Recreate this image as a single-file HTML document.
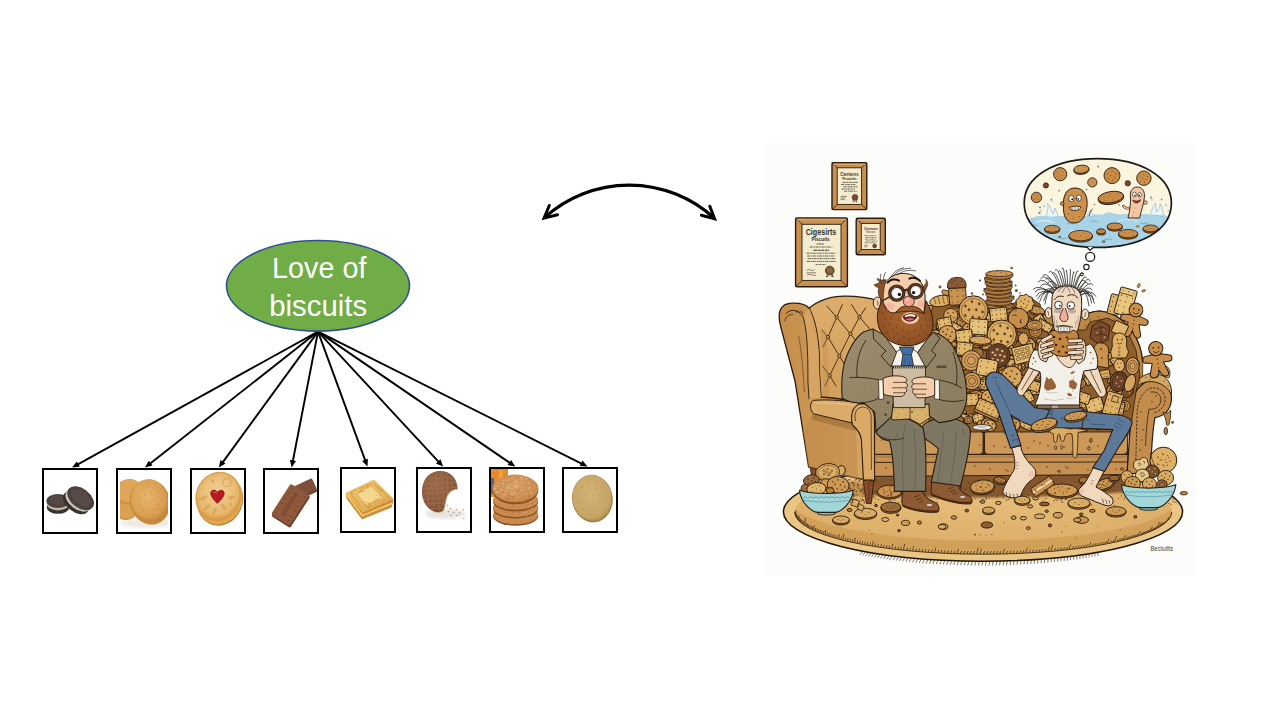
<!DOCTYPE html>
<html lang="en"><head><meta charset="utf-8"><title>Love of biscuits</title>
<style>
html,body{margin:0;padding:0;background:#fff;}
body{width:1280px;height:720px;overflow:hidden;}
svg{display:block;}
.t{font-family:"Liberation Sans",sans-serif;}
.s{font-family:"Liberation Serif",serif;}
</style></head><body>
<svg width="1280" height="720" viewBox="0 0 1280 720">
<rect width="1280" height="720" fill="#fff"/>
<defs>
<radialGradient id="gDig" cx="0.45" cy="0.4" r="0.65"><stop offset="0" stop-color="#E6B56C"/><stop offset="0.7" stop-color="#D99E52"/><stop offset="1" stop-color="#B87630"/></radialGradient>
<radialGradient id="gJam" cx="0.45" cy="0.4" r="0.65"><stop offset="0" stop-color="#F0CF94"/><stop offset="0.75" stop-color="#E8B96F"/><stop offset="1" stop-color="#D8923F"/></radialGradient>
<radialGradient id="gTea" cx="0.45" cy="0.4" r="0.65"><stop offset="0" stop-color="#D2B477"/><stop offset="0.8" stop-color="#C6A465"/><stop offset="1" stop-color="#A98345"/></radialGradient>
<radialGradient id="gChoc" cx="0.4" cy="0.35" r="0.7"><stop offset="0" stop-color="#9A6A48"/><stop offset="0.8" stop-color="#87573A"/><stop offset="1" stop-color="#6E432B"/></radialGradient>
<radialGradient id="gHob" cx="0.45" cy="0.4" r="0.7"><stop offset="0" stop-color="#D9A066"/><stop offset="0.8" stop-color="#C98A4E"/><stop offset="1" stop-color="#A8642F"/></radialGradient>
<linearGradient id="gCus" x1="0" y1="0" x2="1" y2="1"><stop offset="0" stop-color="#F0CB78"/><stop offset="1" stop-color="#E0A64C"/></linearGradient>
<filter id="b1"><feGaussianBlur stdDeviation="0.6"/></filter>
<filter id="b2"><feGaussianBlur stdDeviation="1.6"/></filter>
<clipPath id="cb2"><rect x="120" y="470" width="48" height="60"/></clipPath>
<clipPath id="cb7"><rect x="491" y="469" width="50" height="60"/></clipPath>

<clipPath id="cBub"><path d="M1097.6,158.6 C1140,158.6 1171.4,176 1171.4,203 C1171.4,231 1140,247.4 1097.6,247.4 C1055,247.4 1024.2,231 1024.2,203 C1024.2,176 1055,158.6 1097.6,158.6Z"/></clipPath>
<radialGradient id="gRug" cx="0.5" cy="0.35" r="0.7"><stop offset="0" stop-color="#E6BD79"/><stop offset="0.75" stop-color="#DDB06A"/><stop offset="1" stop-color="#CF9D56"/></radialGradient>
<clipPath id="cRugIn"><ellipse cx="983.2" cy="512" rx="188.6" ry="42.2"/></clipPath>

<linearGradient id="gWing" x1="0" y1="0" x2="1" y2="0"><stop offset="0" stop-color="#C48D4A"/><stop offset="0.55" stop-color="#CF9A57"/><stop offset="1" stop-color="#D9A965"/></linearGradient>
<linearGradient id="gBack" x1="0" y1="0" x2="0" y2="1"><stop offset="0" stop-color="#DDAE6B"/><stop offset="1" stop-color="#CE9A58"/></linearGradient>
<linearGradient id="gUnder" x1="0" y1="0" x2="0" y2="1"><stop offset="0" stop-color="#6E4420"/><stop offset="0.6" stop-color="#8E5E2E"/><stop offset="1" stop-color="#B88748" stop-opacity="0"/></linearGradient>
<filter id="bs"><feGaussianBlur stdDeviation="1.2"/></filter>

<linearGradient id="gJk" x1="0" y1="0" x2="1" y2="1"><stop offset="0" stop-color="#A09070"/><stop offset="1" stop-color="#8A7D5E"/></linearGradient>
<radialGradient id="gBeard" cx="0.5" cy="0.4" r="0.7"><stop offset="0" stop-color="#A8662F"/><stop offset="1" stop-color="#874A22"/></radialGradient>
<pattern id="pTweed" width="2.4" height="2.4" patternUnits="userSpaceOnUse"><rect width="2.4" height="2.4" fill="none"/><circle cx="0.6" cy="0.6" r="0.35" fill="#5E553F" opacity="0.55"/><circle cx="1.8" cy="1.8" r="0.35" fill="#5E553F" opacity="0.55"/></pattern>
</defs>
<g id="illustration">
<rect x="765" y="143.75" width="431.3" height="432" fill="#FCFCFA"/>
<rect x="832" y="162.6" width="34.799999999999955" height="47.0" rx="1.5" fill="#C8904E" stroke="#2A1B10" stroke-width="1.4"/><rect x="837.2" y="167.79999999999998" width="24.399999999999956" height="36.6" fill="#F5EBCF" stroke="#2A1B10" stroke-width="0.9"/><line x1="832" y1="162.6" x2="837.2" y2="167.79999999999998" stroke="#2A1B10" stroke-width="0.8"/><line x1="866.8" y1="162.6" x2="861.5999999999999" y2="167.79999999999998" stroke="#2A1B10" stroke-width="0.8"/><line x1="832" y1="209.6" x2="837.2" y2="204.4" stroke="#2A1B10" stroke-width="0.8"/><line x1="866.8" y1="209.6" x2="861.5999999999999" y2="204.4" stroke="#2A1B10" stroke-width="0.8"/><line x1="833.6" y1="164.4" x2="865.1999999999999" y2="164.4" stroke="#DDAE70" stroke-width="1"/>
<text x="849.4" y="175.6" text-anchor="middle" font-size="5" font-weight="bold" fill="#3A3228" class="t" textLength="18.5" lengthAdjust="spacingAndGlyphs">Cierteors</text>
<text x="849.4" y="179.9" text-anchor="middle" font-size="3.8" font-weight="bold" fill="#3A3228" class="t" textLength="14.5" lengthAdjust="spacingAndGlyphs">Pesaishs</text>
<line x1="842.5" y1="182.4" x2="858.0" y2="182.4" stroke="#4A4238" stroke-width="0.8" stroke-dasharray="3.2 0.7 1.6 0.5"/><line x1="841.0" y1="184.6" x2="855.5" y2="184.6" stroke="#4A4238" stroke-width="0.8" stroke-dasharray="3.2 0.7 1.6 0.5"/><line x1="843.5" y1="186.8" x2="857.5" y2="186.8" stroke="#4A4238" stroke-width="0.8" stroke-dasharray="3.2 0.7 1.6 0.5"/><line x1="841.5" y1="189" x2="855.0" y2="189" stroke="#4A4238" stroke-width="0.8" stroke-dasharray="3.2 0.7 1.6 0.5"/><line x1="844.0" y1="191.2" x2="856.5" y2="191.2" stroke="#4A4238" stroke-width="0.8" stroke-dasharray="3.2 0.7 1.6 0.5"/>
<circle cx="855" cy="197.4" r="2.9" fill="#7A4F2E" stroke="#3A2414" stroke-width="0.6"/><path d="M853.6,199.6 l-0.6,2.4 l1.6,-0.8 M856.2,199.8 l0.8,2.2 l-1.6,-0.7" stroke="#3A2414" stroke-width="0.6" fill="none"/>
<path d="M840.6,196.4 h6.4 M840.6,198 h5 M840.6,199.6 h4" stroke="#4A4238" stroke-width="0.6"/>
<rect x="795.6" y="217.9" width="51.799999999999955" height="68.9" rx="1.5" fill="#C8904E" stroke="#2A1B10" stroke-width="1.4"/><rect x="802.0" y="224.3" width="38.99999999999996" height="56.10000000000001" fill="#F5EBCF" stroke="#2A1B10" stroke-width="0.9"/><line x1="795.6" y1="217.9" x2="802.0" y2="224.3" stroke="#2A1B10" stroke-width="0.8"/><line x1="847.4" y1="217.9" x2="841.0" y2="224.3" stroke="#2A1B10" stroke-width="0.8"/><line x1="795.6" y1="286.8" x2="802.0" y2="280.40000000000003" stroke="#2A1B10" stroke-width="0.8"/><line x1="847.4" y1="286.8" x2="841.0" y2="280.40000000000003" stroke="#2A1B10" stroke-width="0.8"/><line x1="797.2" y1="219.70000000000002" x2="845.8" y2="219.70000000000002" stroke="#DDAE70" stroke-width="1"/>
<text x="821" y="235.1" text-anchor="middle" font-size="8.6" font-weight="bold" fill="#34302A" class="t" textLength="30.6" lengthAdjust="spacingAndGlyphs">Cigesirts</text>
<text x="820.6" y="241.1" text-anchor="middle" font-size="6.2" font-weight="bold" fill="#34302A" class="t" textLength="18.2" lengthAdjust="spacingAndGlyphs">Piscuits</text>
<path d="M816.6,244 h7.4" stroke="#4A4238" stroke-width="0.8"/>
<line x1="809.6" y1="247" x2="832.4" y2="247" stroke="#4A4238" stroke-width="0.8" stroke-dasharray="3.2 0.7 1.6 0.5"/>
<path d="M813.4,250.2 h15.6" stroke="#3A342C" stroke-width="1.1" stroke-dasharray="4 0.6 2 0.4"/>
<line x1="806.6" y1="253.2" x2="835.5" y2="253.2" stroke="#4A4238" stroke-width="0.8" stroke-dasharray="3.2 0.7 1.6 0.5"/><line x1="807.1" y1="256" x2="835.0" y2="256" stroke="#4A4238" stroke-width="0.8" stroke-dasharray="3.2 0.7 1.6 0.5"/><line x1="807.6" y1="258.6" x2="836.0" y2="258.6" stroke="#4A4238" stroke-width="0.8" stroke-dasharray="3.2 0.7 1.6 0.5"/><line x1="806.6" y1="261.4" x2="836.0" y2="261.4" stroke="#4A4238" stroke-width="0.8" stroke-dasharray="3.2 0.7 1.6 0.5"/>
<path d="M815.6,264.6 h10.6" stroke="#4A4238" stroke-width="0.8" stroke-dasharray="2.5 0.8"/>
<circle cx="829.8" cy="270.6" r="4.4" fill="#7A5A36" stroke="#3A2414" stroke-width="0.7"/><circle cx="829.8" cy="270.6" r="2.4" fill="#8F6D44"/><path d="M827.6,274.2 l-1.2,2.6 l2.2,-0.9 M832,274.2 l1.2,2.6 l-2.2,-0.9" stroke="#3A2414" stroke-width="0.8" fill="none"/>
<path d="M806.6,270.6 q2,-2 4,-0.6 t4,-0.4 M806.6,272.8 h9.6 M807,275 q3,-1.4 5,0 t4,-0.2" stroke="#4A4238" stroke-width="0.6" fill="none"/>
<rect x="856.2" y="218.3" width="29.09999999999991" height="36.39999999999998" rx="1.5" fill="#C8904E" stroke="#2A1B10" stroke-width="1.4"/><rect x="861.3000000000001" y="223.4" width="18.89999999999991" height="26.199999999999978" fill="#F5EBCF" stroke="#2A1B10" stroke-width="0.9"/><line x1="856.2" y1="218.3" x2="861.3000000000001" y2="223.4" stroke="#2A1B10" stroke-width="0.8"/><line x1="885.3" y1="218.3" x2="880.1999999999999" y2="223.4" stroke="#2A1B10" stroke-width="0.8"/><line x1="856.2" y1="254.7" x2="861.3000000000001" y2="249.6" stroke="#2A1B10" stroke-width="0.8"/><line x1="885.3" y1="254.7" x2="880.1999999999999" y2="249.6" stroke="#2A1B10" stroke-width="0.8"/><line x1="857.8000000000001" y1="220.10000000000002" x2="883.6999999999999" y2="220.10000000000002" stroke="#DDAE70" stroke-width="1"/>
<text x="870.8" y="229.9" text-anchor="middle" font-size="3.9" font-weight="bold" fill="#3A3228" class="t" textLength="13.8" lengthAdjust="spacingAndGlyphs">Ciertuars</text>
<text x="870.8" y="233.3" text-anchor="middle" font-size="2.6" fill="#3A3228" class="t" textLength="9.6" lengthAdjust="spacingAndGlyphs">Simusonr</text>
<line x1="864.4" y1="235.6" x2="876.4" y2="235.6" stroke="#4A4238" stroke-width="0.6" stroke-dasharray="3.2 0.7 1.6 0.5"/><line x1="865.4" y1="237.4" x2="876.9" y2="237.4" stroke="#4A4238" stroke-width="0.6" stroke-dasharray="3.2 0.7 1.6 0.5"/><line x1="864.9" y1="239.2" x2="875.9" y2="239.2" stroke="#4A4238" stroke-width="0.6" stroke-dasharray="3.2 0.7 1.6 0.5"/><line x1="865.9" y1="241" x2="877.4" y2="241" stroke="#4A4238" stroke-width="0.6" stroke-dasharray="3.2 0.7 1.6 0.5"/><line x1="864.4" y1="242.8" x2="876.4" y2="242.8" stroke="#4A4238" stroke-width="0.6" stroke-dasharray="3.2 0.7 1.6 0.5"/>
<circle cx="874.6" cy="245.9" r="2" fill="#6E4A2A" stroke="#3A2414" stroke-width="0.5"/>
<path d="M864.2,245.4 h4 M864.2,246.8 h3" stroke="#4A4238" stroke-width="0.5"/>
<path d="M1097.6,158.6 C1140,158.6 1171.4,176 1171.4,203 C1171.4,231 1140,247.4 1097.6,247.4 C1055,247.4 1024.2,231 1024.2,203 C1024.2,176 1055,158.6 1097.6,158.6Z" fill="#FBF4DF"/>
<g clip-path="url(#cBub)">
<path d="M1020,219 C1030,221 1036,214 1044,216 C1052,221 1058,214 1064,216 L1086,216 C1092,212 1098,216 1104,214 C1110,210 1116,216 1124,214 L1148,214 C1154,218 1160,212 1166,216 L1176,218 L1176,250 L1020,250Z" fill="#A9D4E7"/>
<path d="M1030,226 q4,-2 8,0 M1066,224 q4,-2 8,0 M1090,222 q4,-2 8,0 M1104,240 q4,-2 8,0 M1140,224 q4,-2 8,0 M1060,238 q4,2 8,0 M1144,238 q4,-2 8,0 M1098,229 q3,-1.6 6,0" stroke="#5E9BC0" stroke-width="0.7" fill="none"/>
<path d="M1036,222 q10,-3 18,1 M1118,221 q10,-3 20,0 M1070,230 q8,3 16,0" stroke="#D8EDF6" stroke-width="1.2" fill="none"/>
<path d="M1046,217 C1047,211 1049,207 1047.4,203.6 C1050.6,206 1051,211 1053,214 C1054,211.6 1055,210 1054.6,208 C1057,211 1057,215 1059,217Z" fill="#EAF5FA" stroke="#7DB2D2" stroke-width="0.6"/>
<path d="M1150,215 C1152,210 1153,206 1155.6,203 C1156.4,207 1155,210 1157,212 C1159,208.6 1160.6,206 1160,203.6 C1163,207 1162,212 1164,216Z" fill="#EAF5FA" stroke="#7DB2D2" stroke-width="0.6"/>
<path d="M1087,216 C1088.6,212 1090,210 1091.6,210.6 C1091,213 1092.6,215 1095,216Z" fill="#EAF5FA" stroke="#7DB2D2" stroke-width="0.5"/>
<g fill="#EAF5FA" stroke="#7DB2D2" stroke-width="0.5"><circle cx="1044" cy="206" r="0.9"/><circle cx="1051.6" cy="200.6" r="0.8"/><circle cx="1166" cy="205" r="0.9"/><circle cx="1152" cy="199.6" r="0.8"/><circle cx="1040.6" cy="211" r="0.8"/><circle cx="1168.6" cy="211" r="0.8"/></g>
<g><path d="M1044.6,228.8 v1.4 a7.6,3.4 0 0 0 15.2,0 v-1.4Z" fill="#9C6A30" stroke="#2A1B10" stroke-width="0.8"/><ellipse cx="1052.2" cy="228.8" rx="7.6" ry="3.4" fill="#C98F4A" stroke="#2A1B10" stroke-width="0.8"/><ellipse cx="1049.2" cy="227.6" rx="0.5" ry="0.30" fill="#5A3A1E"/><ellipse cx="1054.9" cy="227.4" rx="0.5" ry="0.30" fill="#5A3A1E"/><ellipse cx="1052.2" cy="229.0" rx="0.5" ry="0.30" fill="#5A3A1E"/><ellipse cx="1048.8" cy="230.2" rx="0.5" ry="0.30" fill="#5A3A1E"/><ellipse cx="1055.6" cy="230.0" rx="0.5" ry="0.30" fill="#5A3A1E"/></g>
<g><path d="M1068.9,235.6 v1.4 a11.8,5.2 0 0 0 23.6,0 v-1.4Z" fill="#9C6A30" stroke="#2A1B10" stroke-width="0.8"/><ellipse cx="1080.7" cy="235.6" rx="11.8" ry="5.2" fill="#C98F4A" stroke="#2A1B10" stroke-width="0.8"/><ellipse cx="1076.0" cy="233.8" rx="0.5" ry="0.30" fill="#5A3A1E"/><ellipse cx="1084.8" cy="233.5" rx="0.5" ry="0.30" fill="#5A3A1E"/><ellipse cx="1080.7" cy="235.9" rx="0.5" ry="0.30" fill="#5A3A1E"/><ellipse cx="1075.4" cy="237.7" rx="0.5" ry="0.30" fill="#5A3A1E"/><ellipse cx="1086.0" cy="237.4" rx="0.5" ry="0.30" fill="#5A3A1E"/></g>
<g><path d="M1096.7,231.4 v1.4 a4.4,2.3 0 0 0 8.8,0 v-1.4Z" fill="#9C6A30" stroke="#2A1B10" stroke-width="0.8"/><ellipse cx="1101.1" cy="231.4" rx="4.4" ry="2.3" fill="#C98F4A" stroke="#2A1B10" stroke-width="0.8"/><ellipse cx="1099.3" cy="230.6" rx="0.5" ry="0.34" fill="#5A3A1E"/><ellipse cx="1102.6" cy="230.5" rx="0.5" ry="0.34" fill="#5A3A1E"/><ellipse cx="1101.1" cy="231.5" rx="0.5" ry="0.34" fill="#5A3A1E"/><ellipse cx="1099.1" cy="232.3" rx="0.5" ry="0.34" fill="#5A3A1E"/><ellipse cx="1103.1" cy="232.2" rx="0.5" ry="0.34" fill="#5A3A1E"/></g>
<g><path d="M1107.2,226.4 v1.4 a7.6,3.4 0 0 0 15.2,0 v-1.4Z" fill="#9C6A30" stroke="#2A1B10" stroke-width="0.8"/><ellipse cx="1114.8" cy="226.4" rx="7.6" ry="3.4" fill="#C98F4A" stroke="#2A1B10" stroke-width="0.8"/><ellipse cx="1111.8" cy="225.2" rx="0.5" ry="0.30" fill="#5A3A1E"/><ellipse cx="1117.5" cy="225.0" rx="0.5" ry="0.30" fill="#5A3A1E"/><ellipse cx="1114.8" cy="226.6" rx="0.5" ry="0.30" fill="#5A3A1E"/><ellipse cx="1111.4" cy="227.8" rx="0.5" ry="0.30" fill="#5A3A1E"/><ellipse cx="1118.2" cy="227.6" rx="0.5" ry="0.30" fill="#5A3A1E"/></g>
<g><path d="M1118.5,233.6 v1.4 a9.6,4.2 0 0 0 19.2,0 v-1.4Z" fill="#9C6A30" stroke="#2A1B10" stroke-width="0.8"/><ellipse cx="1128.1" cy="233.6" rx="9.6" ry="4.2" fill="#C98F4A" stroke="#2A1B10" stroke-width="0.8"/><ellipse cx="1124.3" cy="232.1" rx="0.5" ry="0.29" fill="#5A3A1E"/><ellipse cx="1131.5" cy="231.9" rx="0.5" ry="0.29" fill="#5A3A1E"/><ellipse cx="1128.1" cy="233.8" rx="0.5" ry="0.29" fill="#5A3A1E"/><ellipse cx="1123.8" cy="235.3" rx="0.5" ry="0.29" fill="#5A3A1E"/><ellipse cx="1132.4" cy="235.1" rx="0.5" ry="0.29" fill="#5A3A1E"/></g>
<g><path d="M1143.0,228.4 v1.4 a7.6,3.4 0 0 0 15.2,0 v-1.4Z" fill="#9C6A30" stroke="#2A1B10" stroke-width="0.8"/><ellipse cx="1150.6" cy="228.4" rx="7.6" ry="3.4" fill="#C98F4A" stroke="#2A1B10" stroke-width="0.8"/><ellipse cx="1147.6" cy="227.2" rx="0.5" ry="0.30" fill="#5A3A1E"/><ellipse cx="1153.3" cy="227.0" rx="0.5" ry="0.30" fill="#5A3A1E"/><ellipse cx="1150.6" cy="228.6" rx="0.5" ry="0.30" fill="#5A3A1E"/><ellipse cx="1147.2" cy="229.8" rx="0.5" ry="0.30" fill="#5A3A1E"/><ellipse cx="1154.0" cy="229.6" rx="0.5" ry="0.30" fill="#5A3A1E"/></g>
<ellipse cx="1059.6" cy="237" rx="1.6" ry="1" fill="#8C5A2A"/><ellipse cx="1103.6" cy="241.6" rx="1.5" ry="0.9" fill="#C98F4A" stroke="#2A1B10" stroke-width="0.5"/><ellipse cx="1137.6" cy="226.4" rx="2" ry="1.1" fill="#A8743A"/>
</g>
<g><ellipse cx="1060.2" cy="174.2" rx="6.6" ry="6.6" fill="#C98F4A" stroke="#2A1B10" stroke-width="0.9"/><ellipse cx="1056.9" cy="172.2" rx="0.45" ry="0.45" fill="#5A3A1E"/><ellipse cx="1060.2" cy="170.6" rx="0.45" ry="0.45" fill="#5A3A1E"/><ellipse cx="1063.5" cy="172.5" rx="0.45" ry="0.45" fill="#5A3A1E"/><ellipse cx="1059.2" cy="174.2" rx="0.45" ry="0.45" fill="#5A3A1E"/><ellipse cx="1062.2" cy="175.5" rx="0.45" ry="0.45" fill="#5A3A1E"/><ellipse cx="1057.2" cy="176.8" rx="0.45" ry="0.45" fill="#5A3A1E"/><ellipse cx="1060.9" cy="177.8" rx="0.45" ry="0.45" fill="#5A3A1E"/></g>
<g transform="rotate(-6 1081.3 169.2)"><path d="M1073.7,169.2 v1.2 a7.6,4.0 0 0 0 15.2,0 v-1.2Z" fill="#A5713A" stroke="#2A1B10" stroke-width="0.9"/><ellipse cx="1081.3" cy="169.2" rx="7.6" ry="4.0" fill="#CF9650" stroke="#2A1B10" stroke-width="0.9"/><ellipse cx="1078.3" cy="167.8" rx="0.45" ry="0.30" fill="#5A3A1E"/><ellipse cx="1084.0" cy="167.6" rx="0.45" ry="0.30" fill="#5A3A1E"/><ellipse cx="1081.3" cy="169.4" rx="0.45" ry="0.30" fill="#5A3A1E"/><ellipse cx="1077.9" cy="170.8" rx="0.45" ry="0.30" fill="#5A3A1E"/><ellipse cx="1084.7" cy="170.6" rx="0.45" ry="0.30" fill="#5A3A1E"/></g>
<g><ellipse cx="1112.0" cy="175.6" rx="8.0" ry="8.0" fill="#C98A46" stroke="#2A1B10" stroke-width="0.9"/><ellipse cx="1108.0" cy="173.2" rx="0.5" ry="0.50" fill="#5A3A1E"/><ellipse cx="1112.0" cy="171.2" rx="0.5" ry="0.50" fill="#5A3A1E"/><ellipse cx="1116.0" cy="173.6" rx="0.5" ry="0.50" fill="#5A3A1E"/><ellipse cx="1110.8" cy="175.6" rx="0.5" ry="0.50" fill="#5A3A1E"/><ellipse cx="1114.4" cy="177.2" rx="0.5" ry="0.50" fill="#5A3A1E"/><ellipse cx="1108.4" cy="178.8" rx="0.5" ry="0.50" fill="#5A3A1E"/><ellipse cx="1112.8" cy="180.0" rx="0.5" ry="0.50" fill="#5A3A1E"/></g>
<g><ellipse cx="1143.9" cy="178.2" rx="7.2" ry="7.2" fill="#CC904A" stroke="#2A1B10" stroke-width="0.9"/><ellipse cx="1140.3" cy="176.0" rx="0.5" ry="0.50" fill="#5A3A1E"/><ellipse cx="1143.9" cy="174.2" rx="0.5" ry="0.50" fill="#5A3A1E"/><ellipse cx="1147.5" cy="176.4" rx="0.5" ry="0.50" fill="#5A3A1E"/><ellipse cx="1142.8" cy="178.2" rx="0.5" ry="0.50" fill="#5A3A1E"/><ellipse cx="1146.1" cy="179.6" rx="0.5" ry="0.50" fill="#5A3A1E"/><ellipse cx="1140.7" cy="181.1" rx="0.5" ry="0.50" fill="#5A3A1E"/><ellipse cx="1144.6" cy="182.2" rx="0.5" ry="0.50" fill="#5A3A1E"/></g>
<g><ellipse cx="1092.3" cy="182.4" rx="4.6" ry="4.6" fill="#CF9650" stroke="#2A1B10" stroke-width="0.9"/><ellipse cx="1090.5" cy="180.8" rx="0.4" ry="0.40" fill="#5A3A1E"/><ellipse cx="1093.9" cy="180.6" rx="0.4" ry="0.40" fill="#5A3A1E"/><ellipse cx="1092.3" cy="182.6" rx="0.4" ry="0.40" fill="#5A3A1E"/><ellipse cx="1090.2" cy="184.2" rx="0.4" ry="0.40" fill="#5A3A1E"/><ellipse cx="1094.4" cy="184.0" rx="0.4" ry="0.40" fill="#5A3A1E"/></g>
<g><ellipse cx="1036.4" cy="197.4" rx="5.2" ry="5.2" fill="#C98F4A" stroke="#2A1B10" stroke-width="0.9"/><ellipse cx="1034.3" cy="195.6" rx="0.4" ry="0.40" fill="#5A3A1E"/><ellipse cx="1038.2" cy="195.3" rx="0.4" ry="0.40" fill="#5A3A1E"/><ellipse cx="1036.4" cy="197.7" rx="0.4" ry="0.40" fill="#5A3A1E"/><ellipse cx="1034.1" cy="199.5" rx="0.4" ry="0.40" fill="#5A3A1E"/><ellipse cx="1038.7" cy="199.2" rx="0.4" ry="0.40" fill="#5A3A1E"/></g>
<circle cx="1045.9" cy="185.4" r="2.6" fill="#7A4A26" stroke="#2A1B10" stroke-width="0.7"/><circle cx="1127.8" cy="183.3" r="2.7" fill="#7A4A26" stroke="#2A1B10" stroke-width="0.7"/>
<g fill="#8A7A66"><circle cx="1098.2" cy="166.4" r="1"/><circle cx="1059.2" cy="190.6" r="0.9"/><circle cx="1051.4" cy="199.4" r="0.8"/><circle cx="1086.6" cy="189.6" r="0.8"/><circle cx="1094.6" cy="204.6" r="0.8"/><circle cx="1119" cy="205" r="0.8"/><circle cx="1151" cy="197.4" r="0.9"/><circle cx="1161.6" cy="199.4" r="0.8"/><circle cx="1040" cy="207.4" r="0.9"/><circle cx="1039.4" cy="213" r="1.1"/></g>
<g transform="rotate(-9 1110.8 197.2)"><path d="M1098.0,197.2 v1.5 a12.8,5.6 0 0 0 25.6,0 v-1.5Z" fill="#9C6A30" stroke="#2A1B10" stroke-width="0.9"/><ellipse cx="1110.8" cy="197.2" rx="12.8" ry="5.6" fill="#C98A46" stroke="#2A1B10" stroke-width="0.9"/><ellipse cx="1104.4" cy="195.5" rx="0.5" ry="0.29" fill="#5A3A1E"/><ellipse cx="1110.8" cy="194.1" rx="0.5" ry="0.29" fill="#5A3A1E"/><ellipse cx="1117.2" cy="195.8" rx="0.5" ry="0.29" fill="#5A3A1E"/><ellipse cx="1108.9" cy="197.2" rx="0.5" ry="0.29" fill="#5A3A1E"/><ellipse cx="1114.6" cy="198.3" rx="0.5" ry="0.29" fill="#5A3A1E"/><ellipse cx="1105.0" cy="199.4" rx="0.5" ry="0.29" fill="#5A3A1E"/><ellipse cx="1112.1" cy="200.3" rx="0.5" ry="0.29" fill="#5A3A1E"/></g>
<path d="M1075,188 C1084,188 1088,196 1087,206 C1086,216 1082,223 1074,223 C1066,223 1063,215 1063.4,206 C1063,196 1066,188 1075,188Z" fill="#CC904A" stroke="#2A1B10" stroke-width="1"/>
<circle cx="1062.2" cy="203.6" r="1.8" fill="#CC904A" stroke="#2A1B10" stroke-width="0.7"/>
<ellipse cx="1071.4" cy="198.6" rx="2.6" ry="3.1" fill="#fff" stroke="#2A1B10" stroke-width="0.7"/><ellipse cx="1078.8" cy="198" rx="2.5" ry="3" fill="#fff" stroke="#2A1B10" stroke-width="0.7"/><circle cx="1072.2" cy="199.2" r="0.9" fill="#111"/><circle cx="1078.2" cy="198.8" r="0.9" fill="#111"/>
<path d="M1069,207.6 C1072,206 1078,205.6 1081,207 C1080,211 1072,212.4 1069,207.6Z" fill="#F4EEE2" stroke="#2A1B10" stroke-width="0.8"/><path d="M1072,207 v3.6 M1075,206.6 v4 M1078,206.6 v3.4" stroke="#2A1B10" stroke-width="0.5"/>
<g fill="#6B4420"><circle cx="1068" cy="214" r="0.6"/><circle cx="1073" cy="218" r="0.6"/><circle cx="1079" cy="216.6" r="0.6"/><circle cx="1083" cy="211" r="0.6"/><circle cx="1067" cy="193" r="0.5"/><circle cx="1082.6" cy="193" r="0.5"/></g>
<path d="M1089,216 C1090,212 1091,210 1092.6,209" stroke="#2A1B10" stroke-width="0.8" fill="none"/>
<path d="M1128,218 C1130,210 1131,202 1130.4,196 C1130,190 1133,187 1137,187 C1142,187 1145,191 1144.4,197 C1144,204 1141,211 1139.6,218Z" fill="#F3C7A3" stroke="#2A1B10" stroke-width="0.9"/>
<circle cx="1145.4" cy="202.6" r="1.8" fill="#F3C7A3" stroke="#2A1B10" stroke-width="0.7"/><path d="M1128.6,208 C1126,209 1124.6,207.6 1123.4,206" stroke="#2A1B10" stroke-width="2.6" stroke-linecap="round" fill="none"/><path d="M1128.6,208 C1126,209 1124.6,207.6 1123.4,206" stroke="#F3C7A3" stroke-width="1.5" stroke-linecap="round" fill="none"/>
<ellipse cx="1134.4" cy="194.6" rx="2" ry="2.5" fill="#fff" stroke="#2A1B10" stroke-width="0.6"/><ellipse cx="1139.6" cy="194.8" rx="1.9" ry="2.4" fill="#fff" stroke="#2A1B10" stroke-width="0.6"/><circle cx="1134.8" cy="195.2" r="0.8" fill="#111"/><circle cx="1139.2" cy="195.4" r="0.8" fill="#111"/>
<path d="M1132.6,200 C1135,201.4 1138.6,201.4 1140.6,199.6 C1140,203.6 1134,204.6 1132.6,200Z" fill="#C0282C" stroke="#2A1B10" stroke-width="0.6"/>
<g fill="#C98F6A"><circle cx="1134.6" cy="208" r="0.7"/><circle cx="1133.6" cy="212" r="0.7"/><circle cx="1132.6" cy="216" r="0.7"/></g>
<path d="M1097.6,158.6 C1140,158.6 1171.4,176 1171.4,203 C1171.4,231 1140,247.4 1097.6,247.4 C1055,247.4 1024.2,231 1024.2,203 C1024.2,176 1055,158.6 1097.6,158.6Z" fill="none" stroke="#1E1A16" stroke-width="1.7"/>
<path d="M1087,247 L1090,250.4 L1093.6,247" fill="#FCFCFA" stroke="#1E1A16" stroke-width="1.2"/>
<circle cx="1090.2" cy="256.9" r="4.5" fill="#FDFDFB" stroke="#1E1A16" stroke-width="1.3"/><circle cx="1086.4" cy="267.1" r="2.7" fill="#FDFDFB" stroke="#1E1A16" stroke-width="1.1"/><circle cx="1082" cy="274.2" r="1.5" fill="#FDFDFB" stroke="#1E1A16" stroke-width="0.9"/>
<path d="M1097.5,552.3L1098.0,555.9M1094.6,552.8L1095.1,556.4M1091.7,553.2L1092.1,556.9M1088.8,553.7L1089.2,557.4M1085.8,554.1L1086.1,557.9M1082.8,554.6L1083.1,558.4M1079.8,555.0L1080.0,558.9M1076.7,555.4L1076.9,559.3M1073.6,555.8L1073.8,559.7M1070.5,556.2L1070.6,560.2M1067.4,556.6L1067.4,560.6M1064.2,556.9L1064.2,560.9M1061.0,557.3L1061.0,561.3M1057.8,557.6L1057.7,561.7M1054.5,557.9L1054.4,562.0M1051.3,558.2L1051.1,562.4M1048.0,558.5L1047.8,562.7M1044.7,558.8L1044.4,563.0M1041.4,559.0L1041.0,563.2M1038.0,559.3L1037.6,563.5M1034.7,559.5L1034.2,563.8M1031.3,559.7L1030.8,564.0M1027.9,559.9L1027.4,564.2M1024.5,560.1L1023.9,564.4M1021.1,560.3L1020.5,564.6M1017.7,560.4L1017.0,564.8M1014.2,560.6L1013.5,564.9M1010.8,560.7L1010.0,565.1M1007.3,560.8L1006.5,565.2M1003.9,560.9L1003.0,565.3M1000.4,561.0L999.5,565.4M996.9,561.1L995.9,565.5M993.4,561.1L992.4,565.5M990.0,561.2L988.9,565.6M986.5,561.2L985.3,565.6M983.0,561.2L981.8,565.6M979.5,561.2L978.3,565.6M976.0,561.2L974.7,565.6M972.6,561.1L971.2,565.5M969.1,561.1L967.7,565.5M965.6,561.0L964.1,565.4M962.1,560.9L960.6,565.3M958.7,560.8L957.1,565.2M955.2,560.7L953.6,565.1M951.8,560.6L950.1,564.9M948.3,560.4L946.6,564.8M944.9,560.3L943.1,564.6M941.5,560.1L939.7,564.4M938.1,559.9L936.2,564.2M934.7,559.7L932.8,564.0M931.3,559.5L929.4,563.8M928.0,559.3L926.0,563.5M924.6,559.0L922.6,563.2M921.3,558.8L919.2,563.0M918.0,558.5L915.8,562.7M914.7,558.2L912.5,562.4M911.5,557.9L909.2,562.0M908.2,557.6L905.9,561.7M905.0,557.3L902.6,561.3M901.8,556.9L899.4,560.9M898.6,556.6L896.2,560.6M895.5,556.2L893.0,560.2M892.4,555.8L889.8,559.7M889.3,555.4L886.7,559.3M886.2,555.0L883.6,558.9M883.2,554.6L880.5,558.4M880.2,554.1L877.5,557.9M877.2,553.7L874.4,557.4M874.3,553.2L871.5,556.9M871.4,552.8L868.5,556.4M868.5,552.3L865.6,555.9M865.7,551.8L862.7,555.3M862.9,551.3L859.9,554.8" stroke="#4A3820" stroke-width="0.8" opacity="0.85"/>
<ellipse cx="983" cy="511.8" rx="199.6" ry="49.4" fill="#EAC583" stroke="#1E150C" stroke-width="1.5"/>
<ellipse cx="983.2" cy="512" rx="188.6" ry="42.2" fill="url(#gRug)"/>
<g clip-path="url(#cRugIn)">
<ellipse cx="983.2" cy="503" rx="196" ry="42" fill="none" stroke="#C9954E" stroke-width="9" opacity="0.55"/>
<path d="M1171.3,514.9l2.8,-3.2M1171.1,515.7l2.8,-3.2M1170.8,516.4l2.8,-3.2M1170.4,517.1l2.8,-5.0M1170.0,517.9l2.8,-3.2M1169.5,518.6l2.8,-3.2M1168.9,519.3l2.8,-3.2M1168.3,520.1l2.8,-3.2M1167.7,520.8l2.8,-3.2M1167.0,521.5l2.8,-3.2M1166.2,522.2l2.8,-5.0M1165.4,522.9l2.8,-3.2M1164.5,523.6l2.8,-3.2M1163.6,524.3l2.7,-3.2M1162.6,525.0l2.7,-3.2M1161.5,525.7l2.7,-3.2M1160.4,526.4l2.7,-3.2M1159.3,527.1l2.7,-5.0M1158.1,527.8l2.7,-3.2M1156.8,528.5l2.7,-6.2M1155.5,529.2l2.7,-3.2M1154.1,529.8l2.7,-3.2M1152.7,530.5l2.7,-3.2M1151.2,531.2l2.7,-3.2M1149.7,531.8l2.7,-5.0M1148.2,532.5l2.6,-3.2M1146.5,533.1l2.6,-3.2M1144.9,533.7l2.6,-3.2M1143.1,534.4l2.6,-3.2M1141.4,535.0l2.6,-3.2M1139.6,535.6l2.6,-3.2M1137.7,536.2l2.6,-5.0M1135.8,536.8l2.6,-3.2M1133.8,537.4l2.6,-3.2M1131.8,538.0l2.5,-3.2M1129.8,538.6l2.5,-3.2M1127.7,539.1l2.5,-3.2M1125.5,539.7l2.5,-3.2M1123.4,540.2l2.5,-5.0M1121.1,540.8l2.5,-3.2M1118.9,541.3l2.5,-3.2M1116.6,541.8l2.4,-3.2M1114.2,542.4l2.4,-6.2M1111.8,542.9l2.4,-3.2M1109.4,543.4l2.4,-3.2M1106.9,543.8l2.4,-5.0M1104.4,544.3l2.4,-3.2M1101.9,544.8l2.4,-3.2M1099.3,545.3l2.3,-3.2M1096.7,545.7l2.3,-3.2M1094.1,546.1l2.3,-3.2M1091.4,546.6l2.3,-3.2M1088.7,547.0l2.3,-5.0M1085.9,547.4l2.3,-3.2M1083.1,547.8l2.2,-3.2M1080.3,548.2l2.2,-3.2M1077.5,548.5l2.2,-3.2M1074.6,548.9l2.2,-3.2M1071.7,549.3l2.2,-3.2M1068.8,549.6l2.1,-5.0M1065.9,549.9l2.1,-3.2M1062.9,550.2l2.1,-3.2M1059.9,550.6l2.1,-3.2M1056.9,550.8l2.1,-3.2M1053.9,551.1l2.0,-3.2M1050.8,551.4l2.0,-6.2M1047.7,551.7l2.0,-5.0M1044.6,551.9l2.0,-3.2M1041.5,552.1l2.0,-3.2M1038.3,552.4l2.0,-3.2M1035.2,552.6l1.9,-3.2M1032.0,552.8l1.9,-3.2M1028.8,552.9l1.9,-3.2M1025.6,553.1l1.9,-5.0M1022.4,553.3l1.8,-3.2M1019.2,553.4l1.8,-3.2M1016.0,553.6l1.8,-3.2M1012.7,553.7l1.8,-3.2M1009.4,553.8l1.8,-3.2M1006.2,553.9l1.7,-3.2M1002.9,554.0l1.7,-5.0M999.6,554.0l1.7,-3.2M996.4,554.1l1.7,-3.2M993.1,554.1l1.7,-3.2M989.8,554.2l1.6,-3.2M986.5,554.2l1.6,-3.2M983.2,554.2l1.6,-3.2M979.9,554.2l1.6,-5.0M976.6,554.2l1.6,-6.2M973.3,554.1l1.5,-3.2M970.0,554.1l1.5,-3.2M966.8,554.0l1.5,-3.2M963.5,554.0l1.5,-3.2M960.2,553.9l1.5,-3.2M957.0,553.8l1.4,-5.0M953.7,553.7l1.4,-3.2M950.4,553.6l1.4,-3.2M947.2,553.4l1.4,-3.2M944.0,553.3l1.4,-3.2M940.8,553.1l1.3,-3.2M937.6,552.9l1.3,-3.2M934.4,552.8l1.3,-5.0M931.2,552.6l1.3,-3.2M928.1,552.4l1.2,-3.2M924.9,552.1l1.2,-3.2M921.8,551.9l1.2,-3.2M918.7,551.7l1.2,-3.2M915.6,551.4l1.2,-3.2M912.5,551.1l1.2,-5.0M909.5,550.8l1.1,-3.2M906.5,550.6l1.1,-3.2M903.5,550.2l1.1,-6.2M900.5,549.9l1.1,-3.2M897.6,549.6l1.1,-3.2M894.7,549.3l1.0,-3.2M891.8,548.9l1.0,-5.0M888.9,548.5l1.0,-3.2M886.1,548.2l1.0,-3.2M883.3,547.8l1.0,-3.2M880.5,547.4l0.9,-3.2M877.7,547.0l0.9,-3.2M875.0,546.6l0.9,-3.2M872.3,546.1l0.9,-5.0M869.7,545.7l0.9,-3.2M867.1,545.3l0.9,-3.2M864.5,544.8l0.8,-3.2M862.0,544.3l0.8,-3.2M859.5,543.8l0.8,-3.2M857.0,543.4l0.8,-3.2M854.6,542.9l0.8,-5.0M852.2,542.4l0.8,-3.2M849.8,541.8l0.8,-3.2M847.5,541.3l0.7,-3.2M845.3,540.8l0.7,-3.2M843.0,540.2l0.7,-6.2M840.9,539.7l0.7,-3.2M838.7,539.1l0.7,-5.0M836.6,538.6l0.7,-3.2M834.6,538.0l0.7,-3.2M832.6,537.4l0.6,-3.2M830.6,536.8l0.6,-3.2M828.7,536.2l0.6,-3.2M826.8,535.6l0.6,-3.2M825.0,535.0l0.6,-5.0M823.3,534.4l0.6,-3.2M821.5,533.7l0.6,-3.2M819.9,533.1l0.6,-3.2M818.2,532.5l0.6,-3.2M816.7,531.8l0.5,-3.2M815.2,531.2l0.5,-3.2M813.7,530.5l0.5,-5.0M812.3,529.8l0.5,-3.2M810.9,529.2l0.5,-3.2M809.6,528.5l0.5,-3.2M808.3,527.8l0.5,-3.2M807.1,527.1l0.5,-3.2M806.0,526.4l0.5,-3.2M804.9,525.7l0.5,-8.0M803.8,525.0l0.5,-3.2M802.8,524.3l0.5,-3.2M801.9,523.6l0.4,-3.2M801.0,522.9l0.4,-3.2M800.2,522.2l0.4,-3.2M799.4,521.5l0.4,-3.2M798.7,520.8l0.4,-5.0M798.1,520.1l0.4,-3.2M797.5,519.3l0.4,-3.2M796.9,518.6l0.4,-3.2M796.4,517.9l0.4,-3.2M796.0,517.1l0.4,-3.2M795.6,516.4l0.4,-3.2M795.3,515.7l0.4,-5.0M795.1,514.9l0.4,-3.2" stroke="#4A3016" stroke-width="0.85" opacity="0.95"/>
</g>
<path d="M794.6,512 A188.6,42.2 0 0 0 1171.8,512" fill="none" stroke="#3A2814" stroke-width="1" opacity="0.9"/>
<path d="M868,476 L1128,472 L1140,490 C1100,498 900,500 862,494Z" fill="#7A4E26" opacity="0.9" filter="url(#bs)"/>
<path d="M816,474 L866,484 L866,497 C848,497 828,490 818,482Z" fill="#A8763C" opacity="0.55" filter="url(#bs)"/>
<path d="M810,466 L816.4,468 L815.6,476 L811.4,475.4Z" fill="#8B4A2B" stroke="#2A1B10" stroke-width="0.8"/>
<path d="M808,309 C818,300.6 832,296.2 845,296.2 C858,296.2 870,298 880,301 L935,306 L1082,318 C1088,312 1094,311 1100,311 C1112,312 1124,320 1133,332 C1139,342 1142,352 1142.6,362 L1142,434 L808,434Z" fill="url(#gBack)" stroke="#2A1B10" stroke-width="1.2"/>
<path d="M1040,318 L1082,318 C1088,312 1094,311 1100,311 C1112,312 1124,320 1133,332 C1139,342 1142,352 1142.6,362 L1142,420 L1040,420Z" fill="#BC8848"/>
<path d="M930,306 L1040,316 L1040,420 L930,420Z" fill="#C4904F"/>
<path d="M1082,318 C1088,312 1094,311 1100,311 C1112,312 1124,320 1133,332 C1139,342 1142,352 1142.6,362" fill="none" stroke="#2A1B10" stroke-width="1.2"/>
<g fill="#5A3A1C"><circle cx="1090" cy="320" r="0.7"/><circle cx="1098" cy="317" r="0.7"/><circle cx="1106" cy="322" r="0.7"/><circle cx="1114" cy="320" r="0.7"/><circle cx="1121" cy="328" r="0.7"/><circle cx="1127" cy="336" r="0.7"/><circle cx="1132" cy="345" r="0.7"/><circle cx="1136" cy="356" r="0.7"/><circle cx="1100" cy="327" r="0.7"/><circle cx="1110" cy="331" r="0.7"/><circle cx="1119" cy="340" r="0.7"/><circle cx="1126" cy="350" r="0.7"/><circle cx="1092" cy="330" r="0.7"/><circle cx="1086" cy="326" r="0.7"/></g>
<g stroke="#3A2612" stroke-width="0.9" fill="none" stroke-linecap="round">
<path d="M826.9,306 L836.7,317.3 L850.4,333.9 L857,342 M842.3,304.6 L836.7,317.3 L828,337 L823,347 M851.5,304.6 L859.5,317 L869.8,329 M865.5,308 L859.5,317 L850.4,333.9 L839.3,356 L829.7,375.6 L825,386 M828,337 L839.3,356 L848,370 M822,330 L828,337 M829.7,375.6 L836,386 M822.6,366 L829.7,375.6"/>
</g>
<circle cx="836.7" cy="317.3" r="1.7" fill="#C99352" stroke="#3A2612" stroke-width="0.8"/>
<circle cx="859.5" cy="317" r="1.7" fill="#C99352" stroke="#3A2612" stroke-width="0.8"/>
<circle cx="828" cy="337" r="1.7" fill="#C99352" stroke="#3A2612" stroke-width="0.8"/>
<circle cx="850.4" cy="333.9" r="1.7" fill="#C99352" stroke="#3A2612" stroke-width="0.8"/>
<circle cx="839.3" cy="356" r="1.7" fill="#C99352" stroke="#3A2612" stroke-width="0.8"/>
<circle cx="829.7" cy="375.6" r="1.7" fill="#C99352" stroke="#3A2612" stroke-width="0.8"/>
<path d="M819.6,330 C824,350 824,380 822,398 L830,398 C828,376 828,350 826,330Z" fill="#C08A48" opacity="0.35"/>
<path d="M808.6,467 L795,381 L780.8,327 C776,310 782,303.4 792,303.2 C801,303 806.6,304.4 809.4,308.6 C816,322 820,345 819.4,372 L821,397 C835,398 850,400 862,403.4 C870,406 874,412 874.4,420 L874.6,480.4 L863.4,479.7Z" fill="url(#gWing)" stroke="#2A1B10" stroke-width="1.3"/>
<path d="M803,316.6 C807,330 808,350 807.9,381 L809,399 L821,397 L819.4,372 C820,345 816,322 809.4,308.6Z" fill="#D9A965" opacity="0.8"/>
<path d="M786,313.8 C789,309.6 797,308 803,316.6 C807,330 808,350 807.9,381 L809,399" fill="none" stroke="#2A1B10" stroke-width="0.9"/>
<path d="M784.6,321 C786,316 790,314 793,314.6" fill="none" stroke="#2A1B10" stroke-width="0.7"/>
<path d="M795.6,310.6 l1.6,2.4 M797.8,310.2 l1.6,2.6 M800,310.4 l1.4,2.6 M802,311.4 l1.2,2.4" stroke="#2A1B10" stroke-width="0.6"/>
<path d="M798.6,336 C801.4,350 803,368 804.4,392" fill="none" stroke="#5A3C1C" stroke-width="0.8" opacity="0.8"/>
<path d="M812,414 L856,424 L858,479 L808.6,467 L803,430Z" fill="#C08A48" opacity="0.55"/>
<path d="M812,414 L856,424 L856.4,431 L812.6,420Z" fill="#8E5E2A" opacity="0.45"/>
<path d="M813,400.4 C830,399 850,401 862,403.6 L858,424.4 L813.6,413.8 C809.6,410 809.6,403.6 813,400.4Z" fill="#DBAC69" stroke="#2A1B10" stroke-width="1"/>
<path d="M816,403.4 C832,402.6 846,404 856,406" stroke="#EAC68A" stroke-width="1.4" fill="none" opacity="0.8"/>
<path d="M852.4,425 C849.6,412 854,403.8 863,403.8 C871,404 874.6,411 874.4,420 L874.6,480.4 L863.4,479.7 L861.4,440 C860.6,432 856,428 852.4,425Z" fill="#D9A965" stroke="#2A1B10" stroke-width="1.1"/>
<path d="M855.6,421 C853.4,412.6 857,407 863.4,407 C869.6,407.4 871.4,413 871.2,420 L871.4,470" fill="none" stroke="#4A3018" stroke-width="0.8"/>
<rect x="874" y="430.6" width="254" height="26" fill="#4A2E14"/>
<path d="M874.6,431 L980,431 C983,431 983.4,434 983.2,437 L983,451 C983,453.4 981,454.4 978,454.4 L874.6,454.4Z" fill="#CC9858" stroke="#2A1B10" stroke-width="1"/>
<path d="M988,431 L1124,431 C1127.4,431 1128,434 1127.8,437 L1127.4,450 C1127.2,453.6 1125,454.4 1122,454.4 L989,454.4 C985.6,454.4 984.6,453 984.6,450 L984.4,437 C984.2,433 985,431 988,431Z" fill="#CC9858" stroke="#2A1B10" stroke-width="1"/>
<path d="M874.6,454.4 L1128,454.4 L1127,474.6 L874.6,476.4Z" fill="#C79152" stroke="#2A1B10" stroke-width="1"/>
<path d="M874.6,462.4 L1127.6,462" stroke="#2A1B10" stroke-width="0.9"/>
<path d="M874.6,455.4 L1128,455.4 L1128,458 L874.6,458Z" fill="#9A6A34" opacity="0.4"/>
<g fill="#4A2E14"><circle cx="882" cy="440" r="0.65"/><circle cx="886" cy="468" r="0.65"/><circle cx="980" cy="445" r="0.65"/><circle cx="994" cy="446" r="0.65"/><circle cx="1005" cy="447" r="0.65"/><circle cx="1028" cy="448" r="0.65"/><circle cx="1040" cy="443" r="0.65"/><circle cx="1048" cy="446" r="0.65"/><circle cx="1064" cy="447" r="0.65"/><circle cx="1090" cy="441" r="0.65"/><circle cx="1098" cy="446" r="0.65"/><circle cx="1110" cy="445" r="0.65"/><circle cx="975" cy="466" r="0.65"/><circle cx="990" cy="469" r="0.65"/><circle cx="1006" cy="470" r="0.65"/><circle cx="1008" cy="471" r="0.65"/><circle cx="1047" cy="467" r="0.65"/><circle cx="1058" cy="471" r="0.65"/><circle cx="1066" cy="467" r="0.65"/><circle cx="1068" cy="468" r="0.65"/><circle cx="1088" cy="470" r="0.65"/><circle cx="1034" cy="441" r="0.65"/><circle cx="1020" cy="469" r="0.65"/><circle cx="1102" cy="467" r="0.65"/><circle cx="1116" cy="469" r="0.65"/><circle cx="1060" cy="437" r="0.65"/><circle cx="1072" cy="452" r="0.65"/></g>
<g fill="none" stroke="#2A1B10" stroke-width="0.7"><ellipse cx="1055.6" cy="447.6" rx="1.1" ry="1.9"/><ellipse cx="1091" cy="440.4" rx="1.3" ry="2"/><ellipse cx="1089" cy="448.4" rx="1.3" ry="1.8"/><ellipse cx="1059.4" cy="471.4" rx="1.2" ry="1"/><ellipse cx="1122" cy="469" rx="1.6" ry="1.3"/></g>
<path d="M1127,474.6 L1131,415 C1130,398 1137,384.4 1150,380.4 C1164,378.6 1172.4,389 1171.4,400 C1170.4,410 1164,416 1155,417.6 C1152.4,430 1151.4,450 1150.6,471Z" fill="#C18C4C" stroke="#2A1B10" stroke-width="1.2"/>
<path d="M1135.6,468 L1137,416 C1137,402 1142,391 1151,388 C1160,386.6 1166,393 1165,401 C1164,408 1159,412 1153,413" fill="none" stroke="#3A2612" stroke-width="0.9" stroke-dasharray="2.4 1.4"/>
<path d="M1150.6,392 C1158,391 1162,396 1160.6,402 C1159,408 1153,410 1149,409 C1147,420 1146,432 1145.6,446" fill="none" stroke="#3A2612" stroke-width="0.8"/>
<g fill="#4A2E14"><circle cx="1141" cy="412" r="0.65"/><circle cx="1143" cy="430" r="0.65"/><circle cx="1140" cy="450" r="0.65"/><circle cx="1146" cy="460" r="0.65"/><circle cx="1152" cy="402" r="0.65"/><circle cx="1156" cy="396" r="0.65"/><circle cx="1142" cy="440" r="0.65"/></g>
<path d="M1133.6,389 C1137,376 1150,370.6 1160,374 C1168,377.6 1172.4,386 1171.4,394 C1166,385 1157,381 1149,381.6 C1141,382.4 1136,386 1133.6,389Z" fill="#D4A862" stroke="#2A1B10" stroke-width="0.9"/><g fill="#4A2E14"><circle cx="1140" cy="381" r="0.6"/><circle cx="1146" cy="377.6" r="0.6"/><circle cx="1152" cy="376" r="0.6"/><circle cx="1158" cy="377" r="0.6"/><circle cx="1164" cy="381" r="0.6"/><circle cx="1168" cy="386" r="0.6"/><circle cx="1150" cy="379.6" r="0.6"/></g>
<path d="M1158,374 L1166,366 C1170,368 1171,373 1169,378Z" fill="#DDB066" stroke="#2A1B10" stroke-width="0.8"/>
<path d="M1163,412 C1166,414 1169,413 1170.6,410 C1171,416 1170,420 1169,424 C1168.6,426 1166.6,426 1166.4,424 C1166.2,420 1164.6,416 1163,412Z" fill="#B98546" stroke="#2A1B10" stroke-width="0.8"/>
<ellipse cx="1165.8" cy="431" rx="1.7" ry="3.8" fill="#B98546" stroke="#2A1B10" stroke-width="0.8"/><circle cx="1172.6" cy="422.4" r="1.1" fill="#8A5A2A" stroke="#2A1B10" stroke-width="0.5"/>
<path d="M863.2,480.4 L873.6,481 L871.4,503.4 L866.4,503.4Z" fill="#8E4C2C" stroke="#2A1B10" stroke-width="0.9"/><path d="M868.8,482 L868.6,502" stroke="#5A2C16" stroke-width="0.8"/>
<g><path d="M877.5,491.4 v1.6 a12.0,6.2 0 0 0 24.0,0 v-1.6Z" fill="#8E5E2E" stroke="#2A1B10" stroke-width="0.9"/><ellipse cx="889.5" cy="491.4" rx="12.0" ry="6.2" fill="#C9934F" stroke="#2A1B10" stroke-width="0.9"/><ellipse cx="883.5" cy="489.5" rx="0.7" ry="0.47" fill="#4A2E14"/><ellipse cx="889.5" cy="488.0" rx="0.7" ry="0.47" fill="#4A2E14"/><ellipse cx="895.5" cy="489.8" rx="0.7" ry="0.47" fill="#4A2E14"/><ellipse cx="887.7" cy="491.4" rx="0.7" ry="0.47" fill="#4A2E14"/><ellipse cx="893.1" cy="492.6" rx="0.7" ry="0.47" fill="#4A2E14"/><ellipse cx="884.1" cy="493.9" rx="0.7" ry="0.47" fill="#4A2E14"/><ellipse cx="890.7" cy="494.8" rx="0.7" ry="0.47" fill="#4A2E14"/></g>
<g transform="rotate(-5 982.3 486.6)"><path d="M970.3,486.6 v1.6 a12.0,6.6 0 0 0 24.0,0 v-1.6Z" fill="#8E5E2E" stroke="#2A1B10" stroke-width="0.9"/><ellipse cx="982.3" cy="486.6" rx="12.0" ry="6.6" fill="#CF9A54" stroke="#2A1B10" stroke-width="0.9"/><ellipse cx="976.3" cy="484.6" rx="0.7" ry="0.49" fill="#4A2E14"/><ellipse cx="982.3" cy="483.0" rx="0.7" ry="0.49" fill="#4A2E14"/><ellipse cx="988.3" cy="485.0" rx="0.7" ry="0.49" fill="#4A2E14"/><ellipse cx="980.5" cy="486.6" rx="0.7" ry="0.49" fill="#4A2E14"/><ellipse cx="985.9" cy="487.9" rx="0.7" ry="0.49" fill="#4A2E14"/><ellipse cx="976.9" cy="489.2" rx="0.7" ry="0.49" fill="#4A2E14"/><ellipse cx="983.5" cy="490.2" rx="0.7" ry="0.49" fill="#4A2E14"/></g>
<g><path d="M1046.6,490.4 v1.6 a15.4,6.4 0 0 0 30.8,0 v-1.6Z" fill="#8E5E2E" stroke="#2A1B10" stroke-width="0.9"/><ellipse cx="1062.0" cy="490.4" rx="15.4" ry="6.4" fill="#CF9A54" stroke="#2A1B10" stroke-width="0.9"/><ellipse cx="1054.3" cy="488.5" rx="0.7" ry="0.40" fill="#4A2E14"/><ellipse cx="1062.0" cy="486.9" rx="0.7" ry="0.40" fill="#4A2E14"/><ellipse cx="1069.7" cy="488.8" rx="0.7" ry="0.40" fill="#4A2E14"/><ellipse cx="1059.7" cy="490.4" rx="0.7" ry="0.40" fill="#4A2E14"/><ellipse cx="1066.6" cy="491.7" rx="0.7" ry="0.40" fill="#4A2E14"/><ellipse cx="1055.1" cy="493.0" rx="0.7" ry="0.40" fill="#4A2E14"/><ellipse cx="1063.5" cy="493.9" rx="0.7" ry="0.40" fill="#4A2E14"/></g>
<g transform="rotate(-20 1104.4 484.0)"><path d="M1094.6,484.0 v1.6 a9.8,4.9 0 0 0 19.6,0 v-1.6Z" fill="#8E5E2E" stroke="#2A1B10" stroke-width="0.9"/><ellipse cx="1104.4" cy="484.0" rx="9.8" ry="4.9" fill="#C9934F" stroke="#2A1B10" stroke-width="0.9"/><ellipse cx="1099.5" cy="482.5" rx="0.7" ry="0.45" fill="#4A2E14"/><ellipse cx="1104.4" cy="481.3" rx="0.7" ry="0.45" fill="#4A2E14"/><ellipse cx="1109.3" cy="482.8" rx="0.7" ry="0.45" fill="#4A2E14"/><ellipse cx="1102.9" cy="484.0" rx="0.7" ry="0.45" fill="#4A2E14"/><ellipse cx="1107.3" cy="485.0" rx="0.7" ry="0.45" fill="#4A2E14"/><ellipse cx="1100.0" cy="486.0" rx="0.7" ry="0.45" fill="#4A2E14"/><ellipse cx="1105.4" cy="486.7" rx="0.7" ry="0.45" fill="#4A2E14"/></g>
<g><path d="M949.0,486.0 v1.6 a6.0,3.0 0 0 0 12.0,0 v-1.6Z" fill="#8E5E2E" stroke="#2A1B10" stroke-width="0.9"/><ellipse cx="955.0" cy="486.0" rx="6.0" ry="3.0" fill="#B8823E" stroke="#2A1B10" stroke-width="0.9"/><ellipse cx="952.0" cy="485.1" rx="0.7" ry="0.45" fill="#4A2E14"/><ellipse cx="955.0" cy="484.4" rx="0.7" ry="0.45" fill="#4A2E14"/><ellipse cx="958.0" cy="485.2" rx="0.7" ry="0.45" fill="#4A2E14"/><ellipse cx="954.1" cy="486.0" rx="0.7" ry="0.45" fill="#4A2E14"/><ellipse cx="956.8" cy="486.6" rx="0.7" ry="0.45" fill="#4A2E14"/><ellipse cx="952.3" cy="487.2" rx="0.7" ry="0.45" fill="#4A2E14"/><ellipse cx="955.6" cy="487.6" rx="0.7" ry="0.45" fill="#4A2E14"/></g>
<g transform="rotate(10 1000.0 480.0)"><path d="M994.0,480.0 v1.6 a6.0,3.0 0 0 0 12.0,0 v-1.6Z" fill="#8E5E2E" stroke="#2A1B10" stroke-width="0.9"/><ellipse cx="1000.0" cy="480.0" rx="6.0" ry="3.0" fill="#B8823E" stroke="#2A1B10" stroke-width="0.9"/><ellipse cx="997.0" cy="479.1" rx="0.7" ry="0.45" fill="#4A2E14"/><ellipse cx="1000.0" cy="478.4" rx="0.7" ry="0.45" fill="#4A2E14"/><ellipse cx="1003.0" cy="479.2" rx="0.7" ry="0.45" fill="#4A2E14"/><ellipse cx="999.1" cy="480.0" rx="0.7" ry="0.45" fill="#4A2E14"/><ellipse cx="1001.8" cy="480.6" rx="0.7" ry="0.45" fill="#4A2E14"/><ellipse cx="997.3" cy="481.2" rx="0.7" ry="0.45" fill="#4A2E14"/><ellipse cx="1000.6" cy="481.6" rx="0.7" ry="0.45" fill="#4A2E14"/></g>
<g transform="rotate(-10 1020.0 482.0)"><path d="M1013.0,482.0 v1.6 a7.0,3.4 0 0 0 14.0,0 v-1.6Z" fill="#8E5E2E" stroke="#2A1B10" stroke-width="0.9"/><ellipse cx="1020.0" cy="482.0" rx="7.0" ry="3.4" fill="#C08A46" stroke="#2A1B10" stroke-width="0.9"/><ellipse cx="1016.5" cy="481.0" rx="0.7" ry="0.44" fill="#4A2E14"/><ellipse cx="1020.0" cy="480.1" rx="0.7" ry="0.44" fill="#4A2E14"/><ellipse cx="1023.5" cy="481.1" rx="0.7" ry="0.44" fill="#4A2E14"/><ellipse cx="1019.0" cy="482.0" rx="0.7" ry="0.44" fill="#4A2E14"/><ellipse cx="1022.1" cy="482.7" rx="0.7" ry="0.44" fill="#4A2E14"/><ellipse cx="1016.9" cy="483.4" rx="0.7" ry="0.44" fill="#4A2E14"/><ellipse cx="1020.7" cy="483.9" rx="0.7" ry="0.44" fill="#4A2E14"/></g>
<g><path d="M1079.0,480.0 v1.6 a6.0,3.0 0 0 0 12.0,0 v-1.6Z" fill="#8E5E2E" stroke="#2A1B10" stroke-width="0.9"/><ellipse cx="1085.0" cy="480.0" rx="6.0" ry="3.0" fill="#B8823E" stroke="#2A1B10" stroke-width="0.9"/><ellipse cx="1082.0" cy="479.1" rx="0.7" ry="0.45" fill="#4A2E14"/><ellipse cx="1085.0" cy="478.4" rx="0.7" ry="0.45" fill="#4A2E14"/><ellipse cx="1088.0" cy="479.2" rx="0.7" ry="0.45" fill="#4A2E14"/><ellipse cx="1084.1" cy="480.0" rx="0.7" ry="0.45" fill="#4A2E14"/><ellipse cx="1086.8" cy="480.6" rx="0.7" ry="0.45" fill="#4A2E14"/><ellipse cx="1082.3" cy="481.2" rx="0.7" ry="0.45" fill="#4A2E14"/><ellipse cx="1085.6" cy="481.6" rx="0.7" ry="0.45" fill="#4A2E14"/></g>
<g><path d="M935.0,480.0 v1.6 a5.0,2.6 0 0 0 10.0,0 v-1.6Z" fill="#8E5E2E" stroke="#2A1B10" stroke-width="0.9"/><ellipse cx="940.0" cy="480.0" rx="5.0" ry="2.6" fill="#A8743A" stroke="#2A1B10" stroke-width="0.9"/><ellipse cx="937.5" cy="479.2" rx="0.7" ry="0.47" fill="#4A2E14"/><ellipse cx="940.0" cy="478.6" rx="0.7" ry="0.47" fill="#4A2E14"/><ellipse cx="942.5" cy="479.4" rx="0.7" ry="0.47" fill="#4A2E14"/><ellipse cx="939.2" cy="480.0" rx="0.7" ry="0.47" fill="#4A2E14"/><ellipse cx="941.5" cy="480.5" rx="0.7" ry="0.47" fill="#4A2E14"/><ellipse cx="937.8" cy="481.0" rx="0.7" ry="0.47" fill="#4A2E14"/><ellipse cx="940.5" cy="481.4" rx="0.7" ry="0.47" fill="#4A2E14"/></g>
<g><path d="M1109.0,478.0 v1.6 a5.0,2.6 0 0 0 10.0,0 v-1.6Z" fill="#8E5E2E" stroke="#2A1B10" stroke-width="0.9"/><ellipse cx="1114.0" cy="478.0" rx="5.0" ry="2.6" fill="#A8743A" stroke="#2A1B10" stroke-width="0.9"/><ellipse cx="1111.5" cy="477.2" rx="0.7" ry="0.47" fill="#4A2E14"/><ellipse cx="1114.0" cy="476.6" rx="0.7" ry="0.47" fill="#4A2E14"/><ellipse cx="1116.5" cy="477.4" rx="0.7" ry="0.47" fill="#4A2E14"/><ellipse cx="1113.2" cy="478.0" rx="0.7" ry="0.47" fill="#4A2E14"/><ellipse cx="1115.5" cy="478.5" rx="0.7" ry="0.47" fill="#4A2E14"/><ellipse cx="1111.8" cy="479.0" rx="0.7" ry="0.47" fill="#4A2E14"/><ellipse cx="1114.5" cy="479.4" rx="0.7" ry="0.47" fill="#4A2E14"/></g>
<g transform="rotate(-34 1042.6 486.4)"><rect x="1031" y="481.6" width="23" height="9.6" rx="1" fill="#C9934F" stroke="#2A1B10" stroke-width="0.9"/><rect x="1031" y="485.4" width="23" height="1.8" fill="#F1E6CC"/><path d="M1034,483.4 h17" stroke="#6A4520" stroke-width="0.6" stroke-dasharray="1 2"/></g>
<g fill="#6A4520" opacity="0.8"><circle cx="989.2" cy="498.0" r="0.7"/><circle cx="1004.1" cy="492.0" r="0.7"/><circle cx="1036.8" cy="495.9" r="0.6"/><circle cx="892.3" cy="500.0" r="0.4"/><circle cx="1131.2" cy="502.7" r="0.8"/><circle cx="910.2" cy="482.5" r="0.4"/><circle cx="919.0" cy="484.8" r="0.7"/><circle cx="986.1" cy="499.0" r="0.8"/><circle cx="1001.9" cy="494.9" r="0.6"/><circle cx="1135.4" cy="505.6" r="0.8"/><circle cx="952.5" cy="485.3" r="0.4"/><circle cx="1073.4" cy="493.7" r="0.6"/><circle cx="1124.8" cy="496.9" r="0.5"/><circle cx="1112.0" cy="497.1" r="0.6"/><circle cx="887.6" cy="497.4" r="0.6"/><circle cx="891.4" cy="494.1" r="0.9"/><circle cx="899.6" cy="485.0" r="0.4"/><circle cx="1081.6" cy="486.1" r="0.7"/><circle cx="919.1" cy="494.8" r="0.8"/><circle cx="899.2" cy="488.8" r="0.6"/><circle cx="1128.2" cy="496.8" r="0.9"/><circle cx="924.5" cy="493.7" r="0.8"/><circle cx="894.9" cy="500.1" r="0.6"/><circle cx="1075.1" cy="487.3" r="0.4"/><circle cx="892.2" cy="492.1" r="0.8"/><circle cx="967.6" cy="496.4" r="0.7"/><circle cx="1022.0" cy="497.6" r="0.5"/><circle cx="1111.5" cy="496.9" r="0.5"/><circle cx="1066.2" cy="499.1" r="1.0"/><circle cx="1104.4" cy="493.5" r="0.5"/><circle cx="878.4" cy="499.7" r="0.8"/><circle cx="936.9" cy="499.3" r="0.6"/><circle cx="915.0" cy="494.4" r="0.5"/><circle cx="1017.9" cy="500.1" r="0.6"/><circle cx="1113.9" cy="484.1" r="0.6"/><circle cx="987.4" cy="481.5" r="0.6"/><circle cx="1021.3" cy="483.7" r="0.9"/><circle cx="1130.8" cy="497.0" r="0.8"/><circle cx="905.6" cy="480.7" r="0.9"/><circle cx="1055.9" cy="499.3" r="0.8"/><circle cx="997.2" cy="495.4" r="1.0"/><circle cx="888.2" cy="495.3" r="0.9"/><circle cx="1065.5" cy="499.1" r="0.9"/><circle cx="962.3" cy="500.2" r="0.9"/><circle cx="979.8" cy="501.8" r="0.7"/><circle cx="1035.5" cy="490.4" r="0.8"/><circle cx="889.5" cy="500.7" r="0.9"/><circle cx="1063.2" cy="492.1" r="0.7"/><circle cx="986.1" cy="496.8" r="0.9"/><circle cx="876.0" cy="493.9" r="0.5"/><circle cx="1055.2" cy="493.0" r="1.0"/><circle cx="936.6" cy="481.0" r="0.8"/><circle cx="922.3" cy="490.0" r="0.8"/><circle cx="986.4" cy="498.7" r="0.8"/><circle cx="921.2" cy="493.8" r="0.9"/><circle cx="1103.9" cy="490.4" r="0.6"/><circle cx="904.5" cy="495.5" r="0.9"/><circle cx="1058.6" cy="499.6" r="0.5"/><circle cx="988.8" cy="485.9" r="0.6"/><circle cx="1035.7" cy="490.7" r="0.9"/><circle cx="1131.2" cy="489.1" r="0.4"/><circle cx="1101.9" cy="484.8" r="0.7"/><circle cx="950.8" cy="495.8" r="0.5"/><circle cx="989.9" cy="486.0" r="0.5"/><circle cx="905.8" cy="484.1" r="0.7"/><circle cx="1036.8" cy="498.3" r="1.0"/><circle cx="1051.4" cy="485.8" r="0.5"/><circle cx="870.9" cy="493.5" r="0.5"/><circle cx="941.0" cy="490.8" r="0.7"/><circle cx="1032.7" cy="496.4" r="0.9"/><circle cx="1110.9" cy="488.7" r="0.8"/><circle cx="902.8" cy="492.2" r="0.9"/><circle cx="969.0" cy="497.6" r="0.9"/><circle cx="1121.1" cy="492.7" r="0.5"/><circle cx="1061.5" cy="499.7" r="0.8"/><circle cx="925.2" cy="505.7" r="1.0"/><circle cx="1011.9" cy="496.6" r="0.9"/><circle cx="1097.3" cy="487.0" r="0.7"/><circle cx="1015.5" cy="497.3" r="0.4"/><circle cx="1084.8" cy="486.4" r="0.5"/><circle cx="957.8" cy="495.9" r="0.5"/><circle cx="1006.4" cy="500.1" r="0.8"/><circle cx="1121.5" cy="497.1" r="0.5"/><circle cx="927.3" cy="491.2" r="0.8"/><circle cx="1039.2" cy="496.1" r="0.7"/><circle cx="951.5" cy="493.3" r="0.9"/><circle cx="923.8" cy="504.5" r="0.7"/><circle cx="1021.6" cy="486.3" r="0.7"/><circle cx="1030.2" cy="488.1" r="0.7"/><circle cx="975.4" cy="498.6" r="0.7"/><circle cx="1053.2" cy="483.6" r="0.6"/><circle cx="1124.4" cy="499.0" r="0.7"/><circle cx="902.0" cy="494.0" r="0.9"/><circle cx="995.7" cy="486.6" r="0.8"/><circle cx="1116.0" cy="487.4" r="0.4"/><circle cx="920.0" cy="488.3" r="0.6"/><circle cx="963.2" cy="492.5" r="0.8"/><circle cx="900.9" cy="490.7" r="0.5"/><circle cx="1010.1" cy="489.9" r="0.6"/><circle cx="1009.9" cy="483.5" r="0.8"/><circle cx="1039.1" cy="496.4" r="0.8"/><circle cx="1097.6" cy="489.0" r="0.9"/><circle cx="1109.9" cy="487.1" r="1.0"/><circle cx="926.5" cy="506.3" r="0.5"/><circle cx="932.1" cy="495.1" r="0.5"/><circle cx="1091.0" cy="493.4" r="0.5"/><circle cx="975.9" cy="493.7" r="0.5"/><circle cx="1050.9" cy="505.7" r="0.5"/><circle cx="1003.5" cy="497.2" r="0.8"/><circle cx="918.7" cy="481.5" r="0.4"/><circle cx="1015.8" cy="492.9" r="0.5"/><circle cx="917.5" cy="489.7" r="1.0"/><circle cx="1116.4" cy="481.9" r="1.0"/><circle cx="991.8" cy="496.1" r="0.7"/><circle cx="1006.1" cy="491.5" r="0.4"/><circle cx="1055.9" cy="497.1" r="0.7"/><circle cx="1066.1" cy="488.4" r="0.5"/><circle cx="1005.4" cy="486.7" r="0.9"/><circle cx="1056.9" cy="500.4" r="0.6"/><circle cx="1028.7" cy="497.8" r="0.9"/><circle cx="937.2" cy="502.7" r="0.9"/><circle cx="1086.3" cy="494.5" r="0.9"/><circle cx="1054.2" cy="500.0" r="0.6"/><circle cx="1061.7" cy="482.3" r="0.7"/><circle cx="870.8" cy="490.4" r="0.8"/><circle cx="930.2" cy="502.4" r="0.6"/><circle cx="1044.8" cy="493.7" r="0.6"/><circle cx="1136.0" cy="496.8" r="0.9"/><circle cx="1130.7" cy="483.5" r="0.8"/><circle cx="936.8" cy="488.1" r="0.5"/><circle cx="968.7" cy="482.5" r="0.9"/><circle cx="1015.4" cy="497.6" r="0.7"/><circle cx="1134.7" cy="498.0" r="0.4"/><circle cx="1028.1" cy="495.2" r="1.0"/><circle cx="910.9" cy="489.7" r="0.7"/><circle cx="1031.8" cy="488.3" r="0.7"/><circle cx="1009.2" cy="493.0" r="0.6"/><circle cx="1043.6" cy="491.9" r="0.8"/><circle cx="947.3" cy="480.8" r="0.4"/><circle cx="910.0" cy="496.3" r="0.9"/><circle cx="1068.6" cy="488.8" r="1.0"/><circle cx="887.7" cy="499.6" r="0.7"/><circle cx="1128.8" cy="487.1" r="1.0"/><circle cx="1061.7" cy="497.0" r="0.9"/><circle cx="1029.8" cy="485.4" r="0.7"/><circle cx="922.6" cy="483.3" r="0.5"/><circle cx="986.7" cy="495.0" r="0.6"/><circle cx="1024.0" cy="493.2" r="0.7"/><circle cx="1135.4" cy="503.4" r="0.5"/><circle cx="898.5" cy="502.8" r="0.8"/><circle cx="964.3" cy="489.2" r="0.7"/><circle cx="1026.6" cy="497.2" r="0.5"/><circle cx="934.7" cy="506.3" r="0.9"/><circle cx="878.6" cy="481.8" r="0.7"/><circle cx="1035.1" cy="484.4" r="0.4"/><circle cx="891.2" cy="496.0" r="0.8"/><circle cx="968.0" cy="489.9" r="0.6"/><circle cx="1067.6" cy="496.8" r="0.5"/><circle cx="1084.9" cy="497.2" r="0.5"/><circle cx="981.7" cy="490.4" r="0.6"/><circle cx="1043.2" cy="500.6" r="0.7"/><circle cx="1068.0" cy="499.9" r="0.6"/><circle cx="894.0" cy="497.6" r="0.4"/><circle cx="1019.2" cy="493.5" r="0.6"/><circle cx="1075.8" cy="481.9" r="0.8"/><circle cx="889.9" cy="490.3" r="0.8"/><circle cx="943.8" cy="483.9" r="0.8"/><circle cx="966.2" cy="486.4" r="0.7"/><circle cx="1114.2" cy="505.5" r="0.7"/><circle cx="1083.2" cy="486.9" r="0.6"/><circle cx="1118.5" cy="498.4" r="0.6"/><circle cx="966.0" cy="488.5" r="0.6"/><circle cx="920.2" cy="496.4" r="0.7"/><circle cx="1092.1" cy="491.5" r="0.9"/><circle cx="1104.1" cy="485.6" r="0.7"/><circle cx="1013.8" cy="498.8" r="0.8"/><circle cx="1083.6" cy="483.7" r="0.9"/><circle cx="890.5" cy="486.0" r="0.9"/><circle cx="890.7" cy="492.8" r="0.8"/><circle cx="1041.9" cy="485.3" r="0.9"/><circle cx="1007.8" cy="496.5" r="0.6"/><circle cx="1127.5" cy="495.4" r="0.7"/><circle cx="1061.2" cy="500.9" r="0.6"/><circle cx="1089.4" cy="499.2" r="0.9"/><circle cx="1091.5" cy="505.1" r="0.8"/><circle cx="1008.4" cy="499.4" r="0.7"/><circle cx="980.7" cy="487.3" r="1.0"/><circle cx="968.6" cy="483.7" r="0.7"/><circle cx="946.3" cy="499.4" r="0.6"/><circle cx="898.8" cy="497.8" r="0.5"/><circle cx="884.7" cy="491.9" r="0.9"/><circle cx="877.7" cy="482.4" r="0.5"/><circle cx="931.1" cy="497.2" r="0.5"/><circle cx="917.6" cy="485.9" r="0.9"/><circle cx="951.5" cy="496.3" r="0.7"/><circle cx="937.8" cy="504.4" r="0.6"/><circle cx="1014.7" cy="501.0" r="0.5"/><circle cx="881.3" cy="504.1" r="0.6"/><circle cx="1009.4" cy="490.9" r="1.0"/><circle cx="1044.2" cy="484.8" r="0.7"/><circle cx="967.6" cy="500.0" r="0.8"/><circle cx="910.2" cy="484.0" r="0.6"/><circle cx="1101.0" cy="493.6" r="1.0"/><circle cx="939.4" cy="490.9" r="0.9"/><circle cx="868.4" cy="502.2" r="0.9"/><circle cx="890.1" cy="489.5" r="0.5"/><circle cx="996.7" cy="496.7" r="0.8"/><circle cx="1097.8" cy="491.1" r="0.7"/><circle cx="1113.7" cy="487.3" r="0.5"/><circle cx="1013.6" cy="490.7" r="0.9"/><circle cx="951.5" cy="486.3" r="0.6"/><circle cx="993.2" cy="495.3" r="0.8"/><circle cx="896.3" cy="489.6" r="1.0"/><circle cx="1090.4" cy="493.1" r="0.6"/><circle cx="1058.3" cy="487.3" r="0.7"/><circle cx="870.8" cy="504.9" r="0.5"/><circle cx="1033.1" cy="486.9" r="0.7"/><circle cx="947.9" cy="488.0" r="0.8"/><circle cx="936.7" cy="488.3" r="0.6"/><circle cx="1121.3" cy="495.4" r="0.6"/><circle cx="1089.6" cy="482.0" r="0.5"/><circle cx="1049.6" cy="494.4" r="0.6"/><circle cx="1092.3" cy="491.9" r="0.5"/><circle cx="910.1" cy="483.8" r="0.4"/><circle cx="1114.7" cy="490.6" r="0.8"/><circle cx="1073.5" cy="497.6" r="0.6"/><circle cx="978.5" cy="481.6" r="0.8"/><circle cx="1131.2" cy="499.3" r="0.8"/><circle cx="873.0" cy="487.6" r="0.8"/><circle cx="896.5" cy="489.6" r="0.9"/><circle cx="1089.2" cy="492.4" r="0.9"/><circle cx="1110.0" cy="492.0" r="0.7"/><circle cx="906.0" cy="502.1" r="0.7"/><circle cx="1059.7" cy="497.0" r="1.0"/><circle cx="1036.1" cy="484.0" r="0.5"/><circle cx="1022.5" cy="494.8" r="1.0"/><circle cx="964.8" cy="489.4" r="1.0"/><circle cx="904.3" cy="500.4" r="0.7"/><circle cx="1018.2" cy="491.9" r="1.0"/><circle cx="1087.1" cy="492.2" r="0.9"/><circle cx="945.3" cy="498.4" r="0.7"/><circle cx="1090.6" cy="486.1" r="0.4"/><circle cx="876.6" cy="491.4" r="1.0"/><circle cx="1044.4" cy="489.8" r="0.8"/><circle cx="970.3" cy="497.0" r="0.4"/><circle cx="921.5" cy="489.5" r="0.6"/><circle cx="1020.6" cy="485.6" r="0.6"/><circle cx="1020.2" cy="489.9" r="0.4"/><circle cx="1047.8" cy="490.3" r="0.8"/><circle cx="993.9" cy="491.3" r="0.8"/><circle cx="1071.2" cy="496.9" r="1.0"/><circle cx="1092.6" cy="498.4" r="0.7"/><circle cx="1019.7" cy="500.3" r="0.7"/><circle cx="983.8" cy="498.9" r="0.4"/><circle cx="1062.5" cy="502.3" r="0.8"/><circle cx="1069.5" cy="488.9" r="0.4"/><circle cx="901.4" cy="491.0" r="0.6"/><circle cx="881.9" cy="496.1" r="0.5"/><circle cx="950.1" cy="488.4" r="0.4"/><circle cx="1112.2" cy="502.9" r="0.9"/></g>
<g fill="#6A4520" opacity="0.85"><circle cx="1061.8" cy="430.4" r="0.5"/><circle cx="1095.6" cy="428.5" r="0.9"/><circle cx="1028.3" cy="430.3" r="0.5"/><circle cx="1073.9" cy="431.6" r="0.4"/><circle cx="1043.4" cy="426.4" r="0.6"/><circle cx="1024.5" cy="431.2" r="0.8"/><circle cx="1059.3" cy="426.9" r="0.7"/><circle cx="1022.8" cy="424.2" r="0.8"/><circle cx="1050.0" cy="428.0" r="0.9"/><circle cx="1119.6" cy="427.8" r="0.5"/><circle cx="1048.7" cy="431.4" r="0.8"/><circle cx="1038.3" cy="430.7" r="0.6"/><circle cx="1067.1" cy="425.4" r="0.8"/><circle cx="1121.5" cy="425.6" r="0.7"/><circle cx="1037.9" cy="431.0" r="0.4"/><circle cx="1029.0" cy="429.8" r="0.6"/><circle cx="1111.6" cy="431.0" r="0.8"/><circle cx="1032.0" cy="429.6" r="0.9"/><circle cx="1064.3" cy="424.6" r="0.5"/><circle cx="1049.9" cy="429.7" r="0.5"/><circle cx="1036.8" cy="425.9" r="0.7"/><circle cx="1100.2" cy="427.0" r="0.7"/><circle cx="1110.0" cy="428.7" r="0.5"/><circle cx="1049.3" cy="431.4" r="0.7"/><circle cx="1046.8" cy="429.1" r="0.4"/><circle cx="1120.2" cy="427.5" r="0.7"/><circle cx="1073.2" cy="424.4" r="0.7"/><circle cx="1047.6" cy="426.0" r="0.8"/><circle cx="1027.1" cy="426.3" r="0.8"/><circle cx="1043.6" cy="426.2" r="0.7"/><circle cx="1037.4" cy="431.2" r="0.9"/><circle cx="1021.5" cy="427.7" r="0.8"/><circle cx="1058.0" cy="431.4" r="0.6"/><circle cx="1036.7" cy="428.4" r="0.7"/><circle cx="1055.4" cy="429.3" r="0.8"/><circle cx="1071.7" cy="428.0" r="0.8"/><circle cx="1089.2" cy="428.2" r="0.9"/><circle cx="1036.1" cy="430.2" r="0.5"/><circle cx="1081.2" cy="425.9" r="0.6"/><circle cx="1098.4" cy="430.3" r="0.8"/><circle cx="1042.5" cy="427.9" r="0.5"/><circle cx="1078.3" cy="428.0" r="0.4"/><circle cx="1080.1" cy="429.7" r="0.7"/><circle cx="1108.8" cy="425.4" r="0.5"/><circle cx="1019.9" cy="428.0" r="0.6"/><circle cx="1063.9" cy="426.1" r="0.8"/><circle cx="1025.5" cy="431.3" r="0.7"/><circle cx="1074.5" cy="430.3" r="0.5"/><circle cx="1033.2" cy="426.5" r="0.4"/><circle cx="1050.7" cy="429.0" r="0.7"/><circle cx="1045.5" cy="428.7" r="0.4"/><circle cx="1103.3" cy="425.4" r="0.5"/><circle cx="1034.6" cy="429.5" r="0.8"/><circle cx="1099.8" cy="424.5" r="0.6"/><circle cx="1055.9" cy="425.7" r="0.9"/><circle cx="1022.4" cy="427.9" r="0.8"/><circle cx="1120.6" cy="425.2" r="0.6"/><circle cx="1095.5" cy="424.3" r="0.5"/><circle cx="1110.6" cy="425.1" r="0.6"/><circle cx="1049.0" cy="427.4" r="0.4"/><circle cx="1021.6" cy="432.0" r="0.8"/><circle cx="1094.3" cy="425.8" r="0.5"/><circle cx="1075.4" cy="425.9" r="0.6"/><circle cx="1115.0" cy="426.9" r="0.6"/><circle cx="1120.0" cy="428.9" r="0.4"/><circle cx="1059.9" cy="429.2" r="0.4"/><circle cx="1053.7" cy="429.6" r="0.8"/><circle cx="1079.4" cy="431.1" r="0.6"/><circle cx="1058.9" cy="430.7" r="0.6"/><circle cx="1099.3" cy="425.7" r="0.6"/><circle cx="1037.1" cy="428.4" r="0.5"/><circle cx="1039.2" cy="425.7" r="0.6"/><circle cx="1050.1" cy="427.6" r="0.9"/><circle cx="1088.6" cy="430.9" r="0.5"/><circle cx="1057.8" cy="424.6" r="0.7"/><circle cx="1055.7" cy="426.2" r="0.4"/><circle cx="1036.9" cy="426.1" r="0.6"/><circle cx="1114.1" cy="429.7" r="0.5"/><circle cx="1055.6" cy="425.2" r="0.9"/><circle cx="1055.4" cy="430.1" r="0.8"/><circle cx="1112.3" cy="424.2" r="0.6"/><circle cx="1058.0" cy="424.7" r="0.8"/><circle cx="1051.8" cy="430.2" r="0.7"/><circle cx="1023.7" cy="427.2" r="0.5"/><circle cx="1022.2" cy="425.2" r="0.7"/><circle cx="1021.3" cy="426.5" r="0.6"/><circle cx="1074.6" cy="425.1" r="0.8"/><circle cx="1045.1" cy="429.8" r="0.7"/><circle cx="1033.3" cy="425.6" r="0.5"/><circle cx="1092.1" cy="427.2" r="0.6"/><circle cx="1108.1" cy="425.8" r="0.5"/><circle cx="1053.9" cy="425.7" r="0.4"/><circle cx="1020.6" cy="429.0" r="0.7"/><circle cx="1102.1" cy="431.8" r="0.5"/><circle cx="1087.7" cy="431.4" r="0.5"/><circle cx="1089.7" cy="429.3" r="0.9"/><circle cx="1108.3" cy="425.9" r="0.7"/><circle cx="1027.3" cy="427.4" r="0.6"/><circle cx="1024.3" cy="427.1" r="0.6"/><circle cx="1069.7" cy="426.2" r="0.5"/><circle cx="1059.9" cy="427.8" r="0.5"/><circle cx="1087.2" cy="425.9" r="0.4"/><circle cx="1053.6" cy="427.4" r="0.5"/><circle cx="1078.6" cy="429.6" r="0.7"/><circle cx="1090.8" cy="424.2" r="0.6"/><circle cx="1055.9" cy="424.5" r="0.6"/><circle cx="1023.7" cy="428.0" r="0.7"/><circle cx="1066.8" cy="426.6" r="0.5"/><circle cx="1020.4" cy="426.8" r="0.8"/><circle cx="1076.8" cy="426.1" r="0.7"/><circle cx="1037.3" cy="427.8" r="0.7"/><circle cx="1117.3" cy="426.9" r="0.7"/><circle cx="1116.0" cy="430.2" r="0.7"/><circle cx="1082.6" cy="427.3" r="0.6"/><circle cx="1046.7" cy="430.6" r="0.8"/><circle cx="1057.7" cy="431.3" r="0.4"/><circle cx="1032.1" cy="428.1" r="0.6"/><circle cx="1055.5" cy="431.8" r="0.5"/><circle cx="1038.0" cy="425.8" r="0.7"/><circle cx="1042.4" cy="424.0" r="0.7"/><circle cx="983.8" cy="425.7" r="0.6"/><circle cx="991.5" cy="427.8" r="0.7"/><circle cx="988.8" cy="429.8" r="0.9"/><circle cx="982.0" cy="426.4" r="0.8"/><circle cx="981.4" cy="429.0" r="0.7"/><circle cx="992.6" cy="430.7" r="0.8"/><circle cx="976.8" cy="428.4" r="0.6"/><circle cx="988.9" cy="426.6" r="0.5"/><circle cx="994.5" cy="427.7" r="0.5"/><circle cx="979.5" cy="426.3" r="0.5"/><circle cx="987.4" cy="424.9" r="0.4"/><circle cx="974.1" cy="424.7" r="0.8"/><circle cx="975.4" cy="427.2" r="0.8"/><circle cx="986.4" cy="425.1" r="0.8"/><circle cx="998.1" cy="424.4" r="0.5"/><circle cx="987.2" cy="429.6" r="0.6"/><circle cx="993.5" cy="425.8" r="0.8"/><circle cx="981.8" cy="426.3" r="0.8"/><circle cx="997.3" cy="429.8" r="0.7"/><circle cx="984.6" cy="428.9" r="0.7"/><circle cx="996.9" cy="429.6" r="0.5"/><circle cx="983.3" cy="428.7" r="0.5"/><circle cx="977.5" cy="424.1" r="0.7"/><circle cx="1000.2" cy="430.8" r="0.5"/><circle cx="992.6" cy="426.9" r="0.7"/><circle cx="983.9" cy="430.5" r="0.9"/><circle cx="973.5" cy="429.0" r="0.5"/><circle cx="973.3" cy="426.0" r="0.8"/><circle cx="1001.8" cy="424.8" r="0.6"/><circle cx="972.8" cy="427.8" r="0.6"/><circle cx="983.2" cy="426.2" r="0.8"/><circle cx="997.2" cy="426.0" r="0.6"/><circle cx="990.5" cy="429.4" r="0.9"/><circle cx="983.7" cy="428.9" r="0.7"/><circle cx="996.0" cy="425.0" r="0.5"/><circle cx="975.2" cy="430.5" r="0.5"/><circle cx="986.6" cy="424.8" r="0.6"/><circle cx="972.6" cy="428.0" r="0.5"/><circle cx="990.8" cy="425.9" r="0.5"/><circle cx="986.5" cy="426.6" r="0.5"/><circle cx="973.5" cy="424.5" r="0.8"/><circle cx="981.3" cy="424.5" r="0.5"/><circle cx="986.5" cy="431.0" r="0.5"/><circle cx="998.0" cy="427.4" r="0.6"/><circle cx="996.2" cy="426.8" r="0.4"/><circle cx="988.5" cy="428.6" r="0.7"/><circle cx="980.3" cy="430.6" r="0.8"/><circle cx="1001.8" cy="427.1" r="0.8"/><circle cx="993.7" cy="425.2" r="0.4"/><circle cx="977.1" cy="424.8" r="0.4"/><circle cx="982.8" cy="429.3" r="0.6"/><circle cx="987.4" cy="424.1" r="0.5"/><circle cx="1000.8" cy="424.1" r="0.7"/><circle cx="996.3" cy="429.5" r="0.8"/><circle cx="984.0" cy="429.6" r="0.8"/><circle cx="995.0" cy="430.9" r="0.5"/><circle cx="1000.5" cy="426.8" r="0.8"/><circle cx="979.5" cy="430.4" r="0.4"/><circle cx="989.3" cy="425.6" r="0.6"/><circle cx="983.1" cy="428.6" r="0.8"/></g>
<g fill="#6A4520" opacity="0.8"><circle cx="853.1" cy="494.0" r="0.6"/><circle cx="850.1" cy="500.6" r="0.6"/><circle cx="843.4" cy="486.4" r="0.8"/><circle cx="847.6" cy="496.6" r="0.7"/><circle cx="864.5" cy="482.4" r="0.5"/><circle cx="845.1" cy="486.8" r="0.7"/><circle cx="840.3" cy="490.6" r="0.6"/><circle cx="851.6" cy="491.4" r="1.0"/><circle cx="847.4" cy="500.0" r="0.6"/><circle cx="867.1" cy="480.7" r="1.0"/><circle cx="855.5" cy="502.1" r="0.5"/><circle cx="854.7" cy="495.7" r="0.5"/><circle cx="849.8" cy="494.9" r="1.0"/><circle cx="851.6" cy="482.6" r="0.6"/><circle cx="875.6" cy="481.7" r="0.8"/><circle cx="853.6" cy="494.1" r="0.5"/><circle cx="862.2" cy="500.2" r="0.9"/><circle cx="862.6" cy="490.6" r="0.7"/><circle cx="844.1" cy="498.9" r="0.8"/><circle cx="856.3" cy="494.6" r="0.7"/><circle cx="853.8" cy="483.8" r="0.8"/><circle cx="860.6" cy="490.9" r="0.4"/><circle cx="862.6" cy="489.2" r="0.8"/><circle cx="861.4" cy="501.3" r="0.5"/><circle cx="856.9" cy="502.8" r="0.8"/><circle cx="851.3" cy="496.4" r="1.0"/><circle cx="854.5" cy="499.7" r="0.5"/><circle cx="875.6" cy="490.3" r="0.5"/><circle cx="870.2" cy="494.2" r="1.0"/><circle cx="869.9" cy="497.9" r="0.7"/><circle cx="875.8" cy="479.6" r="0.9"/><circle cx="865.6" cy="484.3" r="0.9"/><circle cx="856.3" cy="491.4" r="0.9"/><circle cx="847.1" cy="485.0" r="0.8"/><circle cx="842.6" cy="491.9" r="0.9"/><circle cx="857.7" cy="484.0" r="0.9"/><circle cx="870.8" cy="497.3" r="0.7"/><circle cx="872.6" cy="497.9" r="0.5"/><circle cx="853.2" cy="480.5" r="0.4"/><circle cx="852.4" cy="499.6" r="0.9"/><circle cx="844.2" cy="482.5" r="0.6"/><circle cx="870.6" cy="493.4" r="0.9"/><circle cx="842.6" cy="502.7" r="0.5"/><circle cx="862.7" cy="499.9" r="0.8"/><circle cx="847.1" cy="494.7" r="0.7"/><circle cx="840.6" cy="486.5" r="0.6"/><circle cx="862.7" cy="485.0" r="0.8"/><circle cx="865.0" cy="482.5" r="0.5"/><circle cx="865.0" cy="489.7" r="0.5"/><circle cx="844.2" cy="501.5" r="0.8"/><circle cx="852.9" cy="482.9" r="1.0"/><circle cx="864.9" cy="496.4" r="0.6"/><circle cx="851.2" cy="488.2" r="0.5"/><circle cx="862.7" cy="488.6" r="0.9"/><circle cx="854.7" cy="489.4" r="0.7"/><circle cx="873.9" cy="486.7" r="0.8"/><circle cx="848.5" cy="492.5" r="0.6"/><circle cx="871.4" cy="485.2" r="0.9"/><circle cx="864.4" cy="489.4" r="1.0"/><circle cx="854.0" cy="496.6" r="0.8"/><circle cx="856.1" cy="479.6" r="0.7"/><circle cx="850.1" cy="489.0" r="1.0"/><circle cx="850.5" cy="495.4" r="0.8"/><circle cx="848.8" cy="488.3" r="0.5"/><circle cx="872.2" cy="484.3" r="0.7"/><circle cx="852.3" cy="498.5" r="0.9"/><circle cx="861.3" cy="491.6" r="0.5"/><circle cx="872.3" cy="480.2" r="0.6"/><circle cx="853.5" cy="496.1" r="0.8"/><circle cx="852.4" cy="500.4" r="1.0"/><circle cx="840.8" cy="493.8" r="0.7"/><circle cx="853.0" cy="489.6" r="0.6"/><circle cx="864.2" cy="493.1" r="1.0"/><circle cx="875.2" cy="502.8" r="0.6"/><circle cx="869.8" cy="494.2" r="0.8"/><circle cx="875.9" cy="479.7" r="0.7"/><circle cx="854.4" cy="494.4" r="0.5"/><circle cx="875.6" cy="483.2" r="0.6"/><circle cx="845.1" cy="487.9" r="0.8"/><circle cx="843.0" cy="482.2" r="0.8"/><circle cx="862.4" cy="496.6" r="0.6"/><circle cx="869.2" cy="496.3" r="0.9"/><circle cx="844.3" cy="489.7" r="0.4"/><circle cx="870.9" cy="501.6" r="0.9"/><circle cx="840.9" cy="486.8" r="0.7"/><circle cx="859.2" cy="480.8" r="0.9"/><circle cx="850.9" cy="490.7" r="0.5"/><circle cx="860.4" cy="481.2" r="0.5"/><circle cx="858.4" cy="485.3" r="0.9"/><circle cx="848.9" cy="488.3" r="0.4"/><circle cx="847.8" cy="489.3" r="0.7"/><circle cx="856.5" cy="499.3" r="0.5"/><circle cx="870.6" cy="481.9" r="1.0"/><circle cx="858.9" cy="488.2" r="0.8"/><circle cx="871.1" cy="502.1" r="0.6"/><circle cx="840.4" cy="481.8" r="0.9"/><circle cx="866.4" cy="495.8" r="0.5"/><circle cx="859.1" cy="478.7" r="0.5"/><circle cx="850.8" cy="502.2" r="0.8"/><circle cx="870.5" cy="479.2" r="0.6"/><circle cx="842.8" cy="484.5" r="0.5"/><circle cx="873.1" cy="486.2" r="0.7"/><circle cx="863.5" cy="500.2" r="1.0"/><circle cx="860.4" cy="490.5" r="0.9"/><circle cx="854.2" cy="485.5" r="0.8"/><circle cx="849.3" cy="487.2" r="0.7"/><circle cx="857.2" cy="487.0" r="0.7"/><circle cx="856.2" cy="479.2" r="0.9"/><circle cx="842.2" cy="491.2" r="0.7"/><circle cx="854.4" cy="483.6" r="0.5"/><circle cx="853.4" cy="485.9" r="0.7"/><circle cx="848.3" cy="496.7" r="0.7"/><circle cx="840.3" cy="488.2" r="1.0"/><circle cx="840.3" cy="492.8" r="1.0"/><circle cx="853.2" cy="493.0" r="0.6"/><circle cx="850.8" cy="493.2" r="0.8"/><circle cx="851.3" cy="490.4" r="0.7"/><circle cx="867.1" cy="479.3" r="0.5"/><circle cx="849.1" cy="484.8" r="0.9"/><circle cx="855.3" cy="499.5" r="0.6"/><circle cx="850.3" cy="495.0" r="0.5"/><circle cx="875.4" cy="498.8" r="0.6"/><circle cx="851.4" cy="498.5" r="0.9"/><circle cx="863.1" cy="479.4" r="0.9"/><circle cx="841.7" cy="493.6" r="0.7"/><circle cx="873.4" cy="494.0" r="0.4"/><circle cx="873.6" cy="496.8" r="0.7"/><circle cx="840.2" cy="496.4" r="0.7"/><circle cx="864.5" cy="502.6" r="1.0"/><circle cx="842.7" cy="497.5" r="0.7"/><circle cx="867.1" cy="487.4" r="0.7"/><circle cx="855.7" cy="480.9" r="0.6"/><circle cx="866.4" cy="479.8" r="0.5"/><circle cx="870.0" cy="494.7" r="0.7"/><circle cx="844.1" cy="481.0" r="0.6"/><circle cx="874.3" cy="492.0" r="1.0"/><circle cx="847.6" cy="488.4" r="0.7"/><circle cx="870.2" cy="481.1" r="0.9"/><circle cx="857.0" cy="478.8" r="0.7"/><circle cx="853.6" cy="494.9" r="1.0"/><circle cx="857.8" cy="495.2" r="0.6"/><circle cx="868.0" cy="480.6" r="0.8"/><circle cx="846.0" cy="492.6" r="0.5"/><circle cx="852.5" cy="482.1" r="0.6"/><circle cx="861.3" cy="491.0" r="0.6"/><circle cx="860.7" cy="499.1" r="0.6"/><circle cx="861.0" cy="490.0" r="1.0"/><circle cx="851.8" cy="495.4" r="0.5"/><circle cx="849.4" cy="496.3" r="0.7"/><circle cx="849.3" cy="479.6" r="0.9"/></g>
<path d="M929,432 L929,322 L933,306 C936,298 946,294 952,297 L968,300 L984,304 L1012,304 L1028,296 L1040,304 L1046,330 L1086,330 L1090,322 L1108,318 L1126,328 L1136,350 L1140,376 L1136,392 L1130,432Z" fill="#8E5E2A" stroke="#2A1B10" stroke-width="0.8"/>
<g transform="rotate(-11 963.6 308.3)"><ellipse cx="963.6" cy="308.3" rx="5.7" ry="4.7" fill="#CC9852" stroke="#2A1B10" stroke-width="1.05"/><ellipse cx="961.3" cy="306.7" rx="0.95" ry="0.93" fill="#5A3818"/><ellipse cx="965.6" cy="306.4" rx="0.95" ry="0.93" fill="#5A3818"/><ellipse cx="963.6" cy="308.6" rx="0.95" ry="0.93" fill="#5A3818"/><ellipse cx="961.0" cy="310.2" rx="0.95" ry="0.93" fill="#5A3818"/><ellipse cx="966.2" cy="310.0" rx="0.95" ry="0.93" fill="#5A3818"/></g>
<ellipse cx="954.4" cy="309.4" rx="4.5" ry="3.4" fill="#CC9852" stroke="#2A1B10" stroke-width="0.9"/><ellipse cx="954.4" cy="309.4" rx="3.0" ry="2.3" fill="none" stroke="#5A3A1C" stroke-width="0.7"/><ellipse cx="954.4" cy="309.4" rx="1.8" ry="1.4" fill="none" stroke="#5A3A1C" stroke-width="0.7"/>
<g transform="rotate(14 1036.6 310.1)"><path d="M1028.2,310.1 v1.6 a8.4,3.8 0 0 0 16.7,0 v-1.6Z" fill="#B07A3C" stroke="#2A1B10" stroke-width="0.9"/><ellipse cx="1036.6" cy="310.1" rx="8.4" ry="3.8" fill="#C8924D" stroke="#2A1B10" stroke-width="0.9"/><ellipse cx="1033.2" cy="308.8" rx="0.6" ry="0.36" fill="#5A3A1E"/><ellipse cx="1039.5" cy="308.6" rx="0.6" ry="0.36" fill="#5A3A1E"/><ellipse cx="1036.6" cy="310.3" rx="0.6" ry="0.36" fill="#5A3A1E"/><ellipse cx="1032.8" cy="311.6" rx="0.6" ry="0.36" fill="#5A3A1E"/><ellipse cx="1040.3" cy="311.4" rx="0.6" ry="0.36" fill="#5A3A1E"/></g>
<g transform="rotate(19 1020.2 310.8)"><ellipse cx="1020.2" cy="310.8" rx="6.2" ry="5.9" fill="#D09C55" stroke="#2A1B10" stroke-width="1.05"/><ellipse cx="1017.1" cy="309.0" rx="0.95" ry="0.95" fill="#5A3818"/><ellipse cx="1020.2" cy="307.5" rx="0.95" ry="0.95" fill="#5A3818"/><ellipse cx="1023.3" cy="309.3" rx="0.95" ry="0.95" fill="#5A3818"/><ellipse cx="1019.3" cy="310.8" rx="0.95" ry="0.95" fill="#5A3818"/><ellipse cx="1022.1" cy="312.0" rx="0.95" ry="0.95" fill="#5A3818"/><ellipse cx="1017.4" cy="313.2" rx="0.95" ry="0.95" fill="#5A3818"/><ellipse cx="1020.8" cy="314.1" rx="0.95" ry="0.95" fill="#5A3818"/></g>
<ellipse cx="957.0" cy="310.9" rx="4.9" ry="3.7" fill="#D9AC64" stroke="#2A1B10" stroke-width="0.9"/><ellipse cx="957.0" cy="310.9" rx="3.3" ry="2.5" fill="none" stroke="#5A3A1C" stroke-width="0.7"/><ellipse cx="957.0" cy="310.9" rx="2.0" ry="1.5" fill="none" stroke="#5A3A1C" stroke-width="0.7"/>
<g transform="rotate(10 1022.0 311.1)"><ellipse cx="1022.0" cy="311.1" rx="4.8" ry="4.4" fill="#C48C48" stroke="#2A1B10" stroke-width="1.05"/><ellipse cx="1019.3" cy="309.8" rx="0.95" ry="0.95" fill="#5A3818"/><ellipse cx="1021.5" cy="308.5" rx="0.95" ry="0.95" fill="#5A3818"/><ellipse cx="1023.9" cy="309.2" rx="0.95" ry="0.95" fill="#5A3818"/><ellipse cx="1020.5" cy="310.9" rx="0.95" ry="0.95" fill="#5A3818"/><ellipse cx="1022.9" cy="310.9" rx="0.95" ry="0.95" fill="#5A3818"/><ellipse cx="1024.9" cy="311.6" rx="0.95" ry="0.95" fill="#5A3818"/><ellipse cx="1019.3" cy="312.7" rx="0.95" ry="0.95" fill="#5A3818"/><ellipse cx="1021.7" cy="313.1" rx="0.95" ry="0.95" fill="#5A3818"/><ellipse cx="1023.9" cy="313.3" rx="0.95" ry="0.95" fill="#5A3818"/></g>
<g transform="rotate(-15 970.0 313.4)"><ellipse cx="970.0" cy="313.4" rx="4.9" ry="3.9" fill="#CC9852" stroke="#2A1B10" stroke-width="1.05"/><ellipse cx="967.6" cy="312.2" rx="0.95" ry="0.91" fill="#5A3818"/><ellipse cx="970.0" cy="311.3" rx="0.95" ry="0.91" fill="#5A3818"/><ellipse cx="972.5" cy="312.4" rx="0.95" ry="0.91" fill="#5A3818"/><ellipse cx="969.3" cy="313.4" rx="0.95" ry="0.91" fill="#5A3818"/><ellipse cx="971.5" cy="314.2" rx="0.95" ry="0.91" fill="#5A3818"/><ellipse cx="967.8" cy="315.0" rx="0.95" ry="0.91" fill="#5A3818"/><ellipse cx="970.5" cy="315.6" rx="0.95" ry="0.91" fill="#5A3818"/></g>
<ellipse cx="1005.0" cy="315.2" rx="6.0" ry="5.3" fill="#CC9852" stroke="#2A1B10" stroke-width="0.9"/><ellipse cx="1005.0" cy="315.2" rx="4.0" ry="3.6" fill="none" stroke="#5A3A1C" stroke-width="0.7"/><ellipse cx="1005.0" cy="315.2" rx="2.4" ry="2.1" fill="none" stroke="#5A3A1C" stroke-width="0.7"/>
<g transform="rotate(-19 960.0 316.8)"><ellipse cx="960.0" cy="316.8" rx="7.8" ry="6.2" fill="#C48C48" stroke="#2A1B10" stroke-width="1.05"/><ellipse cx="956.1" cy="315.0" rx="0.95" ry="0.90" fill="#5A3818"/><ellipse cx="960.0" cy="313.4" rx="0.95" ry="0.90" fill="#5A3818"/><ellipse cx="963.9" cy="315.3" rx="0.95" ry="0.90" fill="#5A3818"/><ellipse cx="958.8" cy="316.8" rx="0.95" ry="0.90" fill="#5A3818"/><ellipse cx="962.3" cy="318.1" rx="0.95" ry="0.90" fill="#5A3818"/><ellipse cx="956.5" cy="319.3" rx="0.95" ry="0.90" fill="#5A3818"/><ellipse cx="960.8" cy="320.2" rx="0.95" ry="0.90" fill="#5A3818"/></g>
<g transform="rotate(-18 985.7 318.3)"><rect x="980.4" y="314.0" width="10.7" height="8.7" rx="1" fill="#D6A95E" stroke="#2A1B10" stroke-width="1.05"/><circle cx="983.0" cy="316.1" r="0.65" fill="#5A3818"/><circle cx="983.0" cy="320.4" r="0.65" fill="#5A3818"/><circle cx="988.4" cy="316.1" r="0.65" fill="#5A3818"/><circle cx="988.4" cy="320.4" r="0.65" fill="#5A3818"/></g>
<g><ellipse cx="1017.2" cy="318.5" rx="5.4" ry="5.4" fill="#7A4C2A" stroke="#2A1B10" stroke-width="0.9"/><ellipse cx="1015.0" cy="316.6" rx="0.7" ry="0.70" fill="#D8B078"/><ellipse cx="1019.0" cy="316.3" rx="0.7" ry="0.70" fill="#D8B078"/><ellipse cx="1017.2" cy="318.8" rx="0.7" ry="0.70" fill="#D8B078"/><ellipse cx="1014.7" cy="320.7" rx="0.7" ry="0.70" fill="#D8B078"/><ellipse cx="1019.6" cy="320.4" rx="0.7" ry="0.70" fill="#D8B078"/></g>
<g transform="rotate(5 1006.7 319.8)"><ellipse cx="1006.7" cy="319.8" rx="5.5" ry="5.0" fill="#D6A75F" stroke="#2A1B10" stroke-width="1.05"/><ellipse cx="1003.9" cy="318.3" rx="0.95" ry="0.95" fill="#5A3818"/><ellipse cx="1006.7" cy="317.1" rx="0.95" ry="0.95" fill="#5A3818"/><ellipse cx="1009.5" cy="318.6" rx="0.95" ry="0.95" fill="#5A3818"/><ellipse cx="1005.9" cy="319.8" rx="0.95" ry="0.95" fill="#5A3818"/><ellipse cx="1008.3" cy="320.8" rx="0.95" ry="0.95" fill="#5A3818"/><ellipse cx="1004.2" cy="321.8" rx="0.95" ry="0.95" fill="#5A3818"/><ellipse cx="1007.2" cy="322.5" rx="0.95" ry="0.95" fill="#5A3818"/></g>
<g transform="rotate(-33 1039.9 320.5)"><rect x="1035.3" y="314.9" width="9.2" height="11.2" rx="1" fill="#E0B870" stroke="#2A1B10" stroke-width="1.05"/><circle cx="1037.6" cy="317.7" r="0.65" fill="#5A3818"/><circle cx="1037.6" cy="323.3" r="0.65" fill="#5A3818"/><circle cx="1042.2" cy="317.7" r="0.65" fill="#5A3818"/><circle cx="1042.2" cy="323.3" r="0.65" fill="#5A3818"/></g>
<g transform="rotate(-29 997.4 321.0)"><rect x="992.6" y="315.4" width="9.5" height="11.2" rx="1" fill="#D6A95E" stroke="#2A1B10" stroke-width="1.05"/><circle cx="995.0" cy="318.2" r="0.65" fill="#5A3818"/><circle cx="995.0" cy="323.8" r="0.65" fill="#5A3818"/><circle cx="999.7" cy="318.2" r="0.65" fill="#5A3818"/><circle cx="999.7" cy="323.8" r="0.65" fill="#5A3818"/></g>
<g><ellipse cx="981.0" cy="321.3" rx="6.3" ry="6.3" fill="#7A4C2A" stroke="#2A1B10" stroke-width="0.9"/><ellipse cx="978.5" cy="319.1" rx="0.7" ry="0.70" fill="#D8B078"/><ellipse cx="983.2" cy="318.8" rx="0.7" ry="0.70" fill="#D8B078"/><ellipse cx="981.0" cy="321.6" rx="0.7" ry="0.70" fill="#D8B078"/><ellipse cx="978.2" cy="323.8" rx="0.7" ry="0.70" fill="#D8B078"/><ellipse cx="983.9" cy="323.5" rx="0.7" ry="0.70" fill="#D8B078"/></g>
<g transform="rotate(12 952.7 321.5)"><rect x="945.8" y="314.6" width="13.8" height="13.6" rx="1" fill="#E0B870" stroke="#2A1B10" stroke-width="1.05"/><circle cx="948.1" cy="316.9" r="0.65" fill="#5A3818"/><circle cx="948.1" cy="321.5" r="0.65" fill="#5A3818"/><circle cx="948.1" cy="326.0" r="0.65" fill="#5A3818"/><circle cx="952.7" cy="316.9" r="0.65" fill="#5A3818"/><circle cx="952.7" cy="321.5" r="0.65" fill="#5A3818"/><circle cx="952.7" cy="326.0" r="0.65" fill="#5A3818"/><circle cx="957.3" cy="316.9" r="0.65" fill="#5A3818"/><circle cx="957.3" cy="321.5" r="0.65" fill="#5A3818"/><circle cx="957.3" cy="326.0" r="0.65" fill="#5A3818"/></g>
<g><ellipse cx="964.8" cy="322.4" rx="8.1" ry="7.1" fill="#C48C48" stroke="#2A1B10" stroke-width="1.05"/><ellipse cx="960.3" cy="320.2" rx="0.95" ry="0.95" fill="#5A3818"/><ellipse cx="964.0" cy="318.1" rx="0.95" ry="0.95" fill="#5A3818"/><ellipse cx="968.1" cy="319.2" rx="0.95" ry="0.95" fill="#5A3818"/><ellipse cx="962.4" cy="322.0" rx="0.95" ry="0.95" fill="#5A3818"/><ellipse cx="966.4" cy="322.0" rx="0.95" ry="0.95" fill="#5A3818"/><ellipse cx="969.8" cy="323.1" rx="0.95" ry="0.95" fill="#5A3818"/><ellipse cx="960.3" cy="324.9" rx="0.95" ry="0.95" fill="#5A3818"/><ellipse cx="964.4" cy="325.6" rx="0.95" ry="0.95" fill="#5A3818"/><ellipse cx="968.1" cy="325.9" rx="0.95" ry="0.95" fill="#5A3818"/></g>
<g transform="rotate(8 1025.9 322.5)"><ellipse cx="1025.9" cy="322.5" rx="6.7" ry="6.1" fill="#C48C48" stroke="#2A1B10" stroke-width="1.05"/><ellipse cx="1023.2" cy="320.3" rx="0.95" ry="0.95" fill="#5A3818"/><ellipse cx="1028.2" cy="320.0" rx="0.95" ry="0.95" fill="#5A3818"/><ellipse cx="1025.9" cy="322.8" rx="0.95" ry="0.95" fill="#5A3818"/><ellipse cx="1022.9" cy="324.9" rx="0.95" ry="0.95" fill="#5A3818"/><ellipse cx="1028.9" cy="324.6" rx="0.95" ry="0.95" fill="#5A3818"/></g>
<ellipse cx="1006.3" cy="323.0" rx="5.9" ry="5.5" fill="#D09C55" stroke="#2A1B10" stroke-width="0.9"/><ellipse cx="1006.3" cy="323.0" rx="4.0" ry="3.7" fill="none" stroke="#5A3A1C" stroke-width="0.7"/><ellipse cx="1006.3" cy="323.0" rx="2.3" ry="2.2" fill="none" stroke="#5A3A1C" stroke-width="0.7"/>
<g transform="rotate(-14 1034.0 324.4)"><ellipse cx="1034.0" cy="324.4" rx="4.6" ry="3.7" fill="#D09C55" stroke="#2A1B10" stroke-width="1.05"/><ellipse cx="1031.5" cy="323.3" rx="0.95" ry="0.91" fill="#5A3818"/><ellipse cx="1033.6" cy="322.2" rx="0.95" ry="0.91" fill="#5A3818"/><ellipse cx="1035.8" cy="322.7" rx="0.95" ry="0.91" fill="#5A3818"/><ellipse cx="1032.6" cy="324.2" rx="0.95" ry="0.91" fill="#5A3818"/><ellipse cx="1034.9" cy="324.2" rx="0.95" ry="0.91" fill="#5A3818"/><ellipse cx="1036.9" cy="324.8" rx="0.95" ry="0.91" fill="#5A3818"/><ellipse cx="1031.5" cy="325.7" rx="0.95" ry="0.91" fill="#5A3818"/><ellipse cx="1033.8" cy="326.1" rx="0.95" ry="0.91" fill="#5A3818"/><ellipse cx="1035.8" cy="326.3" rx="0.95" ry="0.91" fill="#5A3818"/></g>
<ellipse cx="1029.4" cy="324.5" rx="5.2" ry="4.9" fill="#C48C48" stroke="#2A1B10" stroke-width="0.9"/><ellipse cx="1029.4" cy="324.5" rx="3.5" ry="3.3" fill="none" stroke="#5A3A1C" stroke-width="0.7"/><ellipse cx="1029.4" cy="324.5" rx="2.1" ry="1.9" fill="none" stroke="#5A3A1C" stroke-width="0.7"/>
<g transform="rotate(30 1044.6 325.9)"><rect x="1036.8" y="321.6" width="15.5" height="8.6" rx="1" fill="#E0B870" stroke="#2A1B10" stroke-width="1.05"/><circle cx="1039.4" cy="323.0" r="0.65" fill="#5A3818"/><circle cx="1039.4" cy="325.9" r="0.65" fill="#5A3818"/><circle cx="1039.4" cy="328.8" r="0.65" fill="#5A3818"/><circle cx="1044.6" cy="323.0" r="0.65" fill="#5A3818"/><circle cx="1044.6" cy="325.9" r="0.65" fill="#5A3818"/><circle cx="1044.6" cy="328.8" r="0.65" fill="#5A3818"/><circle cx="1049.8" cy="323.0" r="0.65" fill="#5A3818"/><circle cx="1049.8" cy="325.9" r="0.65" fill="#5A3818"/><circle cx="1049.8" cy="328.8" r="0.65" fill="#5A3818"/></g>
<g transform="rotate(-20 1005.7 326.8)"><rect x="1000.5" y="322.8" width="10.4" height="8.0" rx="1" fill="#DDB368" stroke="#2A1B10" stroke-width="1.05"/><circle cx="1003.1" cy="324.8" r="0.65" fill="#5A3818"/><circle cx="1003.1" cy="328.9" r="0.65" fill="#5A3818"/><circle cx="1008.3" cy="324.8" r="0.65" fill="#5A3818"/><circle cx="1008.3" cy="328.9" r="0.65" fill="#5A3818"/></g>
<ellipse cx="994.9" cy="327.6" rx="5.9" ry="4.3" fill="#C48C48" stroke="#2A1B10" stroke-width="0.9"/><ellipse cx="994.9" cy="327.6" rx="4.0" ry="2.9" fill="none" stroke="#5A3A1C" stroke-width="0.7"/><ellipse cx="994.9" cy="327.6" rx="2.4" ry="1.7" fill="none" stroke="#5A3A1C" stroke-width="0.7"/>
<g transform="rotate(-5 942.4 328.0)"><rect x="936.4" y="323.0" width="12.0" height="9.9" rx="1" fill="#D6A95E" stroke="#2A1B10" stroke-width="1.05"/><circle cx="938.4" cy="324.7" r="0.65" fill="#5A3818"/><circle cx="938.4" cy="328.0" r="0.65" fill="#5A3818"/><circle cx="938.4" cy="331.2" r="0.65" fill="#5A3818"/><circle cx="942.4" cy="324.7" r="0.65" fill="#5A3818"/><circle cx="942.4" cy="328.0" r="0.65" fill="#5A3818"/><circle cx="942.4" cy="331.2" r="0.65" fill="#5A3818"/><circle cx="946.4" cy="324.7" r="0.65" fill="#5A3818"/><circle cx="946.4" cy="328.0" r="0.65" fill="#5A3818"/><circle cx="946.4" cy="331.2" r="0.65" fill="#5A3818"/></g>
<g transform="rotate(-26 944.0 328.3)"><ellipse cx="944.0" cy="328.3" rx="5.9" ry="4.5" fill="#C48C48" stroke="#2A1B10" stroke-width="1.05"/><ellipse cx="941.7" cy="326.7" rx="0.95" ry="0.87" fill="#5A3818"/><ellipse cx="946.1" cy="326.5" rx="0.95" ry="0.87" fill="#5A3818"/><ellipse cx="944.0" cy="328.5" rx="0.95" ry="0.87" fill="#5A3818"/><ellipse cx="941.4" cy="330.1" rx="0.95" ry="0.87" fill="#5A3818"/><ellipse cx="946.6" cy="329.9" rx="0.95" ry="0.87" fill="#5A3818"/></g>
<ellipse cx="998.6" cy="330.1" rx="7.4" ry="7.1" fill="#C48C48" stroke="#2A1B10" stroke-width="0.9"/><ellipse cx="998.6" cy="330.1" rx="5.1" ry="4.8" fill="none" stroke="#5A3A1C" stroke-width="0.7"/><ellipse cx="998.6" cy="330.1" rx="3.0" ry="2.8" fill="none" stroke="#5A3A1C" stroke-width="0.7"/>
<g transform="rotate(31 955.8 330.1)"><rect x="947.9" y="324.4" width="15.6" height="11.5" rx="1" fill="#E0B870" stroke="#2A1B10" stroke-width="1.05"/><circle cx="950.5" cy="326.3" r="0.65" fill="#5A3818"/><circle cx="950.5" cy="330.1" r="0.65" fill="#5A3818"/><circle cx="950.5" cy="333.9" r="0.65" fill="#5A3818"/><circle cx="955.8" cy="326.3" r="0.65" fill="#5A3818"/><circle cx="955.8" cy="330.1" r="0.65" fill="#5A3818"/><circle cx="955.8" cy="333.9" r="0.65" fill="#5A3818"/><circle cx="961.0" cy="326.3" r="0.65" fill="#5A3818"/><circle cx="961.0" cy="330.1" r="0.65" fill="#5A3818"/><circle cx="961.0" cy="333.9" r="0.65" fill="#5A3818"/></g>
<g transform="rotate(26 969.0 330.1)"><ellipse cx="969.0" cy="330.1" rx="7.2" ry="7.1" fill="#D09C55" stroke="#2A1B10" stroke-width="1.05"/><ellipse cx="966.1" cy="327.7" rx="0.95" ry="0.95" fill="#5A3818"/><ellipse cx="971.5" cy="327.3" rx="0.95" ry="0.95" fill="#5A3818"/><ellipse cx="969.0" cy="330.5" rx="0.95" ry="0.95" fill="#5A3818"/><ellipse cx="965.7" cy="333.0" rx="0.95" ry="0.95" fill="#5A3818"/><ellipse cx="972.2" cy="332.6" rx="0.95" ry="0.95" fill="#5A3818"/></g>
<g transform="rotate(7 975.9 330.6)"><ellipse cx="975.9" cy="330.6" rx="5.3" ry="4.8" fill="#D6A75F" stroke="#2A1B10" stroke-width="1.05"/><ellipse cx="973.2" cy="329.1" rx="0.95" ry="0.95" fill="#5A3818"/><ellipse cx="975.9" cy="327.9" rx="0.95" ry="0.95" fill="#5A3818"/><ellipse cx="978.5" cy="329.4" rx="0.95" ry="0.95" fill="#5A3818"/><ellipse cx="975.1" cy="330.6" rx="0.95" ry="0.95" fill="#5A3818"/><ellipse cx="977.5" cy="331.5" rx="0.95" ry="0.95" fill="#5A3818"/><ellipse cx="973.5" cy="332.5" rx="0.95" ry="0.95" fill="#5A3818"/><ellipse cx="976.4" cy="333.2" rx="0.95" ry="0.95" fill="#5A3818"/></g>
<ellipse cx="1035.5" cy="331.2" rx="6.3" ry="6.3" fill="#C48C48" stroke="#2A1B10" stroke-width="0.9"/><ellipse cx="1035.5" cy="331.2" rx="4.3" ry="4.3" fill="none" stroke="#5A3A1C" stroke-width="0.7"/><ellipse cx="1035.5" cy="331.2" rx="2.5" ry="2.5" fill="none" stroke="#5A3A1C" stroke-width="0.7"/>
<g transform="rotate(6 978.2 331.4)"><rect x="971.7" y="326.6" width="13.1" height="9.6" rx="1" fill="#E0B870" stroke="#2A1B10" stroke-width="1.05"/><circle cx="973.9" cy="328.2" r="0.65" fill="#5A3818"/><circle cx="973.9" cy="331.4" r="0.65" fill="#5A3818"/><circle cx="973.9" cy="334.6" r="0.65" fill="#5A3818"/><circle cx="978.2" cy="328.2" r="0.65" fill="#5A3818"/><circle cx="978.2" cy="331.4" r="0.65" fill="#5A3818"/><circle cx="978.2" cy="334.6" r="0.65" fill="#5A3818"/><circle cx="982.6" cy="328.2" r="0.65" fill="#5A3818"/><circle cx="982.6" cy="331.4" r="0.65" fill="#5A3818"/><circle cx="982.6" cy="334.6" r="0.65" fill="#5A3818"/></g>
<g transform="rotate(10 978.8 333.1)"><path d="M970.7,333.1 v1.6 a8.1,3.7 0 0 0 16.2,0 v-1.6Z" fill="#B07A3C" stroke="#2A1B10" stroke-width="0.9"/><ellipse cx="978.8" cy="333.1" rx="8.1" ry="3.7" fill="#D09C55" stroke="#2A1B10" stroke-width="0.9"/><ellipse cx="975.6" cy="331.9" rx="0.6" ry="0.36" fill="#5A3A1E"/><ellipse cx="981.7" cy="331.7" rx="0.6" ry="0.36" fill="#5A3A1E"/><ellipse cx="978.8" cy="333.3" rx="0.6" ry="0.36" fill="#5A3A1E"/><ellipse cx="975.2" cy="334.6" rx="0.6" ry="0.36" fill="#5A3A1E"/><ellipse cx="982.5" cy="334.4" rx="0.6" ry="0.36" fill="#5A3A1E"/></g>
<g transform="rotate(27 986.4 333.3)"><ellipse cx="986.4" cy="333.3" rx="6.3" ry="6.2" fill="#C48C48" stroke="#2A1B10" stroke-width="1.05"/><ellipse cx="982.9" cy="331.4" rx="0.95" ry="0.95" fill="#5A3818"/><ellipse cx="985.7" cy="329.6" rx="0.95" ry="0.95" fill="#5A3818"/><ellipse cx="988.9" cy="330.5" rx="0.95" ry="0.95" fill="#5A3818"/><ellipse cx="984.5" cy="333.0" rx="0.95" ry="0.95" fill="#5A3818"/><ellipse cx="987.6" cy="333.0" rx="0.95" ry="0.95" fill="#5A3818"/><ellipse cx="990.3" cy="333.9" rx="0.95" ry="0.95" fill="#5A3818"/><ellipse cx="982.9" cy="335.5" rx="0.95" ry="0.95" fill="#5A3818"/><ellipse cx="986.1" cy="336.1" rx="0.95" ry="0.95" fill="#5A3818"/><ellipse cx="988.9" cy="336.4" rx="0.95" ry="0.95" fill="#5A3818"/></g>
<g transform="rotate(-22 960.9 333.8)"><ellipse cx="960.9" cy="333.8" rx="6.0" ry="4.7" fill="#D9AC64" stroke="#2A1B10" stroke-width="1.05"/><ellipse cx="957.6" cy="332.4" rx="0.95" ry="0.88" fill="#5A3818"/><ellipse cx="960.3" cy="331.0" rx="0.95" ry="0.88" fill="#5A3818"/><ellipse cx="963.3" cy="331.7" rx="0.95" ry="0.88" fill="#5A3818"/><ellipse cx="959.1" cy="333.6" rx="0.95" ry="0.88" fill="#5A3818"/><ellipse cx="962.1" cy="333.6" rx="0.95" ry="0.88" fill="#5A3818"/><ellipse cx="964.6" cy="334.2" rx="0.95" ry="0.88" fill="#5A3818"/><ellipse cx="957.6" cy="335.4" rx="0.95" ry="0.88" fill="#5A3818"/><ellipse cx="960.6" cy="335.9" rx="0.95" ry="0.88" fill="#5A3818"/><ellipse cx="963.3" cy="336.1" rx="0.95" ry="0.88" fill="#5A3818"/></g>
<g transform="rotate(-12 1058.3 335.0)"><rect x="1052.7" y="330.2" width="11.2" height="9.7" rx="1" fill="#DDB368" stroke="#2A1B10" stroke-width="1.05"/><circle cx="1054.6" cy="331.8" r="0.65" fill="#5A3818"/><circle cx="1054.6" cy="335.0" r="0.65" fill="#5A3818"/><circle cx="1054.6" cy="338.3" r="0.65" fill="#5A3818"/><circle cx="1058.3" cy="331.8" r="0.65" fill="#5A3818"/><circle cx="1058.3" cy="335.0" r="0.65" fill="#5A3818"/><circle cx="1058.3" cy="338.3" r="0.65" fill="#5A3818"/><circle cx="1062.1" cy="331.8" r="0.65" fill="#5A3818"/><circle cx="1062.1" cy="335.0" r="0.65" fill="#5A3818"/><circle cx="1062.1" cy="338.3" r="0.65" fill="#5A3818"/></g>
<g transform="rotate(-20 945.5 335.5)"><rect x="940.3" y="329.2" width="10.4" height="12.4" rx="1" fill="#DDB368" stroke="#2A1B10" stroke-width="1.05"/><circle cx="942.9" cy="332.4" r="0.65" fill="#5A3818"/><circle cx="942.9" cy="338.6" r="0.65" fill="#5A3818"/><circle cx="948.1" cy="332.4" r="0.65" fill="#5A3818"/><circle cx="948.1" cy="338.6" r="0.65" fill="#5A3818"/></g>
<g transform="rotate(-13 951.8 335.5)"><ellipse cx="951.8" cy="335.5" rx="7.6" ry="6.2" fill="#CC9852" stroke="#2A1B10" stroke-width="1.05"/><ellipse cx="948.7" cy="333.3" rx="0.95" ry="0.92" fill="#5A3818"/><ellipse cx="954.5" cy="333.0" rx="0.95" ry="0.92" fill="#5A3818"/><ellipse cx="951.8" cy="335.8" rx="0.95" ry="0.92" fill="#5A3818"/><ellipse cx="948.4" cy="338.0" rx="0.95" ry="0.92" fill="#5A3818"/><ellipse cx="955.2" cy="337.6" rx="0.95" ry="0.92" fill="#5A3818"/></g>
<g transform="rotate(13 942.6 335.9)"><rect x="935.7" y="329.8" width="13.8" height="12.1" rx="1" fill="#DDB368" stroke="#2A1B10" stroke-width="1.05"/><circle cx="938.0" cy="331.8" r="0.65" fill="#5A3818"/><circle cx="938.0" cy="335.9" r="0.65" fill="#5A3818"/><circle cx="938.0" cy="339.9" r="0.65" fill="#5A3818"/><circle cx="942.6" cy="331.8" r="0.65" fill="#5A3818"/><circle cx="942.6" cy="335.9" r="0.65" fill="#5A3818"/><circle cx="942.6" cy="339.9" r="0.65" fill="#5A3818"/><circle cx="947.2" cy="331.8" r="0.65" fill="#5A3818"/><circle cx="947.2" cy="335.9" r="0.65" fill="#5A3818"/><circle cx="947.2" cy="339.9" r="0.65" fill="#5A3818"/></g>
<g transform="rotate(20 1019.0 336.7)"><ellipse cx="1019.0" cy="336.7" rx="4.9" ry="4.7" fill="#CC9852" stroke="#2A1B10" stroke-width="1.05"/><ellipse cx="1016.6" cy="335.3" rx="0.95" ry="0.95" fill="#5A3818"/><ellipse cx="1019.0" cy="334.1" rx="0.95" ry="0.95" fill="#5A3818"/><ellipse cx="1021.5" cy="335.5" rx="0.95" ry="0.95" fill="#5A3818"/><ellipse cx="1018.3" cy="336.7" rx="0.95" ry="0.95" fill="#5A3818"/><ellipse cx="1020.5" cy="337.6" rx="0.95" ry="0.95" fill="#5A3818"/><ellipse cx="1016.8" cy="338.6" rx="0.95" ry="0.95" fill="#5A3818"/><ellipse cx="1019.5" cy="339.3" rx="0.95" ry="0.95" fill="#5A3818"/></g>
<ellipse cx="981.7" cy="336.9" rx="5.8" ry="5.0" fill="#CC9852" stroke="#2A1B10" stroke-width="0.9"/><ellipse cx="981.7" cy="336.9" rx="3.9" ry="3.4" fill="none" stroke="#5A3A1C" stroke-width="0.7"/><ellipse cx="981.7" cy="336.9" rx="2.3" ry="2.0" fill="none" stroke="#5A3A1C" stroke-width="0.7"/>
<g transform="rotate(27 935.8 337.2)"><ellipse cx="935.8" cy="337.2" rx="7.3" ry="7.2" fill="#D9AC64" stroke="#2A1B10" stroke-width="1.05"/><ellipse cx="932.9" cy="334.7" rx="0.95" ry="0.95" fill="#5A3818"/><ellipse cx="938.4" cy="334.3" rx="0.95" ry="0.95" fill="#5A3818"/><ellipse cx="935.8" cy="337.6" rx="0.95" ry="0.95" fill="#5A3818"/><ellipse cx="932.5" cy="340.1" rx="0.95" ry="0.95" fill="#5A3818"/><ellipse cx="939.1" cy="339.7" rx="0.95" ry="0.95" fill="#5A3818"/></g>
<g transform="rotate(-14 982.4 338.9)"><ellipse cx="982.4" cy="338.9" rx="6.8" ry="5.6" fill="#D09C55" stroke="#2A1B10" stroke-width="1.05"/><ellipse cx="978.6" cy="337.2" rx="0.95" ry="0.92" fill="#5A3818"/><ellipse cx="981.7" cy="335.6" rx="0.95" ry="0.92" fill="#5A3818"/><ellipse cx="985.1" cy="336.4" rx="0.95" ry="0.92" fill="#5A3818"/><ellipse cx="980.3" cy="338.6" rx="0.95" ry="0.92" fill="#5A3818"/><ellipse cx="983.8" cy="338.6" rx="0.95" ry="0.92" fill="#5A3818"/><ellipse cx="986.6" cy="339.5" rx="0.95" ry="0.92" fill="#5A3818"/><ellipse cx="978.6" cy="340.9" rx="0.95" ry="0.92" fill="#5A3818"/><ellipse cx="982.0" cy="341.4" rx="0.95" ry="0.92" fill="#5A3818"/><ellipse cx="985.1" cy="341.7" rx="0.95" ry="0.92" fill="#5A3818"/></g>
<g transform="rotate(-23 980.4 338.9)"><rect x="975.3" y="333.6" width="10.1" height="10.7" rx="1" fill="#E0B870" stroke="#2A1B10" stroke-width="1.05"/><circle cx="977.9" cy="336.3" r="0.65" fill="#5A3818"/><circle cx="977.9" cy="341.6" r="0.65" fill="#5A3818"/><circle cx="982.9" cy="336.3" r="0.65" fill="#5A3818"/><circle cx="982.9" cy="341.6" r="0.65" fill="#5A3818"/></g>
<g transform="rotate(28 938.4 339.0)"><ellipse cx="938.4" cy="339.0" rx="5.3" ry="5.2" fill="#CC9852" stroke="#2A1B10" stroke-width="1.05"/><ellipse cx="936.3" cy="337.2" rx="0.95" ry="0.95" fill="#5A3818"/><ellipse cx="940.2" cy="336.9" rx="0.95" ry="0.95" fill="#5A3818"/><ellipse cx="938.4" cy="339.3" rx="0.95" ry="0.95" fill="#5A3818"/><ellipse cx="936.0" cy="341.1" rx="0.95" ry="0.95" fill="#5A3818"/><ellipse cx="940.8" cy="340.8" rx="0.95" ry="0.95" fill="#5A3818"/></g>
<g transform="rotate(19 1044.9 343.0)"><path d="M1036.3,343.0 v1.6 a8.7,3.9 0 0 0 17.3,0 v-1.6Z" fill="#B07A3C" stroke="#2A1B10" stroke-width="0.9"/><ellipse cx="1044.9" cy="343.0" rx="8.7" ry="3.9" fill="#D09C55" stroke="#2A1B10" stroke-width="0.9"/><ellipse cx="1041.5" cy="341.7" rx="0.6" ry="0.36" fill="#5A3A1E"/><ellipse cx="1048.0" cy="341.5" rx="0.6" ry="0.36" fill="#5A3A1E"/><ellipse cx="1044.9" cy="343.2" rx="0.6" ry="0.36" fill="#5A3A1E"/><ellipse cx="1041.0" cy="344.6" rx="0.6" ry="0.36" fill="#5A3A1E"/><ellipse cx="1048.8" cy="344.4" rx="0.6" ry="0.36" fill="#5A3A1E"/></g>
<g transform="rotate(28 1028.2 345.3)"><ellipse cx="1028.2" cy="345.3" rx="7.5" ry="7.4" fill="#D09C55" stroke="#2A1B10" stroke-width="1.05"/><ellipse cx="1024.1" cy="343.1" rx="0.95" ry="0.95" fill="#5A3818"/><ellipse cx="1027.5" cy="340.9" rx="0.95" ry="0.95" fill="#5A3818"/><ellipse cx="1031.2" cy="342.0" rx="0.95" ry="0.95" fill="#5A3818"/><ellipse cx="1026.0" cy="344.9" rx="0.95" ry="0.95" fill="#5A3818"/><ellipse cx="1029.7" cy="344.9" rx="0.95" ry="0.95" fill="#5A3818"/><ellipse cx="1032.8" cy="346.0" rx="0.95" ry="0.95" fill="#5A3818"/><ellipse cx="1024.1" cy="347.9" rx="0.95" ry="0.95" fill="#5A3818"/><ellipse cx="1027.8" cy="348.6" rx="0.95" ry="0.95" fill="#5A3818"/><ellipse cx="1031.2" cy="349.0" rx="0.95" ry="0.95" fill="#5A3818"/></g>
<g transform="rotate(-18 988.2 346.3)"><path d="M981.8,346.3 v1.6 a6.4,2.9 0 0 0 12.7,0 v-1.6Z" fill="#B07A3C" stroke="#2A1B10" stroke-width="0.9"/><ellipse cx="988.2" cy="346.3" rx="6.4" ry="2.9" fill="#CC9852" stroke="#2A1B10" stroke-width="0.9"/><ellipse cx="985.7" cy="345.3" rx="0.6" ry="0.36" fill="#5A3A1E"/><ellipse cx="990.4" cy="345.1" rx="0.6" ry="0.36" fill="#5A3A1E"/><ellipse cx="988.2" cy="346.4" rx="0.6" ry="0.36" fill="#5A3A1E"/><ellipse cx="985.3" cy="347.4" rx="0.6" ry="0.36" fill="#5A3A1E"/><ellipse cx="991.1" cy="347.3" rx="0.6" ry="0.36" fill="#5A3A1E"/></g>
<ellipse cx="973.1" cy="346.9" rx="6.9" ry="5.7" fill="#CC9852" stroke="#2A1B10" stroke-width="0.9"/><ellipse cx="973.1" cy="346.9" rx="4.7" ry="3.9" fill="none" stroke="#5A3A1C" stroke-width="0.7"/><ellipse cx="973.1" cy="346.9" rx="2.8" ry="2.3" fill="none" stroke="#5A3A1C" stroke-width="0.7"/>
<g transform="rotate(29 1047.8 347.0)"><ellipse cx="1047.8" cy="347.0" rx="8.0" ry="8.0" fill="#D09C55" stroke="#2A1B10" stroke-width="1.05"/><ellipse cx="1044.7" cy="344.2" rx="0.95" ry="0.95" fill="#5A3818"/><ellipse cx="1050.6" cy="343.8" rx="0.95" ry="0.95" fill="#5A3818"/><ellipse cx="1047.8" cy="347.4" rx="0.95" ry="0.95" fill="#5A3818"/><ellipse cx="1044.3" cy="350.2" rx="0.95" ry="0.95" fill="#5A3818"/><ellipse cx="1051.4" cy="349.8" rx="0.95" ry="0.95" fill="#5A3818"/></g>
<ellipse cx="996.5" cy="347.6" rx="4.3" ry="3.2" fill="#D6A75F" stroke="#2A1B10" stroke-width="0.9"/><ellipse cx="996.5" cy="347.6" rx="2.9" ry="2.2" fill="none" stroke="#5A3A1C" stroke-width="0.7"/><ellipse cx="996.5" cy="347.6" rx="1.7" ry="1.3" fill="none" stroke="#5A3A1C" stroke-width="0.7"/>
<g transform="rotate(6 951.1 347.8)"><ellipse cx="951.1" cy="347.8" rx="8.0" ry="7.2" fill="#C48C48" stroke="#2A1B10" stroke-width="1.05"/><ellipse cx="947.1" cy="345.6" rx="0.95" ry="0.95" fill="#5A3818"/><ellipse cx="951.1" cy="343.8" rx="0.95" ry="0.95" fill="#5A3818"/><ellipse cx="955.1" cy="346.0" rx="0.95" ry="0.95" fill="#5A3818"/><ellipse cx="949.9" cy="347.8" rx="0.95" ry="0.95" fill="#5A3818"/><ellipse cx="953.5" cy="349.3" rx="0.95" ry="0.95" fill="#5A3818"/><ellipse cx="947.5" cy="350.7" rx="0.95" ry="0.95" fill="#5A3818"/><ellipse cx="951.9" cy="351.8" rx="0.95" ry="0.95" fill="#5A3818"/></g>
<g transform="rotate(-24 1059.4 348.7)"><rect x="1054.4" y="343.9" width="10.0" height="9.7" rx="1" fill="#DDB368" stroke="#2A1B10" stroke-width="1.05"/><circle cx="1056.9" cy="346.3" r="0.65" fill="#5A3818"/><circle cx="1056.9" cy="351.2" r="0.65" fill="#5A3818"/><circle cx="1061.9" cy="346.3" r="0.65" fill="#5A3818"/><circle cx="1061.9" cy="351.2" r="0.65" fill="#5A3818"/></g>
<g transform="rotate(-21 1047.9 349.0)"><rect x="1042.7" y="344.3" width="10.4" height="9.5" rx="1" fill="#D6A95E" stroke="#2A1B10" stroke-width="1.05"/><circle cx="1045.3" cy="346.6" r="0.65" fill="#5A3818"/><circle cx="1045.3" cy="351.4" r="0.65" fill="#5A3818"/><circle cx="1050.5" cy="346.6" r="0.65" fill="#5A3818"/><circle cx="1050.5" cy="351.4" r="0.65" fill="#5A3818"/></g>
<g transform="rotate(19 969.5 349.0)"><path d="M960.8,349.0 v1.6 a8.7,3.9 0 0 0 17.3,0 v-1.6Z" fill="#B07A3C" stroke="#2A1B10" stroke-width="0.9"/><ellipse cx="969.5" cy="349.0" rx="8.7" ry="3.9" fill="#CC9852" stroke="#2A1B10" stroke-width="0.9"/><ellipse cx="966.0" cy="347.7" rx="0.6" ry="0.36" fill="#5A3A1E"/><ellipse cx="972.5" cy="347.5" rx="0.6" ry="0.36" fill="#5A3A1E"/><ellipse cx="969.5" cy="349.2" rx="0.6" ry="0.36" fill="#5A3A1E"/><ellipse cx="965.6" cy="350.6" rx="0.6" ry="0.36" fill="#5A3A1E"/><ellipse cx="973.4" cy="350.4" rx="0.6" ry="0.36" fill="#5A3A1E"/></g>
<g transform="rotate(-29 1008.8 349.1)"><ellipse cx="1008.8" cy="349.1" rx="5.2" ry="3.9" fill="#D6A75F" stroke="#2A1B10" stroke-width="1.05"/><ellipse cx="1006.7" cy="347.7" rx="0.95" ry="0.86" fill="#5A3818"/><ellipse cx="1010.6" cy="347.6" rx="0.95" ry="0.86" fill="#5A3818"/><ellipse cx="1008.8" cy="349.3" rx="0.95" ry="0.86" fill="#5A3818"/><ellipse cx="1006.4" cy="350.7" rx="0.95" ry="0.86" fill="#5A3818"/><ellipse cx="1011.1" cy="350.5" rx="0.95" ry="0.86" fill="#5A3818"/></g>
<g transform="rotate(4 1007.4 351.5)"><path d="M999.7,351.5 v1.6 a7.8,3.5 0 0 0 15.5,0 v-1.6Z" fill="#B07A3C" stroke="#2A1B10" stroke-width="0.9"/><ellipse cx="1007.4" cy="351.5" rx="7.8" ry="3.5" fill="#C8924D" stroke="#2A1B10" stroke-width="0.9"/><ellipse cx="1004.3" cy="350.3" rx="0.6" ry="0.36" fill="#5A3A1E"/><ellipse cx="1010.1" cy="350.1" rx="0.6" ry="0.36" fill="#5A3A1E"/><ellipse cx="1007.4" cy="351.7" rx="0.6" ry="0.36" fill="#5A3A1E"/><ellipse cx="1003.9" cy="352.9" rx="0.6" ry="0.36" fill="#5A3A1E"/><ellipse cx="1010.9" cy="352.7" rx="0.6" ry="0.36" fill="#5A3A1E"/></g>
<g transform="rotate(-21 960.4 351.6)"><ellipse cx="960.4" cy="351.6" rx="8.4" ry="6.6" fill="#D9AC64" stroke="#2A1B10" stroke-width="1.05"/><ellipse cx="956.2" cy="349.6" rx="0.95" ry="0.89" fill="#5A3818"/><ellipse cx="960.4" cy="347.9" rx="0.95" ry="0.89" fill="#5A3818"/><ellipse cx="964.6" cy="349.9" rx="0.95" ry="0.89" fill="#5A3818"/><ellipse cx="959.2" cy="351.6" rx="0.95" ry="0.89" fill="#5A3818"/><ellipse cx="963.0" cy="352.9" rx="0.95" ry="0.89" fill="#5A3818"/><ellipse cx="956.7" cy="354.2" rx="0.95" ry="0.89" fill="#5A3818"/><ellipse cx="961.3" cy="355.2" rx="0.95" ry="0.89" fill="#5A3818"/></g>
<g transform="rotate(9 951.1 351.8)"><rect x="944.4" y="347.5" width="13.5" height="8.5" rx="1" fill="#DDB368" stroke="#2A1B10" stroke-width="1.05"/><circle cx="946.6" cy="349.0" r="0.65" fill="#5A3818"/><circle cx="946.6" cy="351.8" r="0.65" fill="#5A3818"/><circle cx="946.6" cy="354.7" r="0.65" fill="#5A3818"/><circle cx="951.1" cy="349.0" r="0.65" fill="#5A3818"/><circle cx="951.1" cy="351.8" r="0.65" fill="#5A3818"/><circle cx="951.1" cy="354.7" r="0.65" fill="#5A3818"/><circle cx="955.6" cy="349.0" r="0.65" fill="#5A3818"/><circle cx="955.6" cy="351.8" r="0.65" fill="#5A3818"/><circle cx="955.6" cy="354.7" r="0.65" fill="#5A3818"/></g>
<g transform="rotate(-11 948.7 352.3)"><ellipse cx="948.7" cy="352.3" rx="4.6" ry="3.8" fill="#C8924D" stroke="#2A1B10" stroke-width="1.05"/><ellipse cx="946.1" cy="351.2" rx="0.95" ry="0.93" fill="#5A3818"/><ellipse cx="948.2" cy="350.1" rx="0.95" ry="0.93" fill="#5A3818"/><ellipse cx="950.5" cy="350.6" rx="0.95" ry="0.93" fill="#5A3818"/><ellipse cx="947.3" cy="352.1" rx="0.95" ry="0.93" fill="#5A3818"/><ellipse cx="949.6" cy="352.1" rx="0.95" ry="0.93" fill="#5A3818"/><ellipse cx="951.5" cy="352.7" rx="0.95" ry="0.93" fill="#5A3818"/><ellipse cx="946.1" cy="353.7" rx="0.95" ry="0.93" fill="#5A3818"/><ellipse cx="948.4" cy="354.0" rx="0.95" ry="0.93" fill="#5A3818"/><ellipse cx="950.5" cy="354.2" rx="0.95" ry="0.93" fill="#5A3818"/></g>
<g transform="rotate(-8 975.4 352.4)"><rect x="969.5" y="348.0" width="11.7" height="8.7" rx="1" fill="#E0B870" stroke="#2A1B10" stroke-width="1.05"/><circle cx="971.5" cy="349.5" r="0.65" fill="#5A3818"/><circle cx="971.5" cy="352.4" r="0.65" fill="#5A3818"/><circle cx="971.5" cy="355.3" r="0.65" fill="#5A3818"/><circle cx="975.4" cy="349.5" r="0.65" fill="#5A3818"/><circle cx="975.4" cy="352.4" r="0.65" fill="#5A3818"/><circle cx="975.4" cy="355.3" r="0.65" fill="#5A3818"/><circle cx="979.3" cy="349.5" r="0.65" fill="#5A3818"/><circle cx="979.3" cy="352.4" r="0.65" fill="#5A3818"/><circle cx="979.3" cy="355.3" r="0.65" fill="#5A3818"/></g>
<ellipse cx="976.2" cy="353.0" rx="6.9" ry="5.2" fill="#C48C48" stroke="#2A1B10" stroke-width="0.9"/><ellipse cx="976.2" cy="353.0" rx="4.7" ry="3.5" fill="none" stroke="#5A3A1C" stroke-width="0.7"/><ellipse cx="976.2" cy="353.0" rx="2.8" ry="2.1" fill="none" stroke="#5A3A1C" stroke-width="0.7"/>
<g transform="rotate(25 1070.3 354.9)"><ellipse cx="1070.3" cy="354.9" rx="7.2" ry="7.0" fill="#D6A75F" stroke="#2A1B10" stroke-width="1.05"/><ellipse cx="1066.7" cy="352.8" rx="0.95" ry="0.95" fill="#5A3818"/><ellipse cx="1070.3" cy="351.1" rx="0.95" ry="0.95" fill="#5A3818"/><ellipse cx="1073.9" cy="353.2" rx="0.95" ry="0.95" fill="#5A3818"/><ellipse cx="1069.2" cy="354.9" rx="0.95" ry="0.95" fill="#5A3818"/><ellipse cx="1072.4" cy="356.3" rx="0.95" ry="0.95" fill="#5A3818"/><ellipse cx="1067.1" cy="357.7" rx="0.95" ry="0.95" fill="#5A3818"/><ellipse cx="1071.0" cy="358.8" rx="0.95" ry="0.95" fill="#5A3818"/></g>
<g transform="rotate(-21 1000.3 355.0)"><rect x="995.1" y="348.6" width="10.4" height="12.8" rx="1" fill="#D6A95E" stroke="#2A1B10" stroke-width="1.05"/><circle cx="997.7" cy="351.8" r="0.65" fill="#5A3818"/><circle cx="997.7" cy="358.2" r="0.65" fill="#5A3818"/><circle cx="1002.9" cy="351.8" r="0.65" fill="#5A3818"/><circle cx="1002.9" cy="358.2" r="0.65" fill="#5A3818"/></g>
<g><ellipse cx="956.9" cy="355.2" rx="7.3" ry="7.3" fill="#7A4C2A" stroke="#2A1B10" stroke-width="0.9"/><ellipse cx="954.0" cy="352.7" rx="0.7" ry="0.70" fill="#D8B078"/><ellipse cx="959.5" cy="352.3" rx="0.7" ry="0.70" fill="#D8B078"/><ellipse cx="956.9" cy="355.6" rx="0.7" ry="0.70" fill="#D8B078"/><ellipse cx="953.7" cy="358.1" rx="0.7" ry="0.70" fill="#D8B078"/><ellipse cx="960.2" cy="357.8" rx="0.7" ry="0.70" fill="#D8B078"/></g>
<ellipse cx="1117.5" cy="355.4" rx="5.4" ry="5.2" fill="#C48C48" stroke="#2A1B10" stroke-width="0.9"/><ellipse cx="1117.5" cy="355.4" rx="3.7" ry="3.6" fill="none" stroke="#5A3A1C" stroke-width="0.7"/><ellipse cx="1117.5" cy="355.4" rx="2.2" ry="2.1" fill="none" stroke="#5A3A1C" stroke-width="0.7"/>
<g transform="rotate(23 1100.3 356.5)"><rect x="1092.9" y="351.3" width="14.8" height="10.4" rx="1" fill="#DDB368" stroke="#2A1B10" stroke-width="1.05"/><circle cx="1095.4" cy="353.0" r="0.65" fill="#5A3818"/><circle cx="1095.4" cy="356.5" r="0.65" fill="#5A3818"/><circle cx="1095.4" cy="359.9" r="0.65" fill="#5A3818"/><circle cx="1100.3" cy="353.0" r="0.65" fill="#5A3818"/><circle cx="1100.3" cy="356.5" r="0.65" fill="#5A3818"/><circle cx="1100.3" cy="359.9" r="0.65" fill="#5A3818"/><circle cx="1105.3" cy="353.0" r="0.65" fill="#5A3818"/><circle cx="1105.3" cy="356.5" r="0.65" fill="#5A3818"/><circle cx="1105.3" cy="359.9" r="0.65" fill="#5A3818"/></g>
<g transform="rotate(7 1045.2 357.5)"><ellipse cx="1045.2" cy="357.5" rx="5.8" ry="5.3" fill="#D9AC64" stroke="#2A1B10" stroke-width="1.05"/><ellipse cx="1042.3" cy="355.9" rx="0.95" ry="0.95" fill="#5A3818"/><ellipse cx="1045.2" cy="354.6" rx="0.95" ry="0.95" fill="#5A3818"/><ellipse cx="1048.2" cy="356.2" rx="0.95" ry="0.95" fill="#5A3818"/><ellipse cx="1044.4" cy="357.5" rx="0.95" ry="0.95" fill="#5A3818"/><ellipse cx="1047.0" cy="358.6" rx="0.95" ry="0.95" fill="#5A3818"/><ellipse cx="1042.6" cy="359.6" rx="0.95" ry="0.95" fill="#5A3818"/><ellipse cx="1045.8" cy="360.4" rx="0.95" ry="0.95" fill="#5A3818"/></g>
<g transform="rotate(-9 1032.3 358.8)"><ellipse cx="1032.3" cy="358.8" rx="5.1" ry="4.2" fill="#D9AC64" stroke="#2A1B10" stroke-width="1.05"/><ellipse cx="1029.5" cy="357.5" rx="0.95" ry="0.94" fill="#5A3818"/><ellipse cx="1031.8" cy="356.3" rx="0.95" ry="0.94" fill="#5A3818"/><ellipse cx="1034.3" cy="356.9" rx="0.95" ry="0.94" fill="#5A3818"/><ellipse cx="1030.8" cy="358.6" rx="0.95" ry="0.94" fill="#5A3818"/><ellipse cx="1033.3" cy="358.6" rx="0.95" ry="0.94" fill="#5A3818"/><ellipse cx="1035.4" cy="359.2" rx="0.95" ry="0.94" fill="#5A3818"/><ellipse cx="1029.5" cy="360.3" rx="0.95" ry="0.94" fill="#5A3818"/><ellipse cx="1032.0" cy="360.7" rx="0.95" ry="0.94" fill="#5A3818"/><ellipse cx="1034.3" cy="360.9" rx="0.95" ry="0.94" fill="#5A3818"/></g>
<g transform="rotate(11 1051.8 359.1)"><ellipse cx="1051.8" cy="359.1" rx="7.7" ry="7.1" fill="#D6A75F" stroke="#2A1B10" stroke-width="1.05"/><ellipse cx="1048.0" cy="357.0" rx="0.95" ry="0.95" fill="#5A3818"/><ellipse cx="1051.8" cy="355.2" rx="0.95" ry="0.95" fill="#5A3818"/><ellipse cx="1055.6" cy="357.3" rx="0.95" ry="0.95" fill="#5A3818"/><ellipse cx="1050.6" cy="359.1" rx="0.95" ry="0.95" fill="#5A3818"/><ellipse cx="1054.1" cy="360.5" rx="0.95" ry="0.95" fill="#5A3818"/><ellipse cx="1048.3" cy="361.9" rx="0.95" ry="0.95" fill="#5A3818"/><ellipse cx="1052.6" cy="363.0" rx="0.95" ry="0.95" fill="#5A3818"/></g>
<g transform="rotate(25 1109.5 359.2)"><ellipse cx="1109.5" cy="359.2" rx="6.7" ry="6.6" fill="#C8924D" stroke="#2A1B10" stroke-width="1.05"/><ellipse cx="1106.8" cy="356.9" rx="0.95" ry="0.95" fill="#5A3818"/><ellipse cx="1111.8" cy="356.5" rx="0.95" ry="0.95" fill="#5A3818"/><ellipse cx="1109.5" cy="359.5" rx="0.95" ry="0.95" fill="#5A3818"/><ellipse cx="1106.4" cy="361.8" rx="0.95" ry="0.95" fill="#5A3818"/><ellipse cx="1112.5" cy="361.5" rx="0.95" ry="0.95" fill="#5A3818"/></g>
<ellipse cx="1050.6" cy="359.5" rx="7.3" ry="6.2" fill="#D6A75F" stroke="#2A1B10" stroke-width="0.9"/><ellipse cx="1050.6" cy="359.5" rx="5.0" ry="4.2" fill="none" stroke="#5A3A1C" stroke-width="0.7"/><ellipse cx="1050.6" cy="359.5" rx="2.9" ry="2.5" fill="none" stroke="#5A3A1C" stroke-width="0.7"/>
<g transform="rotate(-34 1116.3 361.6)"><rect x="1111.8" y="356.5" width="9.0" height="10.3" rx="1" fill="#DDB368" stroke="#2A1B10" stroke-width="1.05"/><circle cx="1114.1" cy="359.0" r="0.65" fill="#5A3818"/><circle cx="1114.1" cy="364.2" r="0.65" fill="#5A3818"/><circle cx="1118.6" cy="359.0" r="0.65" fill="#5A3818"/><circle cx="1118.6" cy="364.2" r="0.65" fill="#5A3818"/></g>
<g transform="rotate(-18 940.2 361.7)"><ellipse cx="940.2" cy="361.7" rx="8.2" ry="6.5" fill="#C48C48" stroke="#2A1B10" stroke-width="1.05"/><ellipse cx="937.0" cy="359.4" rx="0.95" ry="0.90" fill="#5A3818"/><ellipse cx="943.1" cy="359.0" rx="0.95" ry="0.90" fill="#5A3818"/><ellipse cx="940.2" cy="362.0" rx="0.95" ry="0.90" fill="#5A3818"/><ellipse cx="936.6" cy="364.3" rx="0.95" ry="0.90" fill="#5A3818"/><ellipse cx="943.9" cy="363.9" rx="0.95" ry="0.90" fill="#5A3818"/></g>
<g transform="rotate(3 965.8 361.7)"><rect x="959.4" y="356.7" width="12.9" height="10.0" rx="1" fill="#D6A95E" stroke="#2A1B10" stroke-width="1.05"/><circle cx="961.5" cy="358.3" r="0.65" fill="#5A3818"/><circle cx="961.5" cy="361.7" r="0.65" fill="#5A3818"/><circle cx="961.5" cy="365.0" r="0.65" fill="#5A3818"/><circle cx="965.8" cy="358.3" r="0.65" fill="#5A3818"/><circle cx="965.8" cy="361.7" r="0.65" fill="#5A3818"/><circle cx="965.8" cy="365.0" r="0.65" fill="#5A3818"/><circle cx="970.1" cy="358.3" r="0.65" fill="#5A3818"/><circle cx="970.1" cy="361.7" r="0.65" fill="#5A3818"/><circle cx="970.1" cy="365.0" r="0.65" fill="#5A3818"/></g>
<g transform="rotate(-20 1009.4 361.8)"><rect x="1004.2" y="356.3" width="10.4" height="11.0" rx="1" fill="#E0B870" stroke="#2A1B10" stroke-width="1.05"/><circle cx="1006.8" cy="359.0" r="0.65" fill="#5A3818"/><circle cx="1006.8" cy="364.6" r="0.65" fill="#5A3818"/><circle cx="1012.0" cy="359.0" r="0.65" fill="#5A3818"/><circle cx="1012.0" cy="364.6" r="0.65" fill="#5A3818"/></g>
<ellipse cx="951.3" cy="361.8" rx="6.9" ry="6.8" fill="#CC9852" stroke="#2A1B10" stroke-width="0.9"/><ellipse cx="951.3" cy="361.8" rx="4.7" ry="4.6" fill="none" stroke="#5A3A1C" stroke-width="0.7"/><ellipse cx="951.3" cy="361.8" rx="2.8" ry="2.7" fill="none" stroke="#5A3A1C" stroke-width="0.7"/>
<g transform="rotate(-9 1026.9 363.0)"><ellipse cx="1026.9" cy="363.0" rx="4.9" ry="4.1" fill="#C8924D" stroke="#2A1B10" stroke-width="1.05"/><ellipse cx="1024.5" cy="361.7" rx="0.95" ry="0.94" fill="#5A3818"/><ellipse cx="1026.9" cy="360.7" rx="0.95" ry="0.94" fill="#5A3818"/><ellipse cx="1029.4" cy="361.9" rx="0.95" ry="0.94" fill="#5A3818"/><ellipse cx="1026.2" cy="363.0" rx="0.95" ry="0.94" fill="#5A3818"/><ellipse cx="1028.4" cy="363.8" rx="0.95" ry="0.94" fill="#5A3818"/><ellipse cx="1024.7" cy="364.6" rx="0.95" ry="0.94" fill="#5A3818"/><ellipse cx="1027.4" cy="365.2" rx="0.95" ry="0.94" fill="#5A3818"/></g>
<g transform="rotate(16 1012.8 363.4)"><path d="M1004.3,363.4 v1.6 a8.5,3.8 0 0 0 17.0,0 v-1.6Z" fill="#B07A3C" stroke="#2A1B10" stroke-width="0.9"/><ellipse cx="1012.8" cy="363.4" rx="8.5" ry="3.8" fill="#D6A75F" stroke="#2A1B10" stroke-width="0.9"/><ellipse cx="1009.4" cy="362.1" rx="0.6" ry="0.36" fill="#5A3A1E"/><ellipse cx="1015.8" cy="361.9" rx="0.6" ry="0.36" fill="#5A3A1E"/><ellipse cx="1012.8" cy="363.6" rx="0.6" ry="0.36" fill="#5A3A1E"/><ellipse cx="1009.0" cy="364.9" rx="0.6" ry="0.36" fill="#5A3A1E"/><ellipse cx="1016.7" cy="364.7" rx="0.6" ry="0.36" fill="#5A3A1E"/></g>
<g transform="rotate(15 961.6 363.6)"><ellipse cx="961.6" cy="363.6" rx="7.2" ry="6.8" fill="#C8924D" stroke="#2A1B10" stroke-width="1.05"/><ellipse cx="958.7" cy="361.2" rx="0.95" ry="0.95" fill="#5A3818"/><ellipse cx="964.1" cy="360.9" rx="0.95" ry="0.95" fill="#5A3818"/><ellipse cx="961.6" cy="363.9" rx="0.95" ry="0.95" fill="#5A3818"/><ellipse cx="958.4" cy="366.3" rx="0.95" ry="0.95" fill="#5A3818"/><ellipse cx="964.8" cy="366.0" rx="0.95" ry="0.95" fill="#5A3818"/></g>
<g><ellipse cx="1019.4" cy="364.2" rx="4.7" ry="4.7" fill="#7A4C2A" stroke="#2A1B10" stroke-width="0.9"/><ellipse cx="1017.5" cy="362.5" rx="0.7" ry="0.70" fill="#D8B078"/><ellipse cx="1021.1" cy="362.3" rx="0.7" ry="0.70" fill="#D8B078"/><ellipse cx="1019.4" cy="364.4" rx="0.7" ry="0.70" fill="#D8B078"/><ellipse cx="1017.3" cy="366.1" rx="0.7" ry="0.70" fill="#D8B078"/><ellipse cx="1021.6" cy="365.8" rx="0.7" ry="0.70" fill="#D8B078"/></g>
<g transform="rotate(11 1133.0 364.2)"><ellipse cx="1133.0" cy="364.2" rx="6.4" ry="5.9" fill="#D9AC64" stroke="#2A1B10" stroke-width="1.05"/><ellipse cx="1130.4" cy="362.2" rx="0.95" ry="0.95" fill="#5A3818"/><ellipse cx="1135.2" cy="361.9" rx="0.95" ry="0.95" fill="#5A3818"/><ellipse cx="1133.0" cy="364.5" rx="0.95" ry="0.95" fill="#5A3818"/><ellipse cx="1130.1" cy="366.6" rx="0.95" ry="0.95" fill="#5A3818"/><ellipse cx="1135.8" cy="366.3" rx="0.95" ry="0.95" fill="#5A3818"/></g>
<g transform="rotate(-3 950.1 364.8)"><rect x="944.0" y="360.1" width="12.1" height="9.4" rx="1" fill="#D6A95E" stroke="#2A1B10" stroke-width="1.05"/><circle cx="946.0" cy="361.7" r="0.65" fill="#5A3818"/><circle cx="946.0" cy="364.8" r="0.65" fill="#5A3818"/><circle cx="946.0" cy="367.9" r="0.65" fill="#5A3818"/><circle cx="950.1" cy="361.7" r="0.65" fill="#5A3818"/><circle cx="950.1" cy="364.8" r="0.65" fill="#5A3818"/><circle cx="950.1" cy="367.9" r="0.65" fill="#5A3818"/><circle cx="954.1" cy="361.7" r="0.65" fill="#5A3818"/><circle cx="954.1" cy="364.8" r="0.65" fill="#5A3818"/><circle cx="954.1" cy="367.9" r="0.65" fill="#5A3818"/></g>
<g transform="rotate(11 1085.6 365.4)"><rect x="1078.8" y="361.2" width="13.6" height="8.4" rx="1" fill="#E0B870" stroke="#2A1B10" stroke-width="1.05"/><circle cx="1081.1" cy="362.6" r="0.65" fill="#5A3818"/><circle cx="1081.1" cy="365.4" r="0.65" fill="#5A3818"/><circle cx="1081.1" cy="368.2" r="0.65" fill="#5A3818"/><circle cx="1085.6" cy="362.6" r="0.65" fill="#5A3818"/><circle cx="1085.6" cy="365.4" r="0.65" fill="#5A3818"/><circle cx="1085.6" cy="368.2" r="0.65" fill="#5A3818"/><circle cx="1090.2" cy="362.6" r="0.65" fill="#5A3818"/><circle cx="1090.2" cy="365.4" r="0.65" fill="#5A3818"/><circle cx="1090.2" cy="368.2" r="0.65" fill="#5A3818"/></g>
<ellipse cx="1038.9" cy="365.6" rx="6.8" ry="6.5" fill="#C48C48" stroke="#2A1B10" stroke-width="0.9"/><ellipse cx="1038.9" cy="365.6" rx="4.6" ry="4.4" fill="none" stroke="#5A3A1C" stroke-width="0.7"/><ellipse cx="1038.9" cy="365.6" rx="2.7" ry="2.6" fill="none" stroke="#5A3A1C" stroke-width="0.7"/>
<g transform="rotate(-11 1083.7 365.6)"><ellipse cx="1083.7" cy="365.6" rx="8.4" ry="6.9" fill="#D9AC64" stroke="#2A1B10" stroke-width="1.05"/><ellipse cx="1079.1" cy="363.5" rx="0.95" ry="0.93" fill="#5A3818"/><ellipse cx="1082.9" cy="361.5" rx="0.95" ry="0.93" fill="#5A3818"/><ellipse cx="1087.1" cy="362.5" rx="0.95" ry="0.93" fill="#5A3818"/><ellipse cx="1081.2" cy="365.3" rx="0.95" ry="0.93" fill="#5A3818"/><ellipse cx="1085.4" cy="365.3" rx="0.95" ry="0.93" fill="#5A3818"/><ellipse cx="1088.9" cy="366.3" rx="0.95" ry="0.93" fill="#5A3818"/><ellipse cx="1079.1" cy="368.0" rx="0.95" ry="0.93" fill="#5A3818"/><ellipse cx="1083.3" cy="368.7" rx="0.95" ry="0.93" fill="#5A3818"/><ellipse cx="1087.1" cy="369.1" rx="0.95" ry="0.93" fill="#5A3818"/></g>
<g transform="rotate(-10 1019.8 367.0)"><ellipse cx="1019.8" cy="367.0" rx="5.3" ry="4.4" fill="#D9AC64" stroke="#2A1B10" stroke-width="1.05"/><ellipse cx="1016.9" cy="365.7" rx="0.95" ry="0.93" fill="#5A3818"/><ellipse cx="1019.2" cy="364.3" rx="0.95" ry="0.93" fill="#5A3818"/><ellipse cx="1021.9" cy="365.0" rx="0.95" ry="0.93" fill="#5A3818"/><ellipse cx="1018.2" cy="366.7" rx="0.95" ry="0.93" fill="#5A3818"/><ellipse cx="1020.8" cy="366.7" rx="0.95" ry="0.93" fill="#5A3818"/><ellipse cx="1023.0" cy="367.4" rx="0.95" ry="0.93" fill="#5A3818"/><ellipse cx="1016.9" cy="368.5" rx="0.95" ry="0.93" fill="#5A3818"/><ellipse cx="1019.5" cy="368.9" rx="0.95" ry="0.93" fill="#5A3818"/><ellipse cx="1021.9" cy="369.2" rx="0.95" ry="0.93" fill="#5A3818"/></g>
<g transform="rotate(-2 990.5 367.1)"><rect x="984.4" y="362.7" width="12.3" height="8.7" rx="1" fill="#DDB368" stroke="#2A1B10" stroke-width="1.05"/><circle cx="986.4" cy="364.2" r="0.65" fill="#5A3818"/><circle cx="986.4" cy="367.1" r="0.65" fill="#5A3818"/><circle cx="986.4" cy="370.0" r="0.65" fill="#5A3818"/><circle cx="990.5" cy="364.2" r="0.65" fill="#5A3818"/><circle cx="990.5" cy="367.1" r="0.65" fill="#5A3818"/><circle cx="990.5" cy="370.0" r="0.65" fill="#5A3818"/><circle cx="994.6" cy="364.2" r="0.65" fill="#5A3818"/><circle cx="994.6" cy="367.1" r="0.65" fill="#5A3818"/><circle cx="994.6" cy="370.0" r="0.65" fill="#5A3818"/></g>
<g transform="rotate(-19 1040.6 368.0)"><ellipse cx="1040.6" cy="368.0" rx="6.3" ry="5.0" fill="#C8924D" stroke="#2A1B10" stroke-width="1.05"/><ellipse cx="1037.2" cy="366.5" rx="0.95" ry="0.90" fill="#5A3818"/><ellipse cx="1040.0" cy="365.0" rx="0.95" ry="0.90" fill="#5A3818"/><ellipse cx="1043.1" cy="365.7" rx="0.95" ry="0.90" fill="#5A3818"/><ellipse cx="1038.7" cy="367.7" rx="0.95" ry="0.90" fill="#5A3818"/><ellipse cx="1041.9" cy="367.7" rx="0.95" ry="0.90" fill="#5A3818"/><ellipse cx="1044.5" cy="368.5" rx="0.95" ry="0.90" fill="#5A3818"/><ellipse cx="1037.2" cy="369.7" rx="0.95" ry="0.90" fill="#5A3818"/><ellipse cx="1040.3" cy="370.2" rx="0.95" ry="0.90" fill="#5A3818"/><ellipse cx="1043.1" cy="370.5" rx="0.95" ry="0.90" fill="#5A3818"/></g>
<g transform="rotate(-26 1016.1 368.0)"><ellipse cx="1016.1" cy="368.0" rx="5.9" ry="4.5" fill="#CC9852" stroke="#2A1B10" stroke-width="1.05"/><ellipse cx="1013.2" cy="366.7" rx="0.95" ry="0.87" fill="#5A3818"/><ellipse cx="1016.1" cy="365.6" rx="0.95" ry="0.87" fill="#5A3818"/><ellipse cx="1019.0" cy="366.9" rx="0.95" ry="0.87" fill="#5A3818"/><ellipse cx="1015.2" cy="368.0" rx="0.95" ry="0.87" fill="#5A3818"/><ellipse cx="1017.8" cy="368.9" rx="0.95" ry="0.87" fill="#5A3818"/><ellipse cx="1013.5" cy="369.8" rx="0.95" ry="0.87" fill="#5A3818"/><ellipse cx="1016.7" cy="370.5" rx="0.95" ry="0.87" fill="#5A3818"/></g>
<g transform="rotate(-3 1065.1 368.3)"><path d="M1057.8,368.3 v1.6 a7.3,3.3 0 0 0 14.6,0 v-1.6Z" fill="#B07A3C" stroke="#2A1B10" stroke-width="0.9"/><ellipse cx="1065.1" cy="368.3" rx="7.3" ry="3.3" fill="#CC9852" stroke="#2A1B10" stroke-width="0.9"/><ellipse cx="1062.2" cy="367.2" rx="0.6" ry="0.36" fill="#5A3A1E"/><ellipse cx="1067.7" cy="367.0" rx="0.6" ry="0.36" fill="#5A3A1E"/><ellipse cx="1065.1" cy="368.5" rx="0.6" ry="0.36" fill="#5A3A1E"/><ellipse cx="1061.8" cy="369.7" rx="0.6" ry="0.36" fill="#5A3A1E"/><ellipse cx="1068.4" cy="369.5" rx="0.6" ry="0.36" fill="#5A3A1E"/></g>
<g transform="rotate(28 1002.9 371.1)"><ellipse cx="1002.9" cy="371.1" rx="4.6" ry="4.5" fill="#C8924D" stroke="#2A1B10" stroke-width="1.05"/><ellipse cx="1000.6" cy="369.8" rx="0.95" ry="0.95" fill="#5A3818"/><ellipse cx="1002.9" cy="368.6" rx="0.95" ry="0.95" fill="#5A3818"/><ellipse cx="1005.2" cy="370.0" rx="0.95" ry="0.95" fill="#5A3818"/><ellipse cx="1002.2" cy="371.1" rx="0.95" ry="0.95" fill="#5A3818"/><ellipse cx="1004.3" cy="372.0" rx="0.95" ry="0.95" fill="#5A3818"/><ellipse cx="1000.8" cy="372.9" rx="0.95" ry="0.95" fill="#5A3818"/><ellipse cx="1003.3" cy="373.6" rx="0.95" ry="0.95" fill="#5A3818"/></g>
<ellipse cx="1037.8" cy="372.0" rx="4.4" ry="3.8" fill="#C48C48" stroke="#2A1B10" stroke-width="0.9"/><ellipse cx="1037.8" cy="372.0" rx="3.0" ry="2.6" fill="none" stroke="#5A3A1C" stroke-width="0.7"/><ellipse cx="1037.8" cy="372.0" rx="1.7" ry="1.5" fill="none" stroke="#5A3A1C" stroke-width="0.7"/>
<g transform="rotate(9 1006.8 373.4)"><path d="M998.7,373.4 v1.6 a8.1,3.6 0 0 0 16.1,0 v-1.6Z" fill="#B07A3C" stroke="#2A1B10" stroke-width="0.9"/><ellipse cx="1006.8" cy="373.4" rx="8.1" ry="3.6" fill="#C8924D" stroke="#2A1B10" stroke-width="0.9"/><ellipse cx="1003.6" cy="372.1" rx="0.6" ry="0.36" fill="#5A3A1E"/><ellipse cx="1009.6" cy="371.9" rx="0.6" ry="0.36" fill="#5A3A1E"/><ellipse cx="1006.8" cy="373.5" rx="0.6" ry="0.36" fill="#5A3A1E"/><ellipse cx="1003.2" cy="374.8" rx="0.6" ry="0.36" fill="#5A3A1E"/><ellipse cx="1010.4" cy="374.6" rx="0.6" ry="0.36" fill="#5A3A1E"/></g>
<g><ellipse cx="983.7" cy="373.8" rx="7.0" ry="7.0" fill="#7A4C2A" stroke="#2A1B10" stroke-width="0.9"/><ellipse cx="980.9" cy="371.3" rx="0.7" ry="0.70" fill="#D8B078"/><ellipse cx="986.2" cy="371.0" rx="0.7" ry="0.70" fill="#D8B078"/><ellipse cx="983.7" cy="374.1" rx="0.7" ry="0.70" fill="#D8B078"/><ellipse cx="980.6" cy="376.6" rx="0.7" ry="0.70" fill="#D8B078"/><ellipse cx="986.9" cy="376.2" rx="0.7" ry="0.70" fill="#D8B078"/></g>
<g transform="rotate(26 980.8 374.4)"><rect x="973.2" y="368.2" width="15.1" height="12.4" rx="1" fill="#D6A95E" stroke="#2A1B10" stroke-width="1.05"/><circle cx="975.7" cy="370.3" r="0.65" fill="#5A3818"/><circle cx="975.7" cy="374.4" r="0.65" fill="#5A3818"/><circle cx="975.7" cy="378.5" r="0.65" fill="#5A3818"/><circle cx="980.8" cy="370.3" r="0.65" fill="#5A3818"/><circle cx="980.8" cy="374.4" r="0.65" fill="#5A3818"/><circle cx="980.8" cy="378.5" r="0.65" fill="#5A3818"/><circle cx="985.8" cy="370.3" r="0.65" fill="#5A3818"/><circle cx="985.8" cy="374.4" r="0.65" fill="#5A3818"/><circle cx="985.8" cy="378.5" r="0.65" fill="#5A3818"/></g>
<g transform="rotate(6 1039.1 375.4)"><ellipse cx="1039.1" cy="375.4" rx="5.4" ry="4.9" fill="#D6A75F" stroke="#2A1B10" stroke-width="1.05"/><ellipse cx="1036.4" cy="374.0" rx="0.95" ry="0.95" fill="#5A3818"/><ellipse cx="1039.1" cy="372.8" rx="0.95" ry="0.95" fill="#5A3818"/><ellipse cx="1041.8" cy="374.2" rx="0.95" ry="0.95" fill="#5A3818"/><ellipse cx="1038.3" cy="375.4" rx="0.95" ry="0.95" fill="#5A3818"/><ellipse cx="1040.7" cy="376.4" rx="0.95" ry="0.95" fill="#5A3818"/><ellipse cx="1036.7" cy="377.4" rx="0.95" ry="0.95" fill="#5A3818"/><ellipse cx="1039.6" cy="378.1" rx="0.95" ry="0.95" fill="#5A3818"/></g>
<g transform="rotate(17 978.4 375.8)"><rect x="971.3" y="369.8" width="14.3" height="11.9" rx="1" fill="#E0B870" stroke="#2A1B10" stroke-width="1.05"/><circle cx="973.7" cy="371.8" r="0.65" fill="#5A3818"/><circle cx="973.7" cy="375.8" r="0.65" fill="#5A3818"/><circle cx="973.7" cy="379.8" r="0.65" fill="#5A3818"/><circle cx="978.4" cy="371.8" r="0.65" fill="#5A3818"/><circle cx="978.4" cy="375.8" r="0.65" fill="#5A3818"/><circle cx="978.4" cy="379.8" r="0.65" fill="#5A3818"/><circle cx="983.2" cy="371.8" r="0.65" fill="#5A3818"/><circle cx="983.2" cy="375.8" r="0.65" fill="#5A3818"/><circle cx="983.2" cy="379.8" r="0.65" fill="#5A3818"/></g>
<g transform="rotate(-29 1089.5 379.7)"><rect x="1084.8" y="375.3" width="9.5" height="8.9" rx="1" fill="#DDB368" stroke="#2A1B10" stroke-width="1.05"/><circle cx="1087.1" cy="377.5" r="0.65" fill="#5A3818"/><circle cx="1087.1" cy="382.0" r="0.65" fill="#5A3818"/><circle cx="1091.9" cy="377.5" r="0.65" fill="#5A3818"/><circle cx="1091.9" cy="382.0" r="0.65" fill="#5A3818"/></g>
<g transform="rotate(17 1016.7 380.2)"><rect x="1009.6" y="373.6" width="14.2" height="13.1" rx="1" fill="#E0B870" stroke="#2A1B10" stroke-width="1.05"/><circle cx="1012.0" cy="375.8" r="0.65" fill="#5A3818"/><circle cx="1012.0" cy="380.2" r="0.65" fill="#5A3818"/><circle cx="1012.0" cy="384.5" r="0.65" fill="#5A3818"/><circle cx="1016.7" cy="375.8" r="0.65" fill="#5A3818"/><circle cx="1016.7" cy="380.2" r="0.65" fill="#5A3818"/><circle cx="1016.7" cy="384.5" r="0.65" fill="#5A3818"/><circle cx="1021.4" cy="375.8" r="0.65" fill="#5A3818"/><circle cx="1021.4" cy="380.2" r="0.65" fill="#5A3818"/><circle cx="1021.4" cy="384.5" r="0.65" fill="#5A3818"/></g>
<ellipse cx="1118.1" cy="380.2" rx="4.6" ry="4.3" fill="#D6A75F" stroke="#2A1B10" stroke-width="0.9"/><ellipse cx="1118.1" cy="380.2" rx="3.1" ry="2.9" fill="none" stroke="#5A3A1C" stroke-width="0.7"/><ellipse cx="1118.1" cy="380.2" rx="1.8" ry="1.7" fill="none" stroke="#5A3A1C" stroke-width="0.7"/>
<g transform="rotate(21 1115.5 381.0)"><rect x="1108.2" y="376.6" width="14.7" height="8.8" rx="1" fill="#DDB368" stroke="#2A1B10" stroke-width="1.05"/><circle cx="1110.6" cy="378.1" r="0.65" fill="#5A3818"/><circle cx="1110.6" cy="381.0" r="0.65" fill="#5A3818"/><circle cx="1110.6" cy="384.0" r="0.65" fill="#5A3818"/><circle cx="1115.5" cy="378.1" r="0.65" fill="#5A3818"/><circle cx="1115.5" cy="381.0" r="0.65" fill="#5A3818"/><circle cx="1115.5" cy="384.0" r="0.65" fill="#5A3818"/><circle cx="1120.4" cy="378.1" r="0.65" fill="#5A3818"/><circle cx="1120.4" cy="381.0" r="0.65" fill="#5A3818"/><circle cx="1120.4" cy="384.0" r="0.65" fill="#5A3818"/></g>
<g transform="rotate(-23 1120.6 381.9)"><path d="M1114.6,381.9 v1.6 a6.1,2.7 0 0 0 12.1,0 v-1.6Z" fill="#B07A3C" stroke="#2A1B10" stroke-width="0.9"/><ellipse cx="1120.6" cy="381.9" rx="6.1" ry="2.7" fill="#D9AC64" stroke="#2A1B10" stroke-width="0.9"/><ellipse cx="1118.2" cy="380.9" rx="0.6" ry="0.36" fill="#5A3A1E"/><ellipse cx="1122.7" cy="380.8" rx="0.6" ry="0.36" fill="#5A3A1E"/><ellipse cx="1120.6" cy="382.0" rx="0.6" ry="0.36" fill="#5A3A1E"/><ellipse cx="1117.9" cy="383.0" rx="0.6" ry="0.36" fill="#5A3A1E"/><ellipse cx="1123.4" cy="382.8" rx="0.6" ry="0.36" fill="#5A3A1E"/></g>
<g transform="rotate(-26 1077.0 382.1)"><ellipse cx="1077.0" cy="382.1" rx="5.9" ry="4.5" fill="#CC9852" stroke="#2A1B10" stroke-width="1.05"/><ellipse cx="1074.6" cy="380.6" rx="0.95" ry="0.87" fill="#5A3818"/><ellipse cx="1079.1" cy="380.3" rx="0.95" ry="0.87" fill="#5A3818"/><ellipse cx="1077.0" cy="382.4" rx="0.95" ry="0.87" fill="#5A3818"/><ellipse cx="1074.3" cy="383.9" rx="0.95" ry="0.87" fill="#5A3818"/><ellipse cx="1079.6" cy="383.7" rx="0.95" ry="0.87" fill="#5A3818"/></g>
<g transform="rotate(-27 982.4 382.2)"><rect x="977.5" y="378.0" width="9.8" height="8.4" rx="1" fill="#E0B870" stroke="#2A1B10" stroke-width="1.05"/><circle cx="979.9" cy="380.1" r="0.65" fill="#5A3818"/><circle cx="979.9" cy="384.3" r="0.65" fill="#5A3818"/><circle cx="984.8" cy="380.1" r="0.65" fill="#5A3818"/><circle cx="984.8" cy="384.3" r="0.65" fill="#5A3818"/></g>
<g transform="rotate(-26 1051.0 382.5)"><ellipse cx="1051.0" cy="382.5" rx="6.7" ry="5.1" fill="#D9AC64" stroke="#2A1B10" stroke-width="1.05"/><ellipse cx="1047.6" cy="381.0" rx="0.95" ry="0.87" fill="#5A3818"/><ellipse cx="1051.0" cy="379.7" rx="0.95" ry="0.87" fill="#5A3818"/><ellipse cx="1054.3" cy="381.2" rx="0.95" ry="0.87" fill="#5A3818"/><ellipse cx="1050.0" cy="382.5" rx="0.95" ry="0.87" fill="#5A3818"/><ellipse cx="1053.0" cy="383.5" rx="0.95" ry="0.87" fill="#5A3818"/><ellipse cx="1048.0" cy="384.6" rx="0.95" ry="0.87" fill="#5A3818"/><ellipse cx="1051.6" cy="385.3" rx="0.95" ry="0.87" fill="#5A3818"/></g>
<g transform="rotate(16 1075.9 383.5)"><path d="M1067.4,383.5 v1.6 a8.5,3.8 0 0 0 16.9,0 v-1.6Z" fill="#B07A3C" stroke="#2A1B10" stroke-width="0.9"/><ellipse cx="1075.9" cy="383.5" rx="8.5" ry="3.8" fill="#C8924D" stroke="#2A1B10" stroke-width="0.9"/><ellipse cx="1072.5" cy="382.2" rx="0.6" ry="0.36" fill="#5A3A1E"/><ellipse cx="1078.9" cy="382.0" rx="0.6" ry="0.36" fill="#5A3A1E"/><ellipse cx="1075.9" cy="383.7" rx="0.6" ry="0.36" fill="#5A3A1E"/><ellipse cx="1072.1" cy="385.1" rx="0.6" ry="0.36" fill="#5A3A1E"/><ellipse cx="1079.7" cy="384.9" rx="0.6" ry="0.36" fill="#5A3A1E"/></g>
<ellipse cx="1080.1" cy="383.6" rx="5.6" ry="4.8" fill="#CC9852" stroke="#2A1B10" stroke-width="0.9"/><ellipse cx="1080.1" cy="383.6" rx="3.8" ry="3.3" fill="none" stroke="#5A3A1C" stroke-width="0.7"/><ellipse cx="1080.1" cy="383.6" rx="2.2" ry="1.9" fill="none" stroke="#5A3A1C" stroke-width="0.7"/>
<g transform="rotate(-6 984.1 384.7)"><ellipse cx="984.1" cy="384.7" rx="6.7" ry="5.7" fill="#D9AC64" stroke="#2A1B10" stroke-width="1.05"/><ellipse cx="980.4" cy="382.9" rx="0.95" ry="0.95" fill="#5A3818"/><ellipse cx="983.4" cy="381.2" rx="0.95" ry="0.95" fill="#5A3818"/><ellipse cx="986.8" cy="382.1" rx="0.95" ry="0.95" fill="#5A3818"/><ellipse cx="982.1" cy="384.4" rx="0.95" ry="0.95" fill="#5A3818"/><ellipse cx="985.5" cy="384.4" rx="0.95" ry="0.95" fill="#5A3818"/><ellipse cx="988.3" cy="385.2" rx="0.95" ry="0.95" fill="#5A3818"/><ellipse cx="980.4" cy="386.7" rx="0.95" ry="0.95" fill="#5A3818"/><ellipse cx="983.8" cy="387.2" rx="0.95" ry="0.95" fill="#5A3818"/><ellipse cx="986.8" cy="387.5" rx="0.95" ry="0.95" fill="#5A3818"/></g>
<g><ellipse cx="947.6" cy="385.2" rx="7.1" ry="7.1" fill="#7A4C2A" stroke="#2A1B10" stroke-width="0.9"/><ellipse cx="944.8" cy="382.7" rx="0.7" ry="0.70" fill="#D8B078"/><ellipse cx="950.1" cy="382.4" rx="0.7" ry="0.70" fill="#D8B078"/><ellipse cx="947.6" cy="385.6" rx="0.7" ry="0.70" fill="#D8B078"/><ellipse cx="944.4" cy="388.1" rx="0.7" ry="0.70" fill="#D8B078"/><ellipse cx="950.8" cy="387.7" rx="0.7" ry="0.70" fill="#D8B078"/></g>
<g transform="rotate(-19 1010.2 386.3)"><ellipse cx="1010.2" cy="386.3" rx="6.3" ry="5.0" fill="#C8924D" stroke="#2A1B10" stroke-width="1.05"/><ellipse cx="1006.8" cy="384.7" rx="0.95" ry="0.89" fill="#5A3818"/><ellipse cx="1009.6" cy="383.2" rx="0.95" ry="0.89" fill="#5A3818"/><ellipse cx="1012.8" cy="384.0" rx="0.95" ry="0.89" fill="#5A3818"/><ellipse cx="1008.3" cy="386.0" rx="0.95" ry="0.89" fill="#5A3818"/><ellipse cx="1011.5" cy="386.0" rx="0.95" ry="0.89" fill="#5A3818"/><ellipse cx="1014.2" cy="386.8" rx="0.95" ry="0.89" fill="#5A3818"/><ellipse cx="1006.8" cy="388.0" rx="0.95" ry="0.89" fill="#5A3818"/><ellipse cx="1009.9" cy="388.5" rx="0.95" ry="0.89" fill="#5A3818"/><ellipse cx="1012.8" cy="388.8" rx="0.95" ry="0.89" fill="#5A3818"/></g>
<g transform="rotate(16 1058.5 387.2)"><ellipse cx="1058.5" cy="387.2" rx="8.1" ry="7.7" fill="#D09C55" stroke="#2A1B10" stroke-width="1.05"/><ellipse cx="1054.0" cy="384.9" rx="0.95" ry="0.95" fill="#5A3818"/><ellipse cx="1057.6" cy="382.6" rx="0.95" ry="0.95" fill="#5A3818"/><ellipse cx="1061.7" cy="383.8" rx="0.95" ry="0.95" fill="#5A3818"/><ellipse cx="1056.0" cy="386.8" rx="0.95" ry="0.95" fill="#5A3818"/><ellipse cx="1060.1" cy="386.8" rx="0.95" ry="0.95" fill="#5A3818"/><ellipse cx="1063.5" cy="388.0" rx="0.95" ry="0.95" fill="#5A3818"/><ellipse cx="1054.0" cy="389.9" rx="0.95" ry="0.95" fill="#5A3818"/><ellipse cx="1058.1" cy="390.6" rx="0.95" ry="0.95" fill="#5A3818"/><ellipse cx="1061.7" cy="391.0" rx="0.95" ry="0.95" fill="#5A3818"/></g>
<g transform="rotate(-34 1060.3 387.8)"><rect x="1055.7" y="381.4" width="9.0" height="12.8" rx="1" fill="#DDB368" stroke="#2A1B10" stroke-width="1.05"/><circle cx="1058.0" cy="384.6" r="0.65" fill="#5A3818"/><circle cx="1058.0" cy="391.0" r="0.65" fill="#5A3818"/><circle cx="1062.5" cy="384.6" r="0.65" fill="#5A3818"/><circle cx="1062.5" cy="391.0" r="0.65" fill="#5A3818"/></g>
<g transform="rotate(-7 1035.4 388.7)"><path d="M1028.4,388.7 v1.6 a7.0,3.2 0 0 0 14.1,0 v-1.6Z" fill="#B07A3C" stroke="#2A1B10" stroke-width="0.9"/><ellipse cx="1035.4" cy="388.7" rx="7.0" ry="3.2" fill="#D6A75F" stroke="#2A1B10" stroke-width="0.9"/><ellipse cx="1032.6" cy="387.5" rx="0.6" ry="0.36" fill="#5A3A1E"/><ellipse cx="1037.9" cy="387.4" rx="0.6" ry="0.36" fill="#5A3A1E"/><ellipse cx="1035.4" cy="388.8" rx="0.6" ry="0.36" fill="#5A3A1E"/><ellipse cx="1032.2" cy="389.9" rx="0.6" ry="0.36" fill="#5A3A1E"/><ellipse cx="1038.6" cy="389.8" rx="0.6" ry="0.36" fill="#5A3A1E"/></g>
<g transform="rotate(-29 942.0 388.7)"><rect x="937.2" y="381.9" width="9.5" height="13.6" rx="1" fill="#DDB368" stroke="#2A1B10" stroke-width="1.05"/><circle cx="939.6" cy="385.3" r="0.65" fill="#5A3818"/><circle cx="939.6" cy="392.1" r="0.65" fill="#5A3818"/><circle cx="944.3" cy="385.3" r="0.65" fill="#5A3818"/><circle cx="944.3" cy="392.1" r="0.65" fill="#5A3818"/></g>
<g transform="rotate(2 1036.5 389.3)"><rect x="1030.2" y="383.8" width="12.7" height="10.9" rx="1" fill="#E0B870" stroke="#2A1B10" stroke-width="1.05"/><circle cx="1032.3" cy="385.7" r="0.65" fill="#5A3818"/><circle cx="1032.3" cy="389.3" r="0.65" fill="#5A3818"/><circle cx="1032.3" cy="392.9" r="0.65" fill="#5A3818"/><circle cx="1036.5" cy="385.7" r="0.65" fill="#5A3818"/><circle cx="1036.5" cy="389.3" r="0.65" fill="#5A3818"/><circle cx="1036.5" cy="392.9" r="0.65" fill="#5A3818"/><circle cx="1040.8" cy="385.7" r="0.65" fill="#5A3818"/><circle cx="1040.8" cy="389.3" r="0.65" fill="#5A3818"/><circle cx="1040.8" cy="392.9" r="0.65" fill="#5A3818"/></g>
<g transform="rotate(-11 964.0 389.6)"><ellipse cx="964.0" cy="389.6" rx="5.6" ry="4.7" fill="#D9AC64" stroke="#2A1B10" stroke-width="1.05"/><ellipse cx="960.9" cy="388.2" rx="0.95" ry="0.93" fill="#5A3818"/><ellipse cx="963.5" cy="386.8" rx="0.95" ry="0.93" fill="#5A3818"/><ellipse cx="966.3" cy="387.5" rx="0.95" ry="0.93" fill="#5A3818"/><ellipse cx="962.4" cy="389.4" rx="0.95" ry="0.93" fill="#5A3818"/><ellipse cx="965.2" cy="389.4" rx="0.95" ry="0.93" fill="#5A3818"/><ellipse cx="967.5" cy="390.1" rx="0.95" ry="0.93" fill="#5A3818"/><ellipse cx="960.9" cy="391.3" rx="0.95" ry="0.93" fill="#5A3818"/><ellipse cx="963.8" cy="391.7" rx="0.95" ry="0.93" fill="#5A3818"/><ellipse cx="966.3" cy="392.0" rx="0.95" ry="0.93" fill="#5A3818"/></g>
<g><ellipse cx="1125.8" cy="390.1" rx="7.8" ry="7.8" fill="#7A4C2A" stroke="#2A1B10" stroke-width="0.9"/><ellipse cx="1122.7" cy="387.4" rx="0.7" ry="0.70" fill="#D8B078"/><ellipse cx="1128.6" cy="387.0" rx="0.7" ry="0.70" fill="#D8B078"/><ellipse cx="1125.8" cy="390.5" rx="0.7" ry="0.70" fill="#D8B078"/><ellipse cx="1122.3" cy="393.2" rx="0.7" ry="0.70" fill="#D8B078"/><ellipse cx="1129.3" cy="392.8" rx="0.7" ry="0.70" fill="#D8B078"/></g>
<g><ellipse cx="1114.5" cy="390.6" rx="8.1" ry="7.1" fill="#C48C48" stroke="#2A1B10" stroke-width="1.05"/><ellipse cx="1110.4" cy="388.5" rx="0.95" ry="0.95" fill="#5A3818"/><ellipse cx="1114.5" cy="386.7" rx="0.95" ry="0.95" fill="#5A3818"/><ellipse cx="1118.5" cy="388.9" rx="0.95" ry="0.95" fill="#5A3818"/><ellipse cx="1113.3" cy="390.6" rx="0.95" ry="0.95" fill="#5A3818"/><ellipse cx="1116.9" cy="392.0" rx="0.95" ry="0.95" fill="#5A3818"/><ellipse cx="1110.8" cy="393.4" rx="0.95" ry="0.95" fill="#5A3818"/><ellipse cx="1115.3" cy="394.5" rx="0.95" ry="0.95" fill="#5A3818"/></g>
<g transform="rotate(-31 961.1 393.2)"><rect x="956.4" y="386.7" width="9.3" height="13.0" rx="1" fill="#D6A95E" stroke="#2A1B10" stroke-width="1.05"/><circle cx="958.8" cy="390.0" r="0.65" fill="#5A3818"/><circle cx="958.8" cy="396.5" r="0.65" fill="#5A3818"/><circle cx="963.4" cy="390.0" r="0.65" fill="#5A3818"/><circle cx="963.4" cy="396.5" r="0.65" fill="#5A3818"/></g>
<g><ellipse cx="981.4" cy="393.3" rx="4.2" ry="4.2" fill="#7A4C2A" stroke="#2A1B10" stroke-width="0.9"/><ellipse cx="979.7" cy="391.9" rx="0.7" ry="0.70" fill="#D8B078"/><ellipse cx="982.8" cy="391.7" rx="0.7" ry="0.70" fill="#D8B078"/><ellipse cx="981.4" cy="393.5" rx="0.7" ry="0.70" fill="#D8B078"/><ellipse cx="979.5" cy="395.0" rx="0.7" ry="0.70" fill="#D8B078"/><ellipse cx="983.3" cy="394.8" rx="0.7" ry="0.70" fill="#D8B078"/></g>
<g transform="rotate(17 940.3 394.3)"><rect x="933.2" y="388.3" width="14.3" height="11.9" rx="1" fill="#E0B870" stroke="#2A1B10" stroke-width="1.05"/><circle cx="935.5" cy="390.3" r="0.65" fill="#5A3818"/><circle cx="935.5" cy="394.3" r="0.65" fill="#5A3818"/><circle cx="935.5" cy="398.2" r="0.65" fill="#5A3818"/><circle cx="940.3" cy="390.3" r="0.65" fill="#5A3818"/><circle cx="940.3" cy="394.3" r="0.65" fill="#5A3818"/><circle cx="940.3" cy="398.2" r="0.65" fill="#5A3818"/><circle cx="945.0" cy="390.3" r="0.65" fill="#5A3818"/><circle cx="945.0" cy="394.3" r="0.65" fill="#5A3818"/><circle cx="945.0" cy="398.2" r="0.65" fill="#5A3818"/></g>
<g transform="rotate(-29 982.8 395.6)"><ellipse cx="982.8" cy="395.6" rx="6.8" ry="5.1" fill="#D09C55" stroke="#2A1B10" stroke-width="1.05"/><ellipse cx="980.1" cy="393.9" rx="0.95" ry="0.86" fill="#5A3818"/><ellipse cx="985.2" cy="393.6" rx="0.95" ry="0.86" fill="#5A3818"/><ellipse cx="982.8" cy="395.9" rx="0.95" ry="0.86" fill="#5A3818"/><ellipse cx="979.8" cy="397.7" rx="0.95" ry="0.86" fill="#5A3818"/><ellipse cx="985.9" cy="397.4" rx="0.95" ry="0.86" fill="#5A3818"/></g>
<g><ellipse cx="976.1" cy="397.8" rx="8.3" ry="7.3" fill="#C48C48" stroke="#2A1B10" stroke-width="1.05"/><ellipse cx="972.7" cy="395.3" rx="0.95" ry="0.95" fill="#5A3818"/><ellipse cx="979.0" cy="394.9" rx="0.95" ry="0.95" fill="#5A3818"/><ellipse cx="976.1" cy="398.2" rx="0.95" ry="0.95" fill="#5A3818"/><ellipse cx="972.3" cy="400.7" rx="0.95" ry="0.95" fill="#5A3818"/><ellipse cx="979.8" cy="400.4" rx="0.95" ry="0.95" fill="#5A3818"/></g>
<g transform="rotate(-19 984.1 400.0)"><path d="M977.8,400.0 v1.6 a6.3,2.8 0 0 0 12.6,0 v-1.6Z" fill="#B07A3C" stroke="#2A1B10" stroke-width="0.9"/><ellipse cx="984.1" cy="400.0" rx="6.3" ry="2.8" fill="#D9AC64" stroke="#2A1B10" stroke-width="0.9"/><ellipse cx="981.5" cy="399.0" rx="0.6" ry="0.36" fill="#5A3A1E"/><ellipse cx="986.3" cy="398.9" rx="0.6" ry="0.36" fill="#5A3A1E"/><ellipse cx="984.1" cy="400.1" rx="0.6" ry="0.36" fill="#5A3A1E"/><ellipse cx="981.2" cy="401.1" rx="0.6" ry="0.36" fill="#5A3A1E"/><ellipse cx="986.9" cy="401.0" rx="0.6" ry="0.36" fill="#5A3A1E"/></g>
<g transform="rotate(-23 1111.9 402.5)"><ellipse cx="1111.9" cy="402.5" rx="6.1" ry="4.7" fill="#CC9852" stroke="#2A1B10" stroke-width="1.05"/><ellipse cx="1109.5" cy="400.9" rx="0.95" ry="0.88" fill="#5A3818"/><ellipse cx="1114.0" cy="400.6" rx="0.95" ry="0.88" fill="#5A3818"/><ellipse cx="1111.9" cy="402.8" rx="0.95" ry="0.88" fill="#5A3818"/><ellipse cx="1109.2" cy="404.4" rx="0.95" ry="0.88" fill="#5A3818"/><ellipse cx="1114.6" cy="404.2" rx="0.95" ry="0.88" fill="#5A3818"/></g>
<g transform="rotate(-26 1062.0 403.0)"><ellipse cx="1062.0" cy="403.0" rx="7.9" ry="6.1" fill="#D09C55" stroke="#2A1B10" stroke-width="1.05"/><ellipse cx="1058.8" cy="400.9" rx="0.95" ry="0.87" fill="#5A3818"/><ellipse cx="1064.7" cy="400.6" rx="0.95" ry="0.87" fill="#5A3818"/><ellipse cx="1062.0" cy="403.3" rx="0.95" ry="0.87" fill="#5A3818"/><ellipse cx="1058.4" cy="405.4" rx="0.95" ry="0.87" fill="#5A3818"/><ellipse cx="1065.5" cy="405.1" rx="0.95" ry="0.87" fill="#5A3818"/></g>
<g transform="rotate(-19 1097.7 405.1)"><rect x="1092.4" y="399.6" width="10.6" height="11.1" rx="1" fill="#DDB368" stroke="#2A1B10" stroke-width="1.05"/><circle cx="1095.0" cy="402.3" r="0.65" fill="#5A3818"/><circle cx="1095.0" cy="407.9" r="0.65" fill="#5A3818"/><circle cx="1100.3" cy="402.3" r="0.65" fill="#5A3818"/><circle cx="1100.3" cy="407.9" r="0.65" fill="#5A3818"/></g>
<g><ellipse cx="1113.7" cy="405.2" rx="5.1" ry="5.1" fill="#7A4C2A" stroke="#2A1B10" stroke-width="0.9"/><ellipse cx="1111.7" cy="403.4" rx="0.7" ry="0.70" fill="#D8B078"/><ellipse cx="1115.5" cy="403.2" rx="0.7" ry="0.70" fill="#D8B078"/><ellipse cx="1113.7" cy="405.5" rx="0.7" ry="0.70" fill="#D8B078"/><ellipse cx="1111.4" cy="407.3" rx="0.7" ry="0.70" fill="#D8B078"/><ellipse cx="1116.0" cy="407.0" rx="0.7" ry="0.70" fill="#D8B078"/></g>
<ellipse cx="1083.6" cy="405.7" rx="6.1" ry="4.9" fill="#D9AC64" stroke="#2A1B10" stroke-width="0.9"/><ellipse cx="1083.6" cy="405.7" rx="4.2" ry="3.3" fill="none" stroke="#5A3A1C" stroke-width="0.7"/><ellipse cx="1083.6" cy="405.7" rx="2.5" ry="2.0" fill="none" stroke="#5A3A1C" stroke-width="0.7"/>
<ellipse cx="1122.8" cy="406.0" rx="7.4" ry="5.7" fill="#C8924D" stroke="#2A1B10" stroke-width="0.9"/><ellipse cx="1122.8" cy="406.0" rx="5.0" ry="3.9" fill="none" stroke="#5A3A1C" stroke-width="0.7"/><ellipse cx="1122.8" cy="406.0" rx="3.0" ry="2.3" fill="none" stroke="#5A3A1C" stroke-width="0.7"/>
<g transform="rotate(27 985.1 406.4)"><ellipse cx="985.1" cy="406.4" rx="4.6" ry="4.5" fill="#C8924D" stroke="#2A1B10" stroke-width="1.05"/><ellipse cx="983.2" cy="404.8" rx="0.95" ry="0.95" fill="#5A3818"/><ellipse cx="986.7" cy="404.6" rx="0.95" ry="0.95" fill="#5A3818"/><ellipse cx="985.1" cy="406.7" rx="0.95" ry="0.95" fill="#5A3818"/><ellipse cx="983.0" cy="408.3" rx="0.95" ry="0.95" fill="#5A3818"/><ellipse cx="987.1" cy="408.0" rx="0.95" ry="0.95" fill="#5A3818"/></g>
<g transform="rotate(20 995.7 407.9)"><ellipse cx="995.7" cy="407.9" rx="7.5" ry="7.2" fill="#D9AC64" stroke="#2A1B10" stroke-width="1.05"/><ellipse cx="992.0" cy="405.7" rx="0.95" ry="0.95" fill="#5A3818"/><ellipse cx="995.7" cy="403.9" rx="0.95" ry="0.95" fill="#5A3818"/><ellipse cx="999.5" cy="406.1" rx="0.95" ry="0.95" fill="#5A3818"/><ellipse cx="994.6" cy="407.9" rx="0.95" ry="0.95" fill="#5A3818"/><ellipse cx="998.0" cy="409.3" rx="0.95" ry="0.95" fill="#5A3818"/><ellipse cx="992.4" cy="410.7" rx="0.95" ry="0.95" fill="#5A3818"/><ellipse cx="996.5" cy="411.8" rx="0.95" ry="0.95" fill="#5A3818"/></g>
<g transform="rotate(10 1117.3 407.9)"><rect x="1110.5" y="401.5" width="13.6" height="12.8" rx="1" fill="#D6A95E" stroke="#2A1B10" stroke-width="1.05"/><circle cx="1112.7" cy="403.6" r="0.65" fill="#5A3818"/><circle cx="1112.7" cy="407.9" r="0.65" fill="#5A3818"/><circle cx="1112.7" cy="412.2" r="0.65" fill="#5A3818"/><circle cx="1117.3" cy="403.6" r="0.65" fill="#5A3818"/><circle cx="1117.3" cy="407.9" r="0.65" fill="#5A3818"/><circle cx="1117.3" cy="412.2" r="0.65" fill="#5A3818"/><circle cx="1121.8" cy="403.6" r="0.65" fill="#5A3818"/><circle cx="1121.8" cy="407.9" r="0.65" fill="#5A3818"/><circle cx="1121.8" cy="412.2" r="0.65" fill="#5A3818"/></g>
<g><ellipse cx="947.6" cy="408.0" rx="6.7" ry="6.7" fill="#7A4C2A" stroke="#2A1B10" stroke-width="0.9"/><ellipse cx="944.9" cy="405.7" rx="0.7" ry="0.70" fill="#D8B078"/><ellipse cx="949.9" cy="405.3" rx="0.7" ry="0.70" fill="#D8B078"/><ellipse cx="947.6" cy="408.3" rx="0.7" ry="0.70" fill="#D8B078"/><ellipse cx="944.6" cy="410.7" rx="0.7" ry="0.70" fill="#D8B078"/><ellipse cx="950.6" cy="410.3" rx="0.7" ry="0.70" fill="#D8B078"/></g>
<g transform="rotate(2 1011.3 411.8)"><ellipse cx="1011.3" cy="411.8" rx="6.3" ry="5.6" fill="#D6A75F" stroke="#2A1B10" stroke-width="1.05"/><ellipse cx="1008.2" cy="410.1" rx="0.95" ry="0.95" fill="#5A3818"/><ellipse cx="1011.3" cy="408.7" rx="0.95" ry="0.95" fill="#5A3818"/><ellipse cx="1014.5" cy="410.4" rx="0.95" ry="0.95" fill="#5A3818"/><ellipse cx="1010.4" cy="411.8" rx="0.95" ry="0.95" fill="#5A3818"/><ellipse cx="1013.2" cy="412.9" rx="0.95" ry="0.95" fill="#5A3818"/><ellipse cx="1008.5" cy="414.0" rx="0.95" ry="0.95" fill="#5A3818"/><ellipse cx="1011.9" cy="414.9" rx="0.95" ry="0.95" fill="#5A3818"/></g>
<g transform="rotate(12 1106.5 412.0)"><ellipse cx="1106.5" cy="412.0" rx="4.6" ry="4.3" fill="#D9AC64" stroke="#2A1B10" stroke-width="1.05"/><ellipse cx="1104.2" cy="410.7" rx="0.95" ry="0.95" fill="#5A3818"/><ellipse cx="1106.5" cy="409.6" rx="0.95" ry="0.95" fill="#5A3818"/><ellipse cx="1108.8" cy="410.9" rx="0.95" ry="0.95" fill="#5A3818"/><ellipse cx="1105.8" cy="412.0" rx="0.95" ry="0.95" fill="#5A3818"/><ellipse cx="1107.9" cy="412.8" rx="0.95" ry="0.95" fill="#5A3818"/><ellipse cx="1104.4" cy="413.7" rx="0.95" ry="0.95" fill="#5A3818"/><ellipse cx="1107.0" cy="414.3" rx="0.95" ry="0.95" fill="#5A3818"/></g>
<g transform="rotate(5 1049.2 412.3)"><ellipse cx="1049.2" cy="412.3" rx="7.3" ry="6.5" fill="#D9AC64" stroke="#2A1B10" stroke-width="1.05"/><ellipse cx="1046.3" cy="410.0" rx="0.95" ry="0.95" fill="#5A3818"/><ellipse cx="1051.7" cy="409.7" rx="0.95" ry="0.95" fill="#5A3818"/><ellipse cx="1049.2" cy="412.6" rx="0.95" ry="0.95" fill="#5A3818"/><ellipse cx="1045.9" cy="414.9" rx="0.95" ry="0.95" fill="#5A3818"/><ellipse cx="1052.5" cy="414.6" rx="0.95" ry="0.95" fill="#5A3818"/></g>
<g transform="rotate(29 1078.9 412.8)"><ellipse cx="1078.9" cy="412.8" rx="5.8" ry="5.8" fill="#D6A75F" stroke="#2A1B10" stroke-width="1.05"/><ellipse cx="1076.0" cy="411.0" rx="0.95" ry="0.95" fill="#5A3818"/><ellipse cx="1078.9" cy="409.6" rx="0.95" ry="0.95" fill="#5A3818"/><ellipse cx="1081.8" cy="411.3" rx="0.95" ry="0.95" fill="#5A3818"/><ellipse cx="1078.1" cy="412.8" rx="0.95" ry="0.95" fill="#5A3818"/><ellipse cx="1080.7" cy="413.9" rx="0.95" ry="0.95" fill="#5A3818"/><ellipse cx="1076.3" cy="415.1" rx="0.95" ry="0.95" fill="#5A3818"/><ellipse cx="1079.5" cy="415.9" rx="0.95" ry="0.95" fill="#5A3818"/></g>
<g transform="rotate(-14 959.7 413.2)"><path d="M953.1,413.2 v1.6 a6.7,3.0 0 0 0 13.3,0 v-1.6Z" fill="#B07A3C" stroke="#2A1B10" stroke-width="0.9"/><ellipse cx="959.7" cy="413.2" rx="6.7" ry="3.0" fill="#D9AC64" stroke="#2A1B10" stroke-width="0.9"/><ellipse cx="957.1" cy="412.2" rx="0.6" ry="0.36" fill="#5A3A1E"/><ellipse cx="962.1" cy="412.0" rx="0.6" ry="0.36" fill="#5A3A1E"/><ellipse cx="959.7" cy="413.4" rx="0.6" ry="0.36" fill="#5A3A1E"/><ellipse cx="956.7" cy="414.4" rx="0.6" ry="0.36" fill="#5A3A1E"/><ellipse cx="962.7" cy="414.3" rx="0.6" ry="0.36" fill="#5A3A1E"/></g>
<g transform="rotate(-17 1004.6 413.4)"><path d="M998.2,413.4 v1.6 a6.5,2.9 0 0 0 12.9,0 v-1.6Z" fill="#B07A3C" stroke="#2A1B10" stroke-width="0.9"/><ellipse cx="1004.6" cy="413.4" rx="6.5" ry="2.9" fill="#C48C48" stroke="#2A1B10" stroke-width="0.9"/><ellipse cx="1002.0" cy="412.4" rx="0.6" ry="0.36" fill="#5A3A1E"/><ellipse cx="1006.9" cy="412.2" rx="0.6" ry="0.36" fill="#5A3A1E"/><ellipse cx="1004.6" cy="413.6" rx="0.6" ry="0.36" fill="#5A3A1E"/><ellipse cx="1001.7" cy="414.6" rx="0.6" ry="0.36" fill="#5A3A1E"/><ellipse cx="1007.5" cy="414.4" rx="0.6" ry="0.36" fill="#5A3A1E"/></g>
<g transform="rotate(13 1051.5 414.5)"><rect x="1044.6" y="409.8" width="13.9" height="9.4" rx="1" fill="#DDB368" stroke="#2A1B10" stroke-width="1.05"/><circle cx="1046.9" cy="411.4" r="0.65" fill="#5A3818"/><circle cx="1046.9" cy="414.5" r="0.65" fill="#5A3818"/><circle cx="1046.9" cy="417.6" r="0.65" fill="#5A3818"/><circle cx="1051.5" cy="411.4" r="0.65" fill="#5A3818"/><circle cx="1051.5" cy="414.5" r="0.65" fill="#5A3818"/><circle cx="1051.5" cy="417.6" r="0.65" fill="#5A3818"/><circle cx="1056.1" cy="411.4" r="0.65" fill="#5A3818"/><circle cx="1056.1" cy="414.5" r="0.65" fill="#5A3818"/><circle cx="1056.1" cy="417.6" r="0.65" fill="#5A3818"/></g>
<g transform="rotate(18 1005.8 415.0)"><ellipse cx="1005.8" cy="415.0" rx="6.1" ry="5.9" fill="#D6A75F" stroke="#2A1B10" stroke-width="1.05"/><ellipse cx="1003.3" cy="413.0" rx="0.95" ry="0.95" fill="#5A3818"/><ellipse cx="1007.9" cy="412.7" rx="0.95" ry="0.95" fill="#5A3818"/><ellipse cx="1005.8" cy="415.3" rx="0.95" ry="0.95" fill="#5A3818"/><ellipse cx="1003.0" cy="417.4" rx="0.95" ry="0.95" fill="#5A3818"/><ellipse cx="1008.5" cy="417.1" rx="0.95" ry="0.95" fill="#5A3818"/></g>
<g transform="rotate(9 1093.1 415.0)"><ellipse cx="1093.1" cy="415.0" rx="7.4" ry="6.7" fill="#D6A75F" stroke="#2A1B10" stroke-width="1.05"/><ellipse cx="1089.0" cy="413.0" rx="0.95" ry="0.95" fill="#5A3818"/><ellipse cx="1092.3" cy="411.0" rx="0.95" ry="0.95" fill="#5A3818"/><ellipse cx="1096.0" cy="412.0" rx="0.95" ry="0.95" fill="#5A3818"/><ellipse cx="1090.8" cy="414.7" rx="0.95" ry="0.95" fill="#5A3818"/><ellipse cx="1094.5" cy="414.7" rx="0.95" ry="0.95" fill="#5A3818"/><ellipse cx="1097.6" cy="415.7" rx="0.95" ry="0.95" fill="#5A3818"/><ellipse cx="1089.0" cy="417.4" rx="0.95" ry="0.95" fill="#5A3818"/><ellipse cx="1092.7" cy="418.1" rx="0.95" ry="0.95" fill="#5A3818"/><ellipse cx="1096.0" cy="418.4" rx="0.95" ry="0.95" fill="#5A3818"/></g>
<g><ellipse cx="1011.8" cy="415.2" rx="6.9" ry="6.9" fill="#7A4C2A" stroke="#2A1B10" stroke-width="0.9"/><ellipse cx="1009.0" cy="412.7" rx="0.7" ry="0.70" fill="#D8B078"/><ellipse cx="1014.2" cy="412.4" rx="0.7" ry="0.70" fill="#D8B078"/><ellipse cx="1011.8" cy="415.5" rx="0.7" ry="0.70" fill="#D8B078"/><ellipse cx="1008.7" cy="417.9" rx="0.7" ry="0.70" fill="#D8B078"/><ellipse cx="1014.9" cy="417.6" rx="0.7" ry="0.70" fill="#D8B078"/></g>
<g transform="rotate(27 1085.4 415.2)"><ellipse cx="1085.4" cy="415.2" rx="5.6" ry="5.5" fill="#D6A75F" stroke="#2A1B10" stroke-width="1.05"/><ellipse cx="1082.6" cy="413.6" rx="0.95" ry="0.95" fill="#5A3818"/><ellipse cx="1085.4" cy="412.2" rx="0.95" ry="0.95" fill="#5A3818"/><ellipse cx="1088.2" cy="413.8" rx="0.95" ry="0.95" fill="#5A3818"/><ellipse cx="1084.6" cy="415.2" rx="0.95" ry="0.95" fill="#5A3818"/><ellipse cx="1087.1" cy="416.3" rx="0.95" ry="0.95" fill="#5A3818"/><ellipse cx="1082.9" cy="417.4" rx="0.95" ry="0.95" fill="#5A3818"/><ellipse cx="1086.0" cy="418.3" rx="0.95" ry="0.95" fill="#5A3818"/></g>
<g transform="rotate(29 1051.3 415.9)"><rect x="1043.6" y="410.4" width="15.4" height="11.0" rx="1" fill="#DDB368" stroke="#2A1B10" stroke-width="1.05"/><circle cx="1046.2" cy="412.3" r="0.65" fill="#5A3818"/><circle cx="1046.2" cy="415.9" r="0.65" fill="#5A3818"/><circle cx="1046.2" cy="419.6" r="0.65" fill="#5A3818"/><circle cx="1051.3" cy="412.3" r="0.65" fill="#5A3818"/><circle cx="1051.3" cy="415.9" r="0.65" fill="#5A3818"/><circle cx="1051.3" cy="419.6" r="0.65" fill="#5A3818"/><circle cx="1056.5" cy="412.3" r="0.65" fill="#5A3818"/><circle cx="1056.5" cy="415.9" r="0.65" fill="#5A3818"/><circle cx="1056.5" cy="419.6" r="0.65" fill="#5A3818"/></g>
<ellipse cx="961.4" cy="416.0" rx="4.5" ry="4.3" fill="#D09C55" stroke="#2A1B10" stroke-width="0.9"/><ellipse cx="961.4" cy="416.0" rx="3.1" ry="2.9" fill="none" stroke="#5A3A1C" stroke-width="0.7"/><ellipse cx="961.4" cy="416.0" rx="1.8" ry="1.7" fill="none" stroke="#5A3A1C" stroke-width="0.7"/>
<g transform="rotate(-2 975.8 416.2)"><path d="M968.4,416.2 v1.6 a7.3,3.3 0 0 0 14.7,0 v-1.6Z" fill="#B07A3C" stroke="#2A1B10" stroke-width="0.9"/><ellipse cx="975.8" cy="416.2" rx="7.3" ry="3.3" fill="#CC9852" stroke="#2A1B10" stroke-width="0.9"/><ellipse cx="972.8" cy="415.0" rx="0.6" ry="0.36" fill="#5A3A1E"/><ellipse cx="978.3" cy="414.9" rx="0.6" ry="0.36" fill="#5A3A1E"/><ellipse cx="975.8" cy="416.4" rx="0.6" ry="0.36" fill="#5A3A1E"/><ellipse cx="972.5" cy="417.5" rx="0.6" ry="0.36" fill="#5A3A1E"/><ellipse cx="979.1" cy="417.3" rx="0.6" ry="0.36" fill="#5A3A1E"/></g>
<g transform="rotate(7 1088.1 417.0)"><rect x="1081.4" y="411.5" width="13.3" height="11.0" rx="1" fill="#DDB368" stroke="#2A1B10" stroke-width="1.05"/><circle cx="1083.6" cy="413.3" r="0.65" fill="#5A3818"/><circle cx="1083.6" cy="417.0" r="0.65" fill="#5A3818"/><circle cx="1083.6" cy="420.7" r="0.65" fill="#5A3818"/><circle cx="1088.1" cy="413.3" r="0.65" fill="#5A3818"/><circle cx="1088.1" cy="417.0" r="0.65" fill="#5A3818"/><circle cx="1088.1" cy="420.7" r="0.65" fill="#5A3818"/><circle cx="1092.5" cy="413.3" r="0.65" fill="#5A3818"/><circle cx="1092.5" cy="417.0" r="0.65" fill="#5A3818"/><circle cx="1092.5" cy="420.7" r="0.65" fill="#5A3818"/></g>
<g transform="rotate(2 1061.2 417.1)"><path d="M1053.6,417.1 v1.6 a7.6,3.4 0 0 0 15.3,0 v-1.6Z" fill="#B07A3C" stroke="#2A1B10" stroke-width="0.9"/><ellipse cx="1061.2" cy="417.1" rx="7.6" ry="3.4" fill="#CC9852" stroke="#2A1B10" stroke-width="0.9"/><ellipse cx="1058.2" cy="415.9" rx="0.6" ry="0.36" fill="#5A3A1E"/><ellipse cx="1063.9" cy="415.7" rx="0.6" ry="0.36" fill="#5A3A1E"/><ellipse cx="1061.2" cy="417.3" rx="0.6" ry="0.36" fill="#5A3A1E"/><ellipse cx="1057.8" cy="418.5" rx="0.6" ry="0.36" fill="#5A3A1E"/><ellipse cx="1064.7" cy="418.3" rx="0.6" ry="0.36" fill="#5A3A1E"/></g>
<g transform="rotate(14 961.1 417.8)"><rect x="954.1" y="413.5" width="13.9" height="8.5" rx="1" fill="#E0B870" stroke="#2A1B10" stroke-width="1.05"/><circle cx="956.4" cy="415.0" r="0.65" fill="#5A3818"/><circle cx="956.4" cy="417.8" r="0.65" fill="#5A3818"/><circle cx="956.4" cy="420.7" r="0.65" fill="#5A3818"/><circle cx="961.1" cy="415.0" r="0.65" fill="#5A3818"/><circle cx="961.1" cy="417.8" r="0.65" fill="#5A3818"/><circle cx="961.1" cy="420.7" r="0.65" fill="#5A3818"/><circle cx="965.7" cy="415.0" r="0.65" fill="#5A3818"/><circle cx="965.7" cy="417.8" r="0.65" fill="#5A3818"/><circle cx="965.7" cy="420.7" r="0.65" fill="#5A3818"/></g>
<g transform="rotate(-13 978.4 417.9)"><rect x="972.8" y="413.5" width="11.1" height="8.8" rx="1" fill="#E0B870" stroke="#2A1B10" stroke-width="1.05"/><circle cx="974.7" cy="415.0" r="0.65" fill="#5A3818"/><circle cx="974.7" cy="417.9" r="0.65" fill="#5A3818"/><circle cx="974.7" cy="420.8" r="0.65" fill="#5A3818"/><circle cx="978.4" cy="415.0" r="0.65" fill="#5A3818"/><circle cx="978.4" cy="417.9" r="0.65" fill="#5A3818"/><circle cx="978.4" cy="420.8" r="0.65" fill="#5A3818"/><circle cx="982.1" cy="415.0" r="0.65" fill="#5A3818"/><circle cx="982.1" cy="417.9" r="0.65" fill="#5A3818"/><circle cx="982.1" cy="420.8" r="0.65" fill="#5A3818"/></g>
<g transform="rotate(18 1038.4 418.6)"><ellipse cx="1038.4" cy="418.6" rx="6.5" ry="6.1" fill="#C8924D" stroke="#2A1B10" stroke-width="1.05"/><ellipse cx="1035.8" cy="416.5" rx="0.95" ry="0.95" fill="#5A3818"/><ellipse cx="1040.7" cy="416.2" rx="0.95" ry="0.95" fill="#5A3818"/><ellipse cx="1038.4" cy="418.9" rx="0.95" ry="0.95" fill="#5A3818"/><ellipse cx="1035.5" cy="421.1" rx="0.95" ry="0.95" fill="#5A3818"/><ellipse cx="1041.3" cy="420.8" rx="0.95" ry="0.95" fill="#5A3818"/></g>
<g transform="rotate(28 955.0 418.7)"><rect x="947.3" y="413.9" width="15.3" height="9.7" rx="1" fill="#DDB368" stroke="#2A1B10" stroke-width="1.05"/><circle cx="949.9" cy="415.5" r="0.65" fill="#5A3818"/><circle cx="949.9" cy="418.7" r="0.65" fill="#5A3818"/><circle cx="949.9" cy="422.0" r="0.65" fill="#5A3818"/><circle cx="955.0" cy="415.5" r="0.65" fill="#5A3818"/><circle cx="955.0" cy="418.7" r="0.65" fill="#5A3818"/><circle cx="955.0" cy="422.0" r="0.65" fill="#5A3818"/><circle cx="960.1" cy="415.5" r="0.65" fill="#5A3818"/><circle cx="960.1" cy="418.7" r="0.65" fill="#5A3818"/><circle cx="960.1" cy="422.0" r="0.65" fill="#5A3818"/></g>
<g transform="rotate(-3 1051.3 419.2)"><ellipse cx="1051.3" cy="419.2" rx="8.0" ry="6.9" fill="#CC9852" stroke="#2A1B10" stroke-width="1.05"/><ellipse cx="1046.9" cy="417.1" rx="0.95" ry="0.95" fill="#5A3818"/><ellipse cx="1050.5" cy="415.1" rx="0.95" ry="0.95" fill="#5A3818"/><ellipse cx="1054.5" cy="416.1" rx="0.95" ry="0.95" fill="#5A3818"/><ellipse cx="1048.9" cy="418.9" rx="0.95" ry="0.95" fill="#5A3818"/><ellipse cx="1052.9" cy="418.9" rx="0.95" ry="0.95" fill="#5A3818"/><ellipse cx="1056.2" cy="419.9" rx="0.95" ry="0.95" fill="#5A3818"/><ellipse cx="1046.9" cy="421.6" rx="0.95" ry="0.95" fill="#5A3818"/><ellipse cx="1050.9" cy="422.3" rx="0.95" ry="0.95" fill="#5A3818"/><ellipse cx="1054.5" cy="422.6" rx="0.95" ry="0.95" fill="#5A3818"/></g>
<g><ellipse cx="989.4" cy="419.9" rx="5.6" ry="4.9" fill="#C8924D" stroke="#2A1B10" stroke-width="1.05"/><ellipse cx="986.4" cy="418.4" rx="0.95" ry="0.95" fill="#5A3818"/><ellipse cx="988.9" cy="417.0" rx="0.95" ry="0.95" fill="#5A3818"/><ellipse cx="991.6" cy="417.7" rx="0.95" ry="0.95" fill="#5A3818"/><ellipse cx="987.7" cy="419.6" rx="0.95" ry="0.95" fill="#5A3818"/><ellipse cx="990.5" cy="419.6" rx="0.95" ry="0.95" fill="#5A3818"/><ellipse cx="992.9" cy="420.4" rx="0.95" ry="0.95" fill="#5A3818"/><ellipse cx="986.4" cy="421.6" rx="0.95" ry="0.95" fill="#5A3818"/><ellipse cx="989.1" cy="422.1" rx="0.95" ry="0.95" fill="#5A3818"/><ellipse cx="991.6" cy="422.3" rx="0.95" ry="0.95" fill="#5A3818"/></g>
<ellipse cx="968.6" cy="419.9" rx="4.1" ry="3.7" fill="#CC9852" stroke="#2A1B10" stroke-width="0.9"/><ellipse cx="968.6" cy="419.9" rx="2.8" ry="2.5" fill="none" stroke="#5A3A1C" stroke-width="0.7"/><ellipse cx="968.6" cy="419.9" rx="1.6" ry="1.5" fill="none" stroke="#5A3A1C" stroke-width="0.7"/>
<g transform="rotate(22 1023.0 420.1)"><path d="M1014.2,420.1 v1.6 a8.9,4.0 0 0 0 17.7,0 v-1.6Z" fill="#B07A3C" stroke="#2A1B10" stroke-width="0.9"/><ellipse cx="1023.0" cy="420.1" rx="8.9" ry="4.0" fill="#D9AC64" stroke="#2A1B10" stroke-width="0.9"/><ellipse cx="1019.5" cy="418.7" rx="0.6" ry="0.36" fill="#5A3A1E"/><ellipse cx="1026.1" cy="418.5" rx="0.6" ry="0.36" fill="#5A3A1E"/><ellipse cx="1023.0" cy="420.3" rx="0.6" ry="0.36" fill="#5A3A1E"/><ellipse cx="1019.0" cy="421.7" rx="0.6" ry="0.36" fill="#5A3A1E"/><ellipse cx="1027.0" cy="421.5" rx="0.6" ry="0.36" fill="#5A3A1E"/></g>
<g><path d="M948.9,420.8 v1.6 a7.4,3.4 0 0 0 14.9,0 v-1.6Z" fill="#B07A3C" stroke="#2A1B10" stroke-width="0.9"/><ellipse cx="956.3" cy="420.8" rx="7.4" ry="3.4" fill="#C48C48" stroke="#2A1B10" stroke-width="0.9"/><ellipse cx="953.4" cy="419.7" rx="0.6" ry="0.36" fill="#5A3A1E"/><ellipse cx="959.0" cy="419.5" rx="0.6" ry="0.36" fill="#5A3A1E"/><ellipse cx="956.3" cy="421.0" rx="0.6" ry="0.36" fill="#5A3A1E"/><ellipse cx="953.0" cy="422.2" rx="0.6" ry="0.36" fill="#5A3A1E"/><ellipse cx="959.7" cy="422.0" rx="0.6" ry="0.36" fill="#5A3A1E"/></g>
<ellipse cx="1046.4" cy="420.9" rx="4.5" ry="3.3" fill="#D9AC64" stroke="#2A1B10" stroke-width="0.9"/><ellipse cx="1046.4" cy="420.9" rx="3.0" ry="2.2" fill="none" stroke="#5A3A1C" stroke-width="0.7"/><ellipse cx="1046.4" cy="420.9" rx="1.8" ry="1.3" fill="none" stroke="#5A3A1C" stroke-width="0.7"/>
<g transform="rotate(-23 1013.5 421.3)"><rect x="1008.4" y="416.9" width="10.2" height="8.8" rx="1" fill="#D6A95E" stroke="#2A1B10" stroke-width="1.05"/><circle cx="1010.9" cy="419.1" r="0.65" fill="#5A3818"/><circle cx="1010.9" cy="423.5" r="0.65" fill="#5A3818"/><circle cx="1016.0" cy="419.1" r="0.65" fill="#5A3818"/><circle cx="1016.0" cy="423.5" r="0.65" fill="#5A3818"/></g>
<g><ellipse cx="1039.0" cy="422.0" rx="7.8" ry="6.8" fill="#CC9852" stroke="#2A1B10" stroke-width="1.05"/><ellipse cx="1035.1" cy="420.0" rx="0.95" ry="0.95" fill="#5A3818"/><ellipse cx="1039.0" cy="418.3" rx="0.95" ry="0.95" fill="#5A3818"/><ellipse cx="1042.9" cy="420.3" rx="0.95" ry="0.95" fill="#5A3818"/><ellipse cx="1037.8" cy="422.0" rx="0.95" ry="0.95" fill="#5A3818"/><ellipse cx="1041.3" cy="423.4" rx="0.95" ry="0.95" fill="#5A3818"/><ellipse cx="1035.5" cy="424.8" rx="0.95" ry="0.95" fill="#5A3818"/><ellipse cx="1039.8" cy="425.8" rx="0.95" ry="0.95" fill="#5A3818"/></g>
<g transform="rotate(-5 1028.8 422.6)"><path d="M1021.7,422.6 v1.6 a7.2,3.2 0 0 0 14.3,0 v-1.6Z" fill="#B07A3C" stroke="#2A1B10" stroke-width="0.9"/><ellipse cx="1028.8" cy="422.6" rx="7.2" ry="3.2" fill="#D6A75F" stroke="#2A1B10" stroke-width="0.9"/><ellipse cx="1026.0" cy="421.4" rx="0.6" ry="0.36" fill="#5A3A1E"/><ellipse cx="1031.3" cy="421.3" rx="0.6" ry="0.36" fill="#5A3A1E"/><ellipse cx="1028.8" cy="422.7" rx="0.6" ry="0.36" fill="#5A3A1E"/><ellipse cx="1025.6" cy="423.8" rx="0.6" ry="0.36" fill="#5A3A1E"/><ellipse cx="1032.1" cy="423.7" rx="0.6" ry="0.36" fill="#5A3A1E"/></g>
<g transform="rotate(26 1025.8 422.8)"><rect x="1018.2" y="417.4" width="15.2" height="10.9" rx="1" fill="#DDB368" stroke="#2A1B10" stroke-width="1.05"/><circle cx="1020.8" cy="419.2" r="0.65" fill="#5A3818"/><circle cx="1020.8" cy="422.8" r="0.65" fill="#5A3818"/><circle cx="1020.8" cy="426.4" r="0.65" fill="#5A3818"/><circle cx="1025.8" cy="419.2" r="0.65" fill="#5A3818"/><circle cx="1025.8" cy="422.8" r="0.65" fill="#5A3818"/><circle cx="1025.8" cy="426.4" r="0.65" fill="#5A3818"/><circle cx="1030.9" cy="419.2" r="0.65" fill="#5A3818"/><circle cx="1030.9" cy="422.8" r="0.65" fill="#5A3818"/><circle cx="1030.9" cy="426.4" r="0.65" fill="#5A3818"/></g>
<g transform="rotate(2 984.8 423.2)"><path d="M977.1,423.2 v1.6 a7.6,3.4 0 0 0 15.3,0 v-1.6Z" fill="#B07A3C" stroke="#2A1B10" stroke-width="0.9"/><ellipse cx="984.8" cy="423.2" rx="7.6" ry="3.4" fill="#D09C55" stroke="#2A1B10" stroke-width="0.9"/><ellipse cx="981.7" cy="422.0" rx="0.6" ry="0.36" fill="#5A3A1E"/><ellipse cx="987.4" cy="421.8" rx="0.6" ry="0.36" fill="#5A3A1E"/><ellipse cx="984.8" cy="423.4" rx="0.6" ry="0.36" fill="#5A3A1E"/><ellipse cx="981.3" cy="424.6" rx="0.6" ry="0.36" fill="#5A3A1E"/><ellipse cx="988.2" cy="424.4" rx="0.6" ry="0.36" fill="#5A3A1E"/></g>
<g transform="rotate(7 987.7 423.9)"><ellipse cx="987.7" cy="423.9" rx="6.5" ry="5.9" fill="#D09C55" stroke="#2A1B10" stroke-width="1.05"/><ellipse cx="985.1" cy="421.9" rx="0.95" ry="0.95" fill="#5A3818"/><ellipse cx="990.0" cy="421.6" rx="0.95" ry="0.95" fill="#5A3818"/><ellipse cx="987.7" cy="424.2" rx="0.95" ry="0.95" fill="#5A3818"/><ellipse cx="984.8" cy="426.3" rx="0.95" ry="0.95" fill="#5A3818"/><ellipse cx="990.7" cy="426.0" rx="0.95" ry="0.95" fill="#5A3818"/></g>
<g transform="rotate(-16 1100.5 424.0)"><rect x="1095.1" y="419.4" width="10.9" height="9.3" rx="1" fill="#D6A95E" stroke="#2A1B10" stroke-width="1.05"/><circle cx="1097.8" cy="421.7" r="0.65" fill="#5A3818"/><circle cx="1097.8" cy="426.3" r="0.65" fill="#5A3818"/><circle cx="1103.3" cy="421.7" r="0.65" fill="#5A3818"/><circle cx="1103.3" cy="426.3" r="0.65" fill="#5A3818"/></g>
<g transform="rotate(-12 1012.5 425.0)"><ellipse cx="1012.5" cy="425.0" rx="7.9" ry="6.5" fill="#D09C55" stroke="#2A1B10" stroke-width="1.05"/><ellipse cx="1008.5" cy="423.1" rx="0.95" ry="0.92" fill="#5A3818"/><ellipse cx="1012.5" cy="421.4" rx="0.95" ry="0.92" fill="#5A3818"/><ellipse cx="1016.5" cy="423.4" rx="0.95" ry="0.92" fill="#5A3818"/><ellipse cx="1011.3" cy="425.0" rx="0.95" ry="0.92" fill="#5A3818"/><ellipse cx="1014.9" cy="426.3" rx="0.95" ry="0.92" fill="#5A3818"/><ellipse cx="1008.9" cy="427.6" rx="0.95" ry="0.92" fill="#5A3818"/><ellipse cx="1013.3" cy="428.6" rx="0.95" ry="0.92" fill="#5A3818"/></g>
<g transform="rotate(15 989.9 425.5)"><ellipse cx="989.9" cy="425.5" rx="6.2" ry="5.8" fill="#D6A75F" stroke="#2A1B10" stroke-width="1.05"/><ellipse cx="987.4" cy="423.5" rx="0.95" ry="0.95" fill="#5A3818"/><ellipse cx="992.1" cy="423.2" rx="0.95" ry="0.95" fill="#5A3818"/><ellipse cx="989.9" cy="425.8" rx="0.95" ry="0.95" fill="#5A3818"/><ellipse cx="987.1" cy="427.8" rx="0.95" ry="0.95" fill="#5A3818"/><ellipse cx="992.7" cy="427.5" rx="0.95" ry="0.95" fill="#5A3818"/></g>
<ellipse cx="941" cy="301" rx="11.4" ry="5.6" fill="#DDAF66" stroke="#2A1B10" stroke-width="0.9" transform="rotate(-8 941 301)"/><path d="M934,298 l2,6 M938,296.6 l2,7.6 M942.6,296 l1.8,8 M947,296.4 l1.4,7" stroke="#8A5A28" stroke-width="1"/>
<path d="M944.6,290 C942,289 941,292 943,294.4 L949,296 L949,291Z" fill="#C9934F" stroke="#2A1B10" stroke-width="0.8"/>
<g transform="rotate(-4 957.6 296.4)"><rect x="949.1" y="287.9" width="17.0" height="17.0" rx="2" fill="#C9934F" stroke="#2A1B10" stroke-width="0.9"/><circle cx="951.9" cy="290.7" r="0.65" fill="#6B4420"/><circle cx="951.9" cy="296.4" r="0.65" fill="#6B4420"/><circle cx="951.9" cy="302.1" r="0.65" fill="#6B4420"/><circle cx="957.6" cy="290.7" r="0.65" fill="#6B4420"/><circle cx="957.6" cy="296.4" r="0.65" fill="#6B4420"/><circle cx="957.6" cy="302.1" r="0.65" fill="#6B4420"/><circle cx="963.3" cy="290.7" r="0.65" fill="#6B4420"/><circle cx="963.3" cy="296.4" r="0.65" fill="#6B4420"/><circle cx="963.3" cy="302.1" r="0.65" fill="#6B4420"/></g>
<path d="M947.6,288 C947,281 950,277.6 957,277.4 C964,277.2 966.6,281 966,287.6 L948,288.4Z" fill="#8A5A34" stroke="#2A1B10" stroke-width="0.9"/><circle cx="952" cy="282" r="0.7" fill="#4A2A14"/><circle cx="957" cy="284.6" r="0.7" fill="#4A2A14"/><circle cx="961.6" cy="281.6" r="0.7" fill="#4A2A14"/><circle cx="955" cy="280" r="0.7" fill="#4A2A14"/>
<g fill="#7A5228"><circle cx="940" cy="287" r="1.4"/><circle cx="972" cy="293.4" r="1.2"/><circle cx="980" cy="280.6" r="1.1"/><circle cx="983" cy="294.6" r="1"/><circle cx="1011.6" cy="268" r="1.3"/><circle cx="1015.6" cy="285.6" r="1"/><circle cx="1016.4" cy="290.6" r="1.5"/><circle cx="1020" cy="293" r="0.8"/></g>
<path d="M987.9,307.4 v2.7 a12.7,3 0 0 0 25.4,0 v-2.7Z" fill="#C48A48" stroke="#2A1B10" stroke-width="0.8"/>
<path d="M988.9,309.6 a11.7,2.6 0 0 0 23.4,0" fill="none" stroke="#8A5A2A" stroke-width="0.5"/>
<path d="M987.9,307.4 a12.7,3 0 0 0 25.4,0" fill="none" stroke="#2A1B10" stroke-width="0.7"/>
<path d="M986.4,303.6 v2.7 a13.4,3 0 0 0 26.8,0 v-2.7Z" fill="#C48A48" stroke="#2A1B10" stroke-width="0.8"/>
<path d="M987.4,305.8 a12.4,2.6 0 0 0 24.8,0" fill="none" stroke="#8A5A2A" stroke-width="0.5"/>
<path d="M986.4,303.6 a13.4,3 0 0 0 26.8,0" fill="none" stroke="#2A1B10" stroke-width="0.7"/>
<path d="M985.9,299.9 v2.7 a12.7,3 0 0 0 25.4,0 v-2.7Z" fill="#C48A48" stroke="#2A1B10" stroke-width="0.8"/>
<path d="M986.9,302.1 a11.7,2.6 0 0 0 23.4,0" fill="none" stroke="#8A5A2A" stroke-width="0.5"/>
<path d="M985.9,299.9 a12.7,3 0 0 0 25.4,0" fill="none" stroke="#2A1B10" stroke-width="0.7"/>
<path d="M987.2,296.1 v2.7 a13.4,3 0 0 0 26.8,0 v-2.7Z" fill="#C48A48" stroke="#2A1B10" stroke-width="0.8"/>
<path d="M988.2,298.3 a12.4,2.6 0 0 0 24.8,0" fill="none" stroke="#8A5A2A" stroke-width="0.5"/>
<path d="M987.2,296.1 a13.4,3 0 0 0 26.8,0" fill="none" stroke="#2A1B10" stroke-width="0.7"/>
<path d="M985.9,292.4 v2.7 a12.7,3 0 0 0 25.4,0 v-2.7Z" fill="#C48A48" stroke="#2A1B10" stroke-width="0.8"/>
<path d="M986.9,294.6 a11.7,2.6 0 0 0 23.4,0" fill="none" stroke="#8A5A2A" stroke-width="0.5"/>
<path d="M985.9,292.4 a12.7,3 0 0 0 25.4,0" fill="none" stroke="#2A1B10" stroke-width="0.7"/>
<path d="M984.0,288.6 v2.7 a13.4,3 0 0 0 26.8,0 v-2.7Z" fill="#C48A48" stroke="#2A1B10" stroke-width="0.8"/>
<path d="M985.0,290.8 a12.4,2.6 0 0 0 24.8,0" fill="none" stroke="#8A5A2A" stroke-width="0.5"/>
<path d="M984.0,288.6 a13.4,3 0 0 0 26.8,0" fill="none" stroke="#2A1B10" stroke-width="0.7"/>
<path d="M986.7,284.9 v2.7 a12.7,3 0 0 0 25.4,0 v-2.7Z" fill="#C48A48" stroke="#2A1B10" stroke-width="0.8"/>
<path d="M987.7,287.1 a11.7,2.6 0 0 0 23.4,0" fill="none" stroke="#8A5A2A" stroke-width="0.5"/>
<path d="M986.7,284.9 a12.7,3 0 0 0 25.4,0" fill="none" stroke="#2A1B10" stroke-width="0.7"/>
<path d="M985.2,281.1 v2.7 a13.4,3 0 0 0 26.8,0 v-2.7Z" fill="#C48A48" stroke="#2A1B10" stroke-width="0.8"/>
<path d="M986.2,283.3 a12.4,2.6 0 0 0 24.8,0" fill="none" stroke="#8A5A2A" stroke-width="0.5"/>
<path d="M985.2,281.1 a13.4,3 0 0 0 26.8,0" fill="none" stroke="#2A1B10" stroke-width="0.7"/>
<path d="M984.7,277.4 v2.7 a12.7,3 0 0 0 25.4,0 v-2.7Z" fill="#C48A48" stroke="#2A1B10" stroke-width="0.8"/>
<path d="M985.7,279.6 a11.7,2.6 0 0 0 23.4,0" fill="none" stroke="#8A5A2A" stroke-width="0.5"/>
<path d="M984.7,277.4 a12.7,3 0 0 0 25.4,0" fill="none" stroke="#2A1B10" stroke-width="0.7"/>
<path d="M986.0,273.6 v2.7 a13.4,3 0 0 0 26.8,0 v-2.7Z" fill="#C48A48" stroke="#2A1B10" stroke-width="0.8"/>
<path d="M987.0,275.8 a12.4,2.6 0 0 0 24.8,0" fill="none" stroke="#8A5A2A" stroke-width="0.5"/>
<ellipse cx="999.4" cy="273.6" rx="13.4" ry="3" fill="#D09A56" stroke="#2A1B10" stroke-width="0.8"/>
<g fill="#6A4520"><circle cx="990" cy="272.6" r="0.55"/><circle cx="995" cy="274" r="0.55"/><circle cx="1001" cy="272.4" r="0.55"/><circle cx="1006" cy="273.8" r="0.55"/><circle cx="998" cy="271.6" r="0.55"/></g>
<g><ellipse cx="973.4" cy="310.4" rx="14.6" ry="14.6" fill="#DBAA62" stroke="#2A1B10" stroke-width="1"/></g><circle cx="973.4" cy="310.4" r="12.0" fill="none" stroke="#6A4520" stroke-width="0.6"/><ellipse cx="965.4" cy="306.0" rx="1.0" ry="1.2" fill="#6A4520" stroke="#2A1B10" stroke-width="0.3"/><ellipse cx="971.9" cy="301.6" rx="1.0" ry="1.2" fill="#6A4520" stroke="#2A1B10" stroke-width="0.3"/><ellipse cx="979.2" cy="303.8" rx="1.0" ry="1.2" fill="#6A4520" stroke="#2A1B10" stroke-width="0.3"/><ellipse cx="969.0" cy="309.7" rx="1.0" ry="1.2" fill="#6A4520" stroke="#2A1B10" stroke-width="0.3"/><ellipse cx="976.3" cy="309.7" rx="1.0" ry="1.2" fill="#6A4520" stroke="#2A1B10" stroke-width="0.3"/><ellipse cx="982.5" cy="311.9" rx="1.0" ry="1.2" fill="#6A4520" stroke="#2A1B10" stroke-width="0.3"/><ellipse cx="965.4" cy="315.5" rx="1.0" ry="1.2" fill="#6A4520" stroke="#2A1B10" stroke-width="0.3"/><ellipse cx="972.7" cy="317.0" rx="1.0" ry="1.2" fill="#6A4520" stroke="#2A1B10" stroke-width="0.3"/><ellipse cx="979.2" cy="317.7" rx="1.0" ry="1.2" fill="#6A4520" stroke="#2A1B10" stroke-width="0.3"/>
<path d="M1034.4,303.6 1032.6,306.4 1032.2,309.8 1028.9,310.7 1026.5,313.1 1023.4,311.7 1020.0,311.9 1018.5,308.9 1015.8,306.9 1016.5,303.6 1015.8,300.3 1018.5,298.3 1020.0,295.3 1023.4,295.5 1026.5,294.1 1028.9,296.5 1032.2,297.4 1032.6,300.8Z" fill="#DDB066" stroke="#2A1B10" stroke-width="0.9" stroke-linejoin="round"/><circle cx="1021.0" cy="301.3" r="0.7" fill="#6A4520"/><circle cx="1024.8" cy="299.4" r="0.7" fill="#6A4520"/><circle cx="1028.6" cy="301.7" r="0.7" fill="#6A4520"/><circle cx="1023.6" cy="303.6" r="0.7" fill="#6A4520"/><circle cx="1027.1" cy="305.1" r="0.7" fill="#6A4520"/><circle cx="1021.3" cy="306.7" r="0.7" fill="#6A4520"/><circle cx="1025.6" cy="307.8" r="0.7" fill="#6A4520"/>
<g transform="rotate(-6 998.6 314.4)"><rect x="990.1" y="307.9" width="17.0" height="13.0" rx="1" fill="#E3BC72" stroke="#2A1B10" stroke-width="0.9"/><circle cx="992.2" cy="310.1" r="0.65" fill="#6B4420"/><circle cx="992.2" cy="314.4" r="0.65" fill="#6B4420"/><circle cx="992.2" cy="318.7" r="0.65" fill="#6B4420"/><circle cx="996.5" cy="310.1" r="0.65" fill="#6B4420"/><circle cx="996.5" cy="314.4" r="0.65" fill="#6B4420"/><circle cx="996.5" cy="318.7" r="0.65" fill="#6B4420"/><circle cx="1000.7" cy="310.1" r="0.65" fill="#6B4420"/><circle cx="1000.7" cy="314.4" r="0.65" fill="#6B4420"/><circle cx="1000.7" cy="318.7" r="0.65" fill="#6B4420"/><circle cx="1005.0" cy="310.1" r="0.65" fill="#6B4420"/><circle cx="1005.0" cy="314.4" r="0.65" fill="#6B4420"/><circle cx="1005.0" cy="318.7" r="0.65" fill="#6B4420"/></g>
<g><ellipse cx="1018.4" cy="318.4" rx="10.2" ry="10.2" fill="#C68C4A" stroke="#2A1B10" stroke-width="1"/></g>
<path d="M1012.6,315.6 q2,-1.6 4,0 M1021,319 l-1,3.4 l2,0.6" stroke="#2A1B10" stroke-width="0.8" fill="none"/><circle cx="1016" cy="310.6" r="0.7" fill="#5A3A1C"/>
<ellipse cx="1034.7" cy="325.3" rx="7.6" ry="5.0" fill="#D2A05A" stroke="#2A1B10" stroke-width="0.9"/><ellipse cx="1034.7" cy="325.3" rx="5.2" ry="3.4" fill="none" stroke="#5A3A1C" stroke-width="0.7"/><ellipse cx="1034.7" cy="325.3" rx="3.0" ry="2.0" fill="none" stroke="#5A3A1C" stroke-width="0.7"/>
<g><ellipse cx="950.7" cy="315.4" rx="7.0" ry="7.0" fill="#D6A45C" stroke="#2A1B10" stroke-width="0.9"/><ellipse cx="947.9" cy="312.9" rx="0.8" ry="0.80" fill="#5A3A1E"/><ellipse cx="953.2" cy="312.6" rx="0.8" ry="0.80" fill="#5A3A1E"/><ellipse cx="950.7" cy="315.8" rx="0.8" ry="0.80" fill="#5A3A1E"/><ellipse cx="947.6" cy="318.2" rx="0.8" ry="0.80" fill="#5A3A1E"/><ellipse cx="953.9" cy="317.8" rx="0.8" ry="0.80" fill="#5A3A1E"/></g>
<g transform="rotate(-12 944.6 323.4)"><rect x="937.6" y="317.9" width="14.0" height="11.0" rx="1" fill="#E3BC72" stroke="#2A1B10" stroke-width="0.9"/><circle cx="939.9" cy="319.7" r="0.65" fill="#6B4420"/><circle cx="939.9" cy="323.4" r="0.65" fill="#6B4420"/><circle cx="939.9" cy="327.1" r="0.65" fill="#6B4420"/><circle cx="944.6" cy="319.7" r="0.65" fill="#6B4420"/><circle cx="944.6" cy="323.4" r="0.65" fill="#6B4420"/><circle cx="944.6" cy="327.1" r="0.65" fill="#6B4420"/><circle cx="949.3" cy="319.7" r="0.65" fill="#6B4420"/><circle cx="949.3" cy="323.4" r="0.65" fill="#6B4420"/><circle cx="949.3" cy="327.1" r="0.65" fill="#6B4420"/></g>
<g transform="rotate(4 978.6 326.8)"><rect x="969.6" y="319.1" width="18.0" height="15.4" rx="1" fill="#E6C27C" stroke="#2A1B10" stroke-width="0.9"/><circle cx="972.6" cy="321.7" r="0.65" fill="#6B4420"/><circle cx="972.6" cy="326.8" r="0.65" fill="#6B4420"/><circle cx="972.6" cy="331.9" r="0.65" fill="#6B4420"/><circle cx="978.6" cy="321.7" r="0.65" fill="#6B4420"/><circle cx="978.6" cy="326.8" r="0.65" fill="#6B4420"/><circle cx="978.6" cy="331.9" r="0.65" fill="#6B4420"/><circle cx="984.6" cy="321.7" r="0.65" fill="#6B4420"/><circle cx="984.6" cy="326.8" r="0.65" fill="#6B4420"/><circle cx="984.6" cy="331.9" r="0.65" fill="#6B4420"/></g>
<g><ellipse cx="947.6" cy="334.4" rx="9.0" ry="9.0" fill="#D2A05A" stroke="#2A1B10" stroke-width="0.9"/><ellipse cx="943.1" cy="331.7" rx="0.9" ry="0.90" fill="#5A3A1E"/><ellipse cx="947.6" cy="329.4" rx="0.9" ry="0.90" fill="#5A3A1E"/><ellipse cx="952.1" cy="332.1" rx="0.9" ry="0.90" fill="#5A3A1E"/><ellipse cx="946.2" cy="334.4" rx="0.9" ry="0.90" fill="#5A3A1E"/><ellipse cx="950.3" cy="336.2" rx="0.9" ry="0.90" fill="#5A3A1E"/><ellipse cx="943.6" cy="338.0" rx="0.9" ry="0.90" fill="#5A3A1E"/><ellipse cx="948.5" cy="339.3" rx="0.9" ry="0.90" fill="#5A3A1E"/></g>
<g transform="rotate(-8 964.4 337.0)"><rect x="956.4" y="330.0" width="16.0" height="14.0" rx="1" fill="#E3BC72" stroke="#2A1B10" stroke-width="0.9"/><circle cx="959.1" cy="332.3" r="0.65" fill="#6B4420"/><circle cx="959.1" cy="337.0" r="0.65" fill="#6B4420"/><circle cx="959.1" cy="341.7" r="0.65" fill="#6B4420"/><circle cx="964.4" cy="332.3" r="0.65" fill="#6B4420"/><circle cx="964.4" cy="337.0" r="0.65" fill="#6B4420"/><circle cx="964.4" cy="341.7" r="0.65" fill="#6B4420"/><circle cx="969.7" cy="332.3" r="0.65" fill="#6B4420"/><circle cx="969.7" cy="337.0" r="0.65" fill="#6B4420"/><circle cx="969.7" cy="341.7" r="0.65" fill="#6B4420"/></g>
<g><ellipse cx="1001.8" cy="334.6" rx="14.6" ry="14.6" fill="#DDB066" stroke="#2A1B10" stroke-width="1"/></g><circle cx="1001.8" cy="334.6" r="12.0" fill="none" stroke="#6A4520" stroke-width="0.6"/><ellipse cx="993.8" cy="330.2" rx="1.0" ry="1.2" fill="#6A4520" stroke="#2A1B10" stroke-width="0.3"/><ellipse cx="1000.3" cy="325.8" rx="1.0" ry="1.2" fill="#6A4520" stroke="#2A1B10" stroke-width="0.3"/><ellipse cx="1007.6" cy="328.0" rx="1.0" ry="1.2" fill="#6A4520" stroke="#2A1B10" stroke-width="0.3"/><ellipse cx="997.4" cy="333.9" rx="1.0" ry="1.2" fill="#6A4520" stroke="#2A1B10" stroke-width="0.3"/><ellipse cx="1004.7" cy="333.9" rx="1.0" ry="1.2" fill="#6A4520" stroke="#2A1B10" stroke-width="0.3"/><ellipse cx="1010.9" cy="336.1" rx="1.0" ry="1.2" fill="#6A4520" stroke="#2A1B10" stroke-width="0.3"/><ellipse cx="993.8" cy="339.7" rx="1.0" ry="1.2" fill="#6A4520" stroke="#2A1B10" stroke-width="0.3"/><ellipse cx="1001.1" cy="341.2" rx="1.0" ry="1.2" fill="#6A4520" stroke="#2A1B10" stroke-width="0.3"/><ellipse cx="1007.6" cy="341.9" rx="1.0" ry="1.2" fill="#6A4520" stroke="#2A1B10" stroke-width="0.3"/>
<path d="M1013,324 C1019,330 1020,340 1014,346" fill="none" stroke="#2A1B10" stroke-width="0.8"/>
<g transform="rotate(4 980.4 340.2)"><path d="M969.4,340.2 v1.6 a11.0,4.0 0 0 0 22.0,0 v-1.6Z" fill="#B07A3C" stroke="#2A1B10" stroke-width="0.9"/><ellipse cx="980.4" cy="340.2" rx="11.0" ry="4.0" fill="#D9A860" stroke="#2A1B10" stroke-width="0.9"/><ellipse cx="976.0" cy="338.8" rx="0.6" ry="0.31" fill="#5A3A1E"/><ellipse cx="984.2" cy="338.6" rx="0.6" ry="0.31" fill="#5A3A1E"/><ellipse cx="980.4" cy="340.4" rx="0.6" ry="0.31" fill="#5A3A1E"/><ellipse cx="975.4" cy="341.8" rx="0.6" ry="0.31" fill="#5A3A1E"/><ellipse cx="985.4" cy="341.6" rx="0.6" ry="0.31" fill="#5A3A1E"/></g>
<g><ellipse cx="1023.4" cy="338.8" rx="5.0" ry="6.0" fill="#D6A45C" stroke="#2A1B10" stroke-width="0.9"/></g>
<g transform="rotate(6 964.6 349.0)"><rect x="956.6" y="342.5" width="16.0" height="13.0" rx="1" fill="#E0B56C" stroke="#2A1B10" stroke-width="0.9"/><circle cx="959.3" cy="344.7" r="0.65" fill="#6B4420"/><circle cx="959.3" cy="349.0" r="0.65" fill="#6B4420"/><circle cx="959.3" cy="353.3" r="0.65" fill="#6B4420"/><circle cx="964.6" cy="344.7" r="0.65" fill="#6B4420"/><circle cx="964.6" cy="349.0" r="0.65" fill="#6B4420"/><circle cx="964.6" cy="353.3" r="0.65" fill="#6B4420"/><circle cx="969.9" cy="344.7" r="0.65" fill="#6B4420"/><circle cx="969.9" cy="349.0" r="0.65" fill="#6B4420"/><circle cx="969.9" cy="353.3" r="0.65" fill="#6B4420"/></g>
<g transform="rotate(-14 1023.6 354.0)"><rect x="1013.1" y="345.5" width="21.0" height="17.0" rx="1" fill="#E3BC72" stroke="#2A1B10" stroke-width="0.9"/></g>
<g transform="rotate(-14 1023.6 354)" stroke="#6A4520" stroke-width="0.7" fill="none"><rect x="1015.4" y="348.0" width="4" height="2.4" rx="0.6"/><rect x="1015.4" y="352.2" width="4" height="2.4" rx="0.6"/><rect x="1015.4" y="356.4" width="4" height="2.4" rx="0.6"/><rect x="1021.0" y="348.0" width="4" height="2.4" rx="0.6"/><rect x="1021.0" y="352.2" width="4" height="2.4" rx="0.6"/><rect x="1021.0" y="356.4" width="4" height="2.4" rx="0.6"/><rect x="1026.6" y="348.0" width="4" height="2.4" rx="0.6"/><rect x="1026.6" y="352.2" width="4" height="2.4" rx="0.6"/><rect x="1026.6" y="356.4" width="4" height="2.4" rx="0.6"/></g>
<ellipse cx="971.4" cy="360.6" rx="10.0" ry="10.0" fill="#D2A05A" stroke="#2A1B10" stroke-width="0.9"/><ellipse cx="971.4" cy="360.6" rx="6.8" ry="6.8" fill="none" stroke="#5A3A1C" stroke-width="0.7"/><ellipse cx="971.4" cy="360.6" rx="4.0" ry="4.0" fill="none" stroke="#5A3A1C" stroke-width="0.7"/>
<g><ellipse cx="998.2" cy="355.6" rx="12.0" ry="12.0" fill="#6E4528" stroke="#2A1B10" stroke-width="1"/></g>
<circle cx="998.2" cy="355.6" r="9.6" fill="none" stroke="#3A2010" stroke-width="0.6"/><ellipse cx="992.7" cy="352.6" rx="1.3" ry="1" fill="#E3C088"/><ellipse cx="997.2" cy="349.6" rx="1.3" ry="1" fill="#E3C088"/><ellipse cx="1002.2" cy="351.1" rx="1.3" ry="1" fill="#E3C088"/><ellipse cx="995.2" cy="355.1" rx="1.3" ry="1" fill="#E3C088"/><ellipse cx="1000.2" cy="355.1" rx="1.3" ry="1" fill="#E3C088"/><ellipse cx="1004.4" cy="356.6" rx="1.3" ry="1" fill="#E3C088"/><ellipse cx="992.7" cy="359.1" rx="1.3" ry="1" fill="#E3C088"/><ellipse cx="997.7" cy="360.1" rx="1.3" ry="1" fill="#E3C088"/><ellipse cx="1002.2" cy="360.6" rx="1.3" ry="1" fill="#E3C088"/>
<g transform="rotate(10 987.0 367.6)"><rect x="977.0" y="359.1" width="20.0" height="17.0" rx="2.5" fill="#E3BC72" stroke="#2A1B10" stroke-width="0.9"/><circle cx="980.3" cy="361.9" r="0.65" fill="#6B4420"/><circle cx="980.3" cy="367.6" r="0.65" fill="#6B4420"/><circle cx="980.3" cy="373.3" r="0.65" fill="#6B4420"/><circle cx="987.0" cy="361.9" r="0.65" fill="#6B4420"/><circle cx="987.0" cy="367.6" r="0.65" fill="#6B4420"/><circle cx="987.0" cy="373.3" r="0.65" fill="#6B4420"/><circle cx="993.7" cy="361.9" r="0.65" fill="#6B4420"/><circle cx="993.7" cy="367.6" r="0.65" fill="#6B4420"/><circle cx="993.7" cy="373.3" r="0.65" fill="#6B4420"/></g>
<g><ellipse cx="1011.6" cy="376.6" rx="10.4" ry="10.4" fill="#D6A45C" stroke="#2A1B10" stroke-width="0.9"/><ellipse cx="1006.4" cy="373.5" rx="0.9" ry="0.90" fill="#5A3A1E"/><ellipse cx="1011.6" cy="370.9" rx="0.9" ry="0.90" fill="#5A3A1E"/><ellipse cx="1016.8" cy="374.0" rx="0.9" ry="0.90" fill="#5A3A1E"/><ellipse cx="1010.0" cy="376.6" rx="0.9" ry="0.90" fill="#5A3A1E"/><ellipse cx="1014.7" cy="378.7" rx="0.9" ry="0.90" fill="#5A3A1E"/><ellipse cx="1006.9" cy="380.8" rx="0.9" ry="0.90" fill="#5A3A1E"/><ellipse cx="1012.6" cy="382.3" rx="0.9" ry="0.90" fill="#5A3A1E"/></g>
<ellipse cx="972.0" cy="381.0" rx="8.6" ry="8.6" fill="#CF9A54" stroke="#2A1B10" stroke-width="0.9"/><ellipse cx="972.0" cy="381.0" rx="5.8" ry="5.8" fill="none" stroke="#5A3A1C" stroke-width="0.7"/><ellipse cx="972.0" cy="381.0" rx="3.4" ry="3.4" fill="none" stroke="#5A3A1C" stroke-width="0.7"/>
<g transform="rotate(-5 971.4 399.6)"><rect x="964.4" y="393.6" width="14.0" height="12.0" rx="1" fill="#E0B56C" stroke="#2A1B10" stroke-width="0.9"/><circle cx="966.7" cy="395.6" r="0.65" fill="#6B4420"/><circle cx="966.7" cy="399.6" r="0.65" fill="#6B4420"/><circle cx="966.7" cy="403.6" r="0.65" fill="#6B4420"/><circle cx="971.4" cy="395.6" r="0.65" fill="#6B4420"/><circle cx="971.4" cy="399.6" r="0.65" fill="#6B4420"/><circle cx="971.4" cy="403.6" r="0.65" fill="#6B4420"/><circle cx="976.1" cy="395.6" r="0.65" fill="#6B4420"/><circle cx="976.1" cy="399.6" r="0.65" fill="#6B4420"/><circle cx="976.1" cy="403.6" r="0.65" fill="#6B4420"/></g>
<g><ellipse cx="988.4" cy="397.0" rx="7.0" ry="7.0" fill="#D6A45C" stroke="#2A1B10" stroke-width="0.9"/><ellipse cx="985.6" cy="394.6" rx="0.8" ry="0.80" fill="#5A3A1E"/><ellipse cx="990.9" cy="394.2" rx="0.8" ry="0.80" fill="#5A3A1E"/><ellipse cx="988.4" cy="397.4" rx="0.8" ry="0.80" fill="#5A3A1E"/><ellipse cx="985.2" cy="399.8" rx="0.8" ry="0.80" fill="#5A3A1E"/><ellipse cx="991.5" cy="399.4" rx="0.8" ry="0.80" fill="#5A3A1E"/></g>
<g transform="rotate(24 987 412.6)"><rect x="974" y="409.6" width="26" height="7" fill="#B8803E" stroke="#2A1B10" stroke-width="0.8"/><rect x="974" y="411.6" width="26" height="1.6" fill="#F1E6CC"/></g>
<g transform="rotate(24 988.6 408.4)"><rect x="976.1" y="402.4" width="25.0" height="12.0" rx="1" fill="#DDB066" stroke="#2A1B10" stroke-width="0.9"/><circle cx="978.6" cy="404.4" r="0.65" fill="#6B4420"/><circle cx="978.6" cy="408.4" r="0.65" fill="#6B4420"/><circle cx="978.6" cy="412.4" r="0.65" fill="#6B4420"/><circle cx="983.6" cy="404.4" r="0.65" fill="#6B4420"/><circle cx="983.6" cy="408.4" r="0.65" fill="#6B4420"/><circle cx="983.6" cy="412.4" r="0.65" fill="#6B4420"/><circle cx="988.6" cy="404.4" r="0.65" fill="#6B4420"/><circle cx="988.6" cy="408.4" r="0.65" fill="#6B4420"/><circle cx="988.6" cy="412.4" r="0.65" fill="#6B4420"/><circle cx="993.6" cy="404.4" r="0.65" fill="#6B4420"/><circle cx="993.6" cy="408.4" r="0.65" fill="#6B4420"/><circle cx="993.6" cy="412.4" r="0.65" fill="#6B4420"/><circle cx="998.6" cy="404.4" r="0.65" fill="#6B4420"/><circle cx="998.6" cy="408.4" r="0.65" fill="#6B4420"/><circle cx="998.6" cy="412.4" r="0.65" fill="#6B4420"/></g>
<g transform="rotate(14 1114.6 304.6)"><rect x="1109.1" y="294.6" width="11.0" height="20.0" rx="1" fill="#E0B56C" stroke="#2A1B10" stroke-width="0.9"/><circle cx="1111.8" cy="297.1" r="0.65" fill="#6B4420"/><circle cx="1111.8" cy="302.1" r="0.65" fill="#6B4420"/><circle cx="1111.8" cy="307.1" r="0.65" fill="#6B4420"/><circle cx="1111.8" cy="312.1" r="0.65" fill="#6B4420"/><circle cx="1117.3" cy="297.1" r="0.65" fill="#6B4420"/><circle cx="1117.3" cy="302.1" r="0.65" fill="#6B4420"/><circle cx="1117.3" cy="307.1" r="0.65" fill="#6B4420"/><circle cx="1117.3" cy="312.1" r="0.65" fill="#6B4420"/></g>
<g transform="rotate(16 1125.6 302.0)"><rect x="1117.1" y="288.5" width="17.0" height="27.0" rx="1" fill="#E9C87E" stroke="#2A1B10" stroke-width="0.9"/><circle cx="1119.9" cy="291.2" r="0.65" fill="#6B4420"/><circle cx="1119.9" cy="296.6" r="0.65" fill="#6B4420"/><circle cx="1119.9" cy="302.0" r="0.65" fill="#6B4420"/><circle cx="1119.9" cy="307.4" r="0.65" fill="#6B4420"/><circle cx="1119.9" cy="312.8" r="0.65" fill="#6B4420"/><circle cx="1125.6" cy="291.2" r="0.65" fill="#6B4420"/><circle cx="1125.6" cy="296.6" r="0.65" fill="#6B4420"/><circle cx="1125.6" cy="302.0" r="0.65" fill="#6B4420"/><circle cx="1125.6" cy="307.4" r="0.65" fill="#6B4420"/><circle cx="1125.6" cy="312.8" r="0.65" fill="#6B4420"/><circle cx="1131.3" cy="291.2" r="0.65" fill="#6B4420"/><circle cx="1131.3" cy="296.6" r="0.65" fill="#6B4420"/><circle cx="1131.3" cy="302.0" r="0.65" fill="#6B4420"/><circle cx="1131.3" cy="307.4" r="0.65" fill="#6B4420"/><circle cx="1131.3" cy="312.8" r="0.65" fill="#6B4420"/></g>
<path d="M1120,292.6 l13,3.6" stroke="#2A1B10" stroke-width="0.7"/>
<g fill="#D49A4A" stroke="#2A1B10" stroke-width="0.5"><ellipse cx="1138.8" cy="285.6" rx="1.3" ry="2.2" transform="rotate(25 1138.8 285.6)"/><ellipse cx="1143.6" cy="290.8" rx="2" ry="1.1" transform="rotate(-20 1143.6 290.8)"/></g>
<g transform="rotate(10 1136 310)"><path d="M1131.9,315.5 L1124.3,316.2 C1120.9,317.5 1121.6,323.0 1125.0,322.3 L1130.5,323.7 L1127.1,334.7 C1127.8,338.8 1133.3,338.8 1135.3,334.7 L1136.0,330.6 L1138.1,334.7 C1140.1,338.8 1145.6,338.1 1144.9,334.0 L1141.5,323.7 L1147.0,323.7 C1151.1,323.7 1151.1,318.2 1147.7,317.5 L1140.1,315.5Z" fill="#C98F4A" stroke="#2A1B10" stroke-width="1" stroke-linejoin="round"/><circle cx="1136" cy="310" r="6.9" fill="#C98F4A" stroke="#2A1B10" stroke-width="1"/><circle cx="1133.6" cy="309.0" r="0.9" fill="#4A3626"/><circle cx="1138.7" cy="309.3" r="0.9" fill="#4A3626"/><path d="M1133.3,312.4 Q1136.0,315.5 1139.1,312.4" stroke="#2A1B10" stroke-width="0.7" fill="none"/><circle cx="1136.0" cy="320.3" r="0.7" fill="#5A3A1C"/><circle cx="1136.0" cy="324.4" r="0.7" fill="#5A3A1C"/><circle cx="1136.0" cy="328.5" r="0.7" fill="#5A3A1C"/></g>
<path d="M1092,326 L1100,320.6 L1110,326 L1108,340 L1098,343.6 L1090,338Z" fill="#7A4A2C" stroke="#2A1B10" stroke-width="0.9"/><path d="M1094,330 l7,-3.6 l6,3 M1095,336 l6,-2.6 l6,2.4 M1101,326.6 v15" stroke="#3A2010" stroke-width="0.7" fill="none"/><g fill="#D8B078"><circle cx="1097" cy="333" r="0.8"/><circle cx="1104.6" cy="337" r="0.8"/><circle cx="1104" cy="329.6" r="0.7"/></g>
<g transform="rotate(24 1120.0 328.6)"><rect x="1113.0" y="322.6" width="14.0" height="12.0" rx="1" fill="#E0B56C" stroke="#2A1B10" stroke-width="0.9"/></g>
<path d="M1112.4,346 C1111,336 1115,332.6 1120,333 C1125.6,333.6 1127.6,338 1126.4,346 L1128.6,352 L1126,358 L1112,358 L1110.6,352Z" fill="#DDB066" stroke="#2A1B10" stroke-width="0.9"/><circle cx="1117.4" cy="339.6" r="0.8" fill="#4A3626"/><circle cx="1122" cy="339.6" r="0.8" fill="#4A3626"/><path d="M1117,343 q2.6,2 5,0" stroke="#2A1B10" stroke-width="0.6" fill="none"/><g fill="none" stroke="#6A4520" stroke-width="0.6"><circle cx="1119.4" cy="348" r="0.9"/><circle cx="1119.2" cy="351.6" r="0.9"/><circle cx="1119" cy="355" r="0.9"/></g>
<path d="M1094,352 C1093,345 1097,342 1102,343 C1108,344 1110,349 1108,356 L1109,368 L1095,366Z" fill="#C9934F" stroke="#2A1B10" stroke-width="0.9"/><circle cx="1101" cy="349" r="1.1" fill="#6A4520"/><circle cx="1102" cy="358" r="0.9" fill="#6A4520"/>
<g><ellipse cx="1119.2" cy="365.4" rx="5.4" ry="6.4" fill="#DDB066" stroke="#2A1B10" stroke-width="0.9"/><ellipse cx="1117.6" cy="363.5" rx="0.6" ry="0.60" fill="#5A3A1E"/><ellipse cx="1120.8" cy="363.5" rx="0.6" ry="0.60" fill="#5A3A1E"/><ellipse cx="1119.2" cy="367.3" rx="0.6" ry="0.60" fill="#5A3A1E"/></g>
<ellipse cx="1132.6" cy="366.0" rx="6.6" ry="8.6" fill="#D2A05A" stroke="#2A1B10" stroke-width="0.9"/><ellipse cx="1132.6" cy="366.0" rx="4.5" ry="5.8" fill="none" stroke="#5A3A1C" stroke-width="0.7"/><ellipse cx="1132.6" cy="366.0" rx="2.6" ry="3.4" fill="none" stroke="#5A3A1C" stroke-width="0.7"/>
<g transform="rotate(-8 1155.8 348.6)"><path d="M1151.5,354.3 L1143.7,355.0 C1140.1,356.5 1140.8,362.2 1144.4,361.5 L1150.1,362.9 L1146.5,374.3 C1147.2,378.6 1152.9,378.6 1155.1,374.3 L1155.8,370.0 L1157.9,374.3 C1160.1,378.6 1165.8,377.9 1165.1,373.6 L1161.5,362.9 L1167.2,362.9 C1171.5,362.9 1171.5,357.2 1167.9,356.5 L1160.1,354.3Z" fill="#C98F4A" stroke="#2A1B10" stroke-width="1" stroke-linejoin="round"/><circle cx="1155.8" cy="348.6" r="7.1" fill="#C98F4A" stroke="#2A1B10" stroke-width="1"/><circle cx="1153.3" cy="347.5" r="0.9" fill="#4A3626"/><circle cx="1158.7" cy="347.9" r="0.9" fill="#4A3626"/><path d="M1152.9,351.1 Q1155.8,354.3 1159.0,351.1" stroke="#2A1B10" stroke-width="0.7" fill="none"/><circle cx="1155.8" cy="359.3" r="0.7" fill="#5A3A1C"/><circle cx="1155.8" cy="363.6" r="0.7" fill="#5A3A1C"/><circle cx="1155.8" cy="367.9" r="0.7" fill="#5A3A1C"/></g>
<g transform="rotate(-10 1103.4 374.4)"><rect x="1096.9" y="369.9" width="13.0" height="9.0" rx="1" fill="#DDB066" stroke="#2A1B10" stroke-width="0.9"/></g>
<path d="M1098,372 l10,-2 M1098.6,375 l10,-2 M1099,378 l10,-2" stroke="#6A4520" stroke-width="0.6"/>
<g transform="rotate(20 1118.6 381.6)"><ellipse cx="1118.6" cy="381.6" rx="8.6" ry="10.0" fill="#6E4528" stroke="#2A1B10" stroke-width="1"/></g>
<g transform="rotate(20 1118.6 381.6)"><ellipse cx="1118.6" cy="381.6" rx="6" ry="7.4" fill="none" stroke="#3A2010" stroke-width="0.6"/><g fill="#D8B078"><circle cx="1116" cy="378" r="0.8"/><circle cx="1121" cy="380" r="0.8"/><circle cx="1117" cy="384" r="0.8"/><circle cx="1120.6" cy="386" r="0.7"/></g></g>
<g transform="rotate(20 1130.0 383.0)"><ellipse cx="1130.0" cy="383.0" rx="5.0" ry="9.0" fill="#D6A45C" stroke="#2A1B10" stroke-width="0.9"/></g>
<g transform="rotate(-18 1094.6 405.4)"><rect x="1086.1" y="398.4" width="17.0" height="14.0" rx="1" fill="#E3BC72" stroke="#2A1B10" stroke-width="0.9"/><circle cx="1088.9" cy="400.7" r="0.65" fill="#6B4420"/><circle cx="1088.9" cy="405.4" r="0.65" fill="#6B4420"/><circle cx="1088.9" cy="410.1" r="0.65" fill="#6B4420"/><circle cx="1094.6" cy="400.7" r="0.65" fill="#6B4420"/><circle cx="1094.6" cy="405.4" r="0.65" fill="#6B4420"/><circle cx="1094.6" cy="410.1" r="0.65" fill="#6B4420"/><circle cx="1100.3" cy="400.7" r="0.65" fill="#6B4420"/><circle cx="1100.3" cy="405.4" r="0.65" fill="#6B4420"/><circle cx="1100.3" cy="410.1" r="0.65" fill="#6B4420"/></g>
<g transform="rotate(16 1112.8 404.0)"><rect x="1104.8" y="392.5" width="16.0" height="23.0" rx="1" fill="#DDB066" stroke="#2A1B10" stroke-width="0.9"/><circle cx="1107.5" cy="395.4" r="0.65" fill="#6B4420"/><circle cx="1107.5" cy="401.1" r="0.65" fill="#6B4420"/><circle cx="1107.5" cy="406.9" r="0.65" fill="#6B4420"/><circle cx="1107.5" cy="412.6" r="0.65" fill="#6B4420"/><circle cx="1112.8" cy="395.4" r="0.65" fill="#6B4420"/><circle cx="1112.8" cy="401.1" r="0.65" fill="#6B4420"/><circle cx="1112.8" cy="406.9" r="0.65" fill="#6B4420"/><circle cx="1112.8" cy="412.6" r="0.65" fill="#6B4420"/><circle cx="1118.1" cy="395.4" r="0.65" fill="#6B4420"/><circle cx="1118.1" cy="401.1" r="0.65" fill="#6B4420"/><circle cx="1118.1" cy="406.9" r="0.65" fill="#6B4420"/><circle cx="1118.1" cy="412.6" r="0.65" fill="#6B4420"/></g>
<rect x="1110.6" y="395.6" width="6" height="6" fill="none" stroke="#2A1B10" stroke-width="0.6" transform="rotate(16 1112.8 404)"/>
<g transform="rotate(20 1084.0 398.0)"><rect x="1078.0" y="393.0" width="12.0" height="10.0" rx="1" fill="#E0B56C" stroke="#2A1B10" stroke-width="0.9"/><circle cx="1081.0" cy="395.5" r="0.65" fill="#6B4420"/><circle cx="1081.0" cy="400.5" r="0.65" fill="#6B4420"/><circle cx="1087.0" cy="395.5" r="0.65" fill="#6B4420"/><circle cx="1087.0" cy="400.5" r="0.65" fill="#6B4420"/></g>
<g transform="rotate(-28 1026.0 398.0)"><rect x="1019.0" y="392.5" width="14.0" height="11.0" rx="1" fill="#E0B56C" stroke="#2A1B10" stroke-width="0.9"/><circle cx="1021.3" cy="395.2" r="0.65" fill="#6B4420"/><circle cx="1021.3" cy="400.8" r="0.65" fill="#6B4420"/><circle cx="1026.0" cy="395.2" r="0.65" fill="#6B4420"/><circle cx="1026.0" cy="400.8" r="0.65" fill="#6B4420"/><circle cx="1030.7" cy="395.2" r="0.65" fill="#6B4420"/><circle cx="1030.7" cy="400.8" r="0.65" fill="#6B4420"/></g>
<g transform="rotate(18 1034.0 386.0)"><rect x="1028.0" y="381.0" width="12.0" height="10.0" rx="1" fill="#DDB066" stroke="#2A1B10" stroke-width="0.9"/><circle cx="1031.0" cy="383.5" r="0.65" fill="#6B4420"/><circle cx="1031.0" cy="388.5" r="0.65" fill="#6B4420"/><circle cx="1037.0" cy="383.5" r="0.65" fill="#6B4420"/><circle cx="1037.0" cy="388.5" r="0.65" fill="#6B4420"/></g>
<path d="M932,481 C931,488 930.4,492 932,495.4 C942,500 960,505 971,503.8 C973.8,500 971,496 965,494 C961,492 959,489 958.6,484.6Z" fill="#8E5A34" stroke="#2A1B10" stroke-width="1"/>
<path d="M932,493.4 C942,498 960,503 971.6,501.6 L971,503.8 C960,505 942,500 932,495.4Z" fill="#4E2C14"/><ellipse cx="962.6" cy="497" rx="2.6" ry="0.9" fill="#D0DCE6"/><path d="M948,489 l5,-1.6 M950,491.6 l5,-1.6 M952.6,494 l4.4,-1.4" stroke="#3A2010" stroke-width="0.6"/>
<path d="M903,490 C902,498 901,503 903,506.4 C912,510.6 928,513.4 938,512 C940.8,508 938,503 932,501 C927,499 924,495 922,490.6Z" fill="#8E5A34" stroke="#2A1B10" stroke-width="1"/>
<path d="M902.6,504.4 C912,508.8 928,511.6 938.8,510 L938,512 C928,513.4 912,510.6 903,506.4Z" fill="#4E2C14"/><ellipse cx="929.4" cy="505" rx="2.8" ry="0.9" fill="#D0DCE6"/><path d="M914,497 l5.6,-1.6 M916,500 l5.4,-1.6 M918.6,502.6 l4.8,-1.4" stroke="#3A2010" stroke-width="0.6"/>
<path d="M922,428 C924,420 940,417 955,419 C964,421 970.6,426 970.4,432 C970,446 966,466 960.4,486 L931.4,482 C934,468 937,456 938.4,449 C934,444 926,440 922,436Z" fill="#7E7764" stroke="#2A1B10" stroke-width="1.1"/>
<path d="M876,432.6 C880,424 886,417 894,416.4 C905,417 916,421 923,428 C926.4,440 926.4,462 925.6,491.4 L894.4,491.4 C894,470 892,450 889.6,441 C884,440 879,437 876,432.6Z" fill="#7E7764" stroke="#2A1B10" stroke-width="1.1"/>
<path d="M905,424 C902,440 902,470 903.4,490 M914,428 C916,450 916,470 915,490 M898,432 l-3,8 M944,430 C942,446 940,466 937.6,482 M956,432 C956,450 953,470 950,484 M962,428 l3,8" stroke="#676150" stroke-width="0.9" fill="none"/>
<path d="M879,436 C886,440 896,441 904,438" stroke="#2A1B10" stroke-width="0.7" fill="none"/>
<path d="M890,404 L931,404 L931,417 L920,424.4 L910,419 L892,420Z" fill="#D6B26C" stroke="#2A1B10" stroke-width="0.9"/><path d="M910,405 v14" stroke="#2A1B10" stroke-width="0.7"/>
<g fill="#8A6A34"><circle cx="895" cy="410" r="0.5"/><circle cx="899" cy="414" r="0.5"/><circle cx="903" cy="409" r="0.5"/><circle cx="906" cy="415" r="0.5"/><circle cx="914" cy="410" r="0.5"/><circle cx="918" cy="415" r="0.5"/><circle cx="922" cy="410" r="0.5"/><circle cx="926" cy="414" r="0.5"/><circle cx="897" cy="417" r="0.5"/><circle cx="916" cy="419" r="0.5"/></g><circle cx="912" cy="412" r="1" fill="#6A5A3A"/>
<path d="M873,329 L863.4,332 C855,338 849,348 844,364 C841.6,376 841.4,390 842.3,398.6 C850,402.6 858,403.4 863.4,402.6 L874.7,412 L876,431 L891.6,416.6 L893,404 L929,404 L929.5,416 L939,422.6 C950,421.4 958,418.4 960,417 C965,410 968,402 966.6,390 C966,378 962,362 953,346.4 C947,338 940,334 933.4,332.3 L925,340 L905,346 L886,338Z" fill="url(#gJk)" stroke="#2A1B10" stroke-width="1.1"/>
<path d="M873,329 L863.4,332 C855,338 849,348 844,364 C841.6,376 841.4,390 842.3,398.6 C850,402.6 858,403.4 863.4,402.6 L874.7,412 L876,431 L891.6,416.6 L893,404 L929,404 L929.5,416 L939,422.6 C950,421.4 958,418.4 960,417 C965,410 968,402 966.6,390 C966,378 962,362 953,346.4 C947,338 940,334 933.4,332.3 L925,340 L905,346 L886,338Z" fill="url(#pTweed)"/>
<path d="M884,334 L905.6,346 L928,338 L926,367 L892,367Z" fill="#F6F3EC" stroke="#2A1B10" stroke-width="0.8"/>
<path d="M886,338 L896,352 L903,347.6 M927,340 L917.6,352.6 L911,347.6" fill="none" stroke="#2A1B10" stroke-width="0.8"/>
<path d="M899.4,347 L914,347 L911.4,354.6 L913.6,366 L901.2,366 L902.8,354.6Z" fill="#3F6FA2" stroke="#2A1B10" stroke-width="0.8"/><path d="M902.8,354.6 h8.6" stroke="#1E3A5E" stroke-width="0.7"/><path d="M905,357 l-1,8 M908.6,357 l1,8" stroke="#2E5580" stroke-width="0.6"/>
<path d="M873,329 L884,335 L896.6,352.4 L891,367 L881,356 L886,351 L873.6,339Z" fill="#94876A" stroke="#2A1B10" stroke-width="0.9"/>
<path d="M933.4,332.3 L927.6,338.6 L917.6,352.6 L926,368 L936,355 L931.6,350.6 L940,338Z" fill="#8E8264" stroke="#2A1B10" stroke-width="0.9"/>
<path d="M866,340 C858,352 856,366 857,378 M849.4,377.7 C858,376.6 870,378 878.9,379.8 M863.4,402.6 C872,402 878,399 880.3,396.7 M953,352 C957,364 958,376 956,386 M938,380 C946,381 956,384 962,388 M939,399.4 C948,402 956,402 964,400" stroke="#2A1B10" stroke-width="0.8" fill="none"/>
<path d="M937,366 h9 v1.6 h-9Z" fill="#6E6450" stroke="#2A1B10" stroke-width="0.5"/>
<circle cx="888" cy="402.6" r="1.1" fill="#5E553F" stroke="#2A1B10" stroke-width="0.4"/><circle cx="885.6" cy="414.6" r="1.1" fill="#5E553F" stroke="#2A1B10" stroke-width="0.4"/>
<path d="M892.4,366 L925.6,366 L925,407.6 L893.4,407.6Z" fill="#CDBCA2" stroke="#2A1B10" stroke-width="0.9"/>
<path d="M893,367.4 H925" stroke="#2E2A26" stroke-width="2" stroke-dasharray="1 1.1"/>
<path d="M878.6,379.6 L883.4,380 L883.6,399 L879,399.6Z" fill="#F6F3EC" stroke="#2A1B10" stroke-width="0.7"/><path d="M934,380 L939.2,379.6 L939.6,399.4 L934.6,399Z" fill="#F6F3EC" stroke="#2A1B10" stroke-width="0.7"/>
<path d="M883,378.6 C888,375.6 898,375 904,377 C907.6,378.4 907.6,381.6 905,382.4 C908,383.4 908.4,387 905.6,387.8 C907.6,389.4 907,392.4 904.4,392.8 C905,395 903,396.8 900,396.4 C894,396.6 887,396 883.4,394Z" fill="#F4CDAB" stroke="#2A1B10" stroke-width="0.9"/>
<path d="M893,382.4 H905 M892,387.8 H905.6 M893,392.8 H904.4" stroke="#2A1B10" stroke-width="0.7"/>
<path d="M934.6,379 C929,376.4 920,376.4 914.6,378.4 C911,380 911.4,383 914,383.8 C911,385 911,388.4 913.6,389.2 C911.8,391 912.4,393.8 915,394.2 C914.6,396.6 917,398.2 920,397.8 C926,398 931,397 934.8,395Z" fill="#F4CDAB" stroke="#2A1B10" stroke-width="0.9"/>
<path d="M926,383.8 H914 M927,389.2 H913.6 M926,394.2 H915" stroke="#2A1B10" stroke-width="0.7"/>
<g fill="#C88A6A"><circle cx="889" cy="384" r="0.45"/><circle cx="889" cy="388" r="0.45"/><circle cx="889.4" cy="392" r="0.45"/><circle cx="898" cy="380" r="0.45"/><circle cx="901" cy="385" r="0.45"/><circle cx="901" cy="390" r="0.45"/><circle cx="928" cy="385" r="0.45"/><circle cx="928.6" cy="390" r="0.45"/><circle cx="921" cy="381" r="0.45"/><circle cx="918" cy="386.6" r="0.45"/><circle cx="918" cy="392" r="0.45"/></g>
<ellipse cx="877.6" cy="303" rx="4.4" ry="6" fill="#F4CDAB" stroke="#2A1B10" stroke-width="0.9"/><path d="M877,300.6 q2,2 0.6,5" stroke="#2A1B10" stroke-width="0.6" fill="none"/>
<path d="M881,304 C879,287 888,273.4 903,273.4 C918,273.4 926,285 925,300 C925,316 920,330 903,331 C888,331 882,318 881,304Z" fill="#F4CDAB" stroke="#2A1B10" stroke-width="1"/>
<path d="M883,302 C879,298 877,292 879,287 C876.6,288 875,286 874,284.6 C876,284.4 878,283.6 880,282 C878.6,281.4 877.6,280 877,278.4 C880,280 883,280.6 886,279.6 C884,285 883.4,294 883,302Z" fill="#8E5226" stroke="#2A1B10" stroke-width="0.6"/>
<path d="M923.6,286 C925.6,284.6 926.6,282 926,279.4 C927.6,281 928,283 927.6,285.6 C927,288 925.4,290 924.6,292Z" fill="#8E5226" stroke="#2A1B10" stroke-width="0.5"/>
<path d="M890,278.6 C893,272 899,268.6 904,267.6 M893,276.6 C897,270.6 904,268 911,268.4 M897,275.4 C902,270.6 909,269.4 916,271 M884,282 C883,277.6 884,274 886,272 M881.6,284 C880,280 880,276.6 881,274" stroke="#2E2A26" stroke-width="0.7" fill="none"/>
<ellipse cx="889.6" cy="306.6" rx="4.6" ry="3.4" fill="#F2A79A" opacity="0.75" filter="url(#bs)"/><ellipse cx="921" cy="304" rx="3.4" ry="3.4" fill="#F2A79A" opacity="0.75" filter="url(#bs)"/>
<path d="M882.6,300 C879,306 876.6,314 877.6,320 C878,330 884,338 892,342 C899,346 910,347 918,344 C927,341 933,334 933,325 C933.4,317 930,308 926,300.6 C925,306 924.6,311 923.9,313.8 C921,309 915,306.4 908,306.6 C903,306.8 898.6,308.6 896.4,311.8 C893,314.6 888,312 886,308 C884,305 883,302 882.6,300Z" fill="url(#gBeard)" stroke="#2A1B10" stroke-width="1"/>
<g stroke="#5E2E10" stroke-width="0.6" fill="none" opacity="0.8"><path d="M883,312 q-0.6,1.6 0,3"/><path d="M886,318 q-0.6,1.6 0,3"/><path d="M884,325 q-0.6,1.6 0,3"/><path d="M889,323 q-0.6,1.6 0,3"/><path d="M888,331 q-0.6,1.6 0,3"/><path d="M893,328 q-0.6,1.6 0,3"/><path d="M894,336 q-0.6,1.6 0,3"/><path d="M898,332 q-0.6,1.6 0,3"/><path d="M899,340 q-0.6,1.6 0,3"/><path d="M904,336 q-0.6,1.6 0,3"/><path d="M905,343 q-0.6,1.6 0,3"/><path d="M909,338 q-0.6,1.6 0,3"/><path d="M911,344 q-0.6,1.6 0,3"/><path d="M914,337 q-0.6,1.6 0,3"/><path d="M917,341 q-0.6,1.6 0,3"/><path d="M919,334 q-0.6,1.6 0,3"/><path d="M923,338 q-0.6,1.6 0,3"/><path d="M924,330 q-0.6,1.6 0,3"/><path d="M928,333 q-0.6,1.6 0,3"/><path d="M928,324 q-0.6,1.6 0,3"/><path d="M930,318 q-0.6,1.6 0,3"/><path d="M926,318 q-0.6,1.6 0,3"/><path d="M927,311 q-0.6,1.6 0,3"/><path d="M891,317 q-0.6,1.6 0,3"/><path d="M897,325 q-0.6,1.6 0,3"/><path d="M903,329 q-0.6,1.6 0,3"/><path d="M909,331 q-0.6,1.6 0,3"/><path d="M915,329 q-0.6,1.6 0,3"/><path d="M921,325 q-0.6,1.6 0,3"/><path d="M899,318 q-0.6,1.6 0,3"/><path d="M919,318 q-0.6,1.6 0,3"/></g>
<path d="M901.4,318 C903,313.6 907,312 911,312.2 C915,312.4 918.6,314.4 919,318.4 C917.6,322.8 913,324 909.6,323.8 C905.6,323.6 902.2,321.6 901.4,318Z" fill="#F4CDAB"/>
<path d="M903,316.6 C906,313.4 913,312.8 917,315.4 C916.4,319.6 912,321.4 909,321.2 C906,321 903.6,319.4 903,316.6Z" fill="#6A1E1E" stroke="#2A1B10" stroke-width="0.8"/><path d="M904.6,316 C907,314 913,313.6 915.8,315.6 L914.6,317 C912,315.8 908,316 905.6,317.2Z" fill="#FBF8F2"/><path d="M906,319.4 C908,318 912,318 914,319 C912.6,320.8 908,321 906,319.4Z" fill="#E8686C"/>
<path d="M896.4,312.6 C898,308 903,305.6 908.6,305.8 C915,305.8 921,308 924,313.8 C920,311.4 915,311 911,311.2 C905,311 900,312 896.4,312.6Z" fill="#A05C28" stroke="#2A1B10" stroke-width="0.8"/>
<ellipse cx="908.8" cy="301.4" rx="5.5" ry="5.3" fill="#F2A596" stroke="#2A1B10" stroke-width="0.8"/><ellipse cx="907.4" cy="299.6" rx="1.6" ry="1.2" fill="#FBD2C8" opacity="0.9"/>
<path d="M881,301.4 L889.6,297" stroke="#4A2E1A" stroke-width="1.6"/>
<circle cx="896.8" cy="293.2" r="7.0" fill="#F1F0EA" stroke="#2A1B10" stroke-width="3.2"/><circle cx="896.8" cy="293.2" r="7.0" fill="none" stroke="#5E3C22" stroke-width="1.7"/><circle cx="897.4" cy="293.59999999999997" r="4.4" fill="#FFFFFF"/>
<circle cx="915.6" cy="291.2" r="6.7" fill="#F1F0EA" stroke="#2A1B10" stroke-width="3.2"/><circle cx="915.6" cy="291.2" r="6.7" fill="none" stroke="#5E3C22" stroke-width="1.7"/><circle cx="916.2" cy="291.59999999999997" r="4.1" fill="#FFFFFF"/>
<path d="M903.8,291.6 C905.6,289.6 907.6,289.4 909.4,290.6" stroke="#2A1B10" stroke-width="2.4" fill="none"/><path d="M903.8,291.6 C905.6,289.6 907.6,289.4 909.4,290.6" stroke="#5A3A22" stroke-width="1.2" fill="none"/>
<circle cx="899.4" cy="294.4" r="1.7" fill="#111"/><circle cx="913.6" cy="292.6" r="1.7" fill="#111"/><path d="M893,290 q1,-2 3,-2.4 M919,287.4 q1.6,0.6 2.2,2.4" stroke="#C8C4BC" stroke-width="0.7" fill="none"/>
<path d="M887.6,282.6 C890,279.4 895,278.4 899,280.6" stroke="#1E1610" stroke-width="2" fill="none" stroke-linecap="round"/><path d="M909.4,278.6 C913,276.8 917.6,277.8 920,280.8" stroke="#1E1610" stroke-width="2" fill="none" stroke-linecap="round"/>
<path d="M1011.6,447.6 L1020.6,445.6 C1022,455 1028,462 1034,468 C1037.4,472 1036,478 1031,480.4 C1026,484 1022.6,490 1020.6,496 C1016,499.6 1006,497.6 1003,493 C1002,489 1008,480 1014,470 C1016,462 1014,455 1011.6,447.6Z" fill="#F1D9C0" stroke="#2A1B10" stroke-width="1"/>
<path d="M1006,492 q1,2.6 0.4,4 M1009.6,493.4 q1,2.6 0.4,4 M1013.4,494 q1,2.4 0.4,3.8 M1017,493.6 q0.8,2 0.2,3.4" stroke="#2A1B10" stroke-width="0.6" fill="none"/><ellipse cx="1031.6" cy="474" rx="3" ry="3.6" fill="#F0B8A8" opacity="0.6"/><path d="M1016,462 l3,1 M1015.6,465 l3,1 M1015,468 l3,1" stroke="#6A5A50" stroke-width="0.5"/>
<path d="M1093.4,467.4 L1104.2,470.8 L1096,487 C1102,490 1108,494 1112,498 C1114.8,502 1112,506.2 1107,505.8 C1100,504 1092,500 1084,497 C1078,495 1077,490 1081,487 C1085,484 1088,478 1093.4,467.4Z" fill="#F1D9C0" stroke="#2A1B10" stroke-width="1"/>
<path d="M1102,498.6 q1.6,2 1.4,4.6 M1105.4,499.6 q1.6,2 1.4,4.4 M1108.6,500 q1.4,1.6 1.2,3.6" stroke="#2A1B10" stroke-width="0.6" fill="none"/><ellipse cx="1081.6" cy="491" rx="2.6" ry="3" fill="#F0B8A8" opacity="0.6"/><path d="M1091,480 l3,1.4 M1090,483 l3,1.4" stroke="#6A5A50" stroke-width="0.5"/>
<path d="M1050,409 L1080.5,411.2 L1118.4,415 C1126,416 1132.4,419 1132,423.4 C1131,428 1124,440 1118.4,447.5 L1104.6,471.4 L1092.8,467.6 L1104.4,450.3 L1112.8,429.6 L1055,427.4 L1038,428.6Z" fill="#5C7999" stroke="#2A1B10" stroke-width="1.1"/>
<path d="M1034.6,407 L1080,407 L1084,413 L1082,428 L1036,428 L1030,416Z" fill="#5C7999" stroke="#2A1B10" stroke-width="0.9"/>
<path d="M1052,409 v12 M1049,409 q-1,8 -6,12 M1040,413 q8,2 12,1" stroke="#3A5270" stroke-width="0.8" fill="none"/>
<path d="M1118,419 l6,3 M1116,422.6 l6,3 M1114,426 l5,2.4 M1060,418 l30,2 M1090,424 l16,1" stroke="#3A5270" stroke-width="0.8" fill="none"/>
<path d="M985.6,384 C985,376 989,371.6 995,372 C1000,372.6 1004,375 1008,380 L1034.7,407.6 L1050,410 L1040,428.6 L1023.4,422.6 L1011,415 L1013,421 L1021,445.4 L1010.6,448 L998.1,411 L988.3,390Z" fill="#5C7999" stroke="#2A1B10" stroke-width="1.1"/>
<path d="M995,380 L1011,415 M992,378 l5,-1 M1000,392 l3,5 M1003,430 l2,5 M1012,440.6 l8,-2" stroke="#3A5270" stroke-width="0.8" fill="none"/><circle cx="1012.6" cy="435.6" r="0.8" fill="#3A3020"/>
<path d="M1038,404.4 H1079.6 V408.4 H1037Z" fill="#8B7355" stroke="#2A1B10" stroke-width="0.7"/><rect x="1051" y="404" width="8" height="4.6" fill="#B0A48C" stroke="#2A1B10" stroke-width="0.6"/>
<path d="M1030,365 L1017.4,388 C1016.4,393 1019,396.8 1023,395.4 L1046.6,362 L1040.6,354.6 L1035,362Z" fill="#F1D9C0" stroke="#2A1B10" stroke-width="0.9"/><path d="M1036,366 L1021.6,390" stroke="#2A1B10" stroke-width="0.7"/>
<path d="M1077.6,364 L1084,357.6 L1090,364 L1097.4,366 L1106,390 C1107,395.4 1103,398.4 1099,396.4Z" fill="#F1D9C0" stroke="#2A1B10" stroke-width="0.9"/><path d="M1089,368 L1101,393" stroke="#2A1B10" stroke-width="0.7"/>
<g fill="#B8784A"><circle cx="1024" cy="384" r="0.45"/><circle cx="1027" cy="378" r="0.45"/><circle cx="1031" cy="372" r="0.45"/><circle cx="1022" cy="390" r="0.45"/><circle cx="1029" cy="384" r="0.45"/><circle cx="1034" cy="376" r="0.45"/><circle cx="1040" cy="366" r="0.45"/><circle cx="1095" cy="376" r="0.45"/><circle cx="1098" cy="384" r="0.45"/><circle cx="1101" cy="390" r="0.45"/><circle cx="1092" cy="372" r="0.45"/><circle cx="1088" cy="368" r="0.45"/><circle cx="1096" cy="388" r="0.45"/><circle cx="1084" cy="366" r="0.45"/></g>
<path d="M1046,350 L1034,350 C1030,356 1028.4,362 1028.4,367.5 L1040,372 C1042,380 1040,395 1034.6,405 L1079.8,405 C1079,395 1081,380 1084,371 L1096.6,369 C1099.4,362 1097,350 1090,343.6 L1078,350Z" fill="#F3F0E9" stroke="#2A1B10" stroke-width="1"/>
<path d="M1046,392 q6,2 12,0 M1044,399 q10,3 20,0 M1066,398 q6,2 10,-1 M1074,376 q-2,8 -1,16" stroke="#B8B4AC" stroke-width="0.7" fill="none"/>
<path d="M1055,352 C1058,362 1066,368 1070,367.6 C1075,366 1078,358 1078,352Z" fill="#F1D9C0" stroke="#2A1B10" stroke-width="0.8"/>
<g fill="#B8784A"><circle cx="1060" cy="358" r="0.4"/><circle cx="1063" cy="361" r="0.4"/><circle cx="1067" cy="363" r="0.4"/><circle cx="1071" cy="360" r="0.4"/><circle cx="1066" cy="358" r="0.4"/><circle cx="1074" cy="357" r="0.4"/></g>
<path d="M1046.6,377 C1048,380 1050,380 1051,378 C1053,381 1056,384 1055.6,387 C1055,389.6 1052,388.6 1050,389.6 C1048,391 1045,390 1044.6,387.6 C1044.2,384 1046.2,381 1046.6,377Z" fill="#9A6236" stroke="#6A3E1C" stroke-width="0.5"/>
<path d="M1070,381 C1072,379.6 1074,380 1074.6,382 C1077,382.6 1077.6,385 1076,386.6 C1076.4,389 1073.6,389.6 1072,388 C1069.6,388 1068.6,385.6 1070,384 C1069,383 1069,382 1070,381Z" fill="#9A6236" stroke="#6A3E1C" stroke-width="0.5"/>
<g fill="#9A6236"><ellipse cx="1069.6" cy="394.6" rx="2.6" ry="1.4" transform="rotate(20 1069.6 394.6)"/><ellipse cx="1072.6" cy="372.6" rx="2.4" ry="1" transform="rotate(-30 1072.6 372.6)"/><circle cx="1033.6" cy="358" r="0.9"/><circle cx="1035.6" cy="361.6" r="0.8"/><circle cx="1032.6" cy="364" r="0.7"/><circle cx="1090.6" cy="352.6" r="0.9"/><circle cx="1093" cy="358.6" r="0.8"/><circle cx="1091" cy="363" r="0.7"/></g>
<path d="M1053.1,293.9Q1038.6,283.5 1033.2,289.2M1054.3,293.5Q1041.0,287.4 1036.0,296.3M1055.9,292.8Q1044.0,286.3 1039.5,301.9M1055.2,291.5Q1042.7,274.8 1038.0,282.0M1057.4,290.2Q1047.0,270.2 1043.0,275.2M1060.1,288.8Q1052.2,266.8 1049.0,272.0M1062.8,285.1Q1057.3,264.8 1055.0,270.2M1065.9,285.1Q1063.4,263.1 1062.0,268.6M1069.7,286.4Q1070.7,265.6 1070.5,269.5M1073.0,286.2Q1077.2,266.5 1078.0,271.6M1076.8,290.5Q1084.6,271.7 1086.6,278.0M1078.3,293.1Q1087.5,273.9 1090.0,281.0M1079.7,292.5Q1090.1,279.5 1093.0,285.0M1080.9,294.9Q1092.5,288.6 1095.8,296.3M1080.3,295.2Q1091.3,288.4 1094.4,303.3M1058.3,288.4Q1048.7,281.7 1045.0,304.0M1077.9,291.6Q1086.7,286.3 1089.0,306.0M1058.8,290.0Q1049.6,273.6 1046.0,279.0M1075.2,288.0Q1081.5,268.0 1083.0,274.0M1053.9,294.0Q1040.1,284.6 1035.0,292.0M1055.0,293.7Q1042.3,288.3 1037.6,299.0M1056.6,290.1Q1045.3,272.2 1041.0,278.0M1056.4,291.3Q1044.9,279.6 1040.6,286.0M1061.4,287.9Q1054.8,267.4 1052.0,273.6M1064.4,284.4Q1060.5,267.1 1058.6,271.0M1067.7,285.0Q1066.8,266.4 1066.0,270.6M1071.2,287.1Q1073.7,267.2 1074.0,272.6M1074.3,287.2Q1079.8,269.5 1081.0,276.0M1077.4,291.1Q1085.8,278.4 1088.0,283.6M1079.2,294.0Q1089.3,283.9 1092.0,290.0M1079.8,292.7Q1090.5,285.9 1093.4,299.6M1079.0,292.8Q1088.9,285.6 1091.6,303.0M1057.7,291.0Q1047.5,286.0 1043.6,301.0M1059.5,287.3Q1051.0,277.7 1047.6,283.0M1076.1,289.8Q1083.2,275.4 1085.0,281.6M1057.3,291.4Q1046.7,284.5 1042.6,294.0M1077.7,290.4Q1086.3,285.2 1088.6,296.0" stroke="#2A2826" stroke-width="0.8" fill="none" stroke-linecap="round"/>
<path d="M1052,298 C1052,288 1060,284 1066.4,284 C1074,284 1081.6,288 1081.6,298Z" fill="#4A4642" opacity="0.55"/>
<ellipse cx="1048.6" cy="313" rx="3.6" ry="5.4" fill="#F1D9C0" stroke="#2A1B10" stroke-width="0.9"/><ellipse cx="1085.2" cy="314.4" rx="3.6" ry="5.4" fill="#F1D9C0" stroke="#2A1B10" stroke-width="0.9"/><path d="M1047.6,311 q1.6,2 0.8,4.6 M1086,312.4 q-1.6,2 -0.8,4.6" stroke="#2A1B10" stroke-width="0.6" fill="none"/>
<path d="M1052,301 C1051,290.6 1058,286 1066.4,286 C1075,286 1082,290.6 1081.6,301 C1082,313 1080,325 1076,335 L1056,335 C1052.6,325 1051,313 1052,301Z" fill="#F1D9C0" stroke="#2A1B10" stroke-width="1"/>
<path d="M1058,292 q2,-4 6,-5.6 M1062,293 q2,-5 5,-6.6 M1070,292.6 q-1,-4 -3,-6 M1075,293.6 q-1,-4 -4,-6.6" stroke="#3A3836" stroke-width="0.6" fill="none"/>
<ellipse cx="1058" cy="310.4" rx="4" ry="2.6" fill="#9A8C88" opacity="0.6" filter="url(#b1)"/><ellipse cx="1072" cy="310.8" rx="4" ry="2.6" fill="#9A8C88" opacity="0.6" filter="url(#b1)"/>
<path d="M1054,316 q1,5 0.6,10 M1056.6,320 q0.6,4 0.4,8 M1078.6,316 q-1,5 -0.6,10 M1076,321 q-0.6,4 -0.4,7" stroke="#8A7A70" stroke-width="0.6" fill="none"/><ellipse cx="1077.6" cy="322" rx="2" ry="2.4" fill="#F0B0A0" opacity="0.5"/>
<circle cx="1058.4" cy="305" r="3.8" fill="#fff" stroke="#2A1B10" stroke-width="0.9"/><circle cx="1070.8" cy="305.4" r="3.8" fill="#fff" stroke="#2A1B10" stroke-width="0.9"/><circle cx="1059.8" cy="305.6" r="0.9" fill="#111"/><circle cx="1069.6" cy="306" r="0.9" fill="#111"/>
<path d="M1054.6,299.6 C1056,296.4 1060,295.4 1063.4,296.6 M1067.6,295.8 C1071,293.6 1075.6,294.6 1077.6,298" stroke="#2A1B10" stroke-width="1" fill="none" stroke-linecap="round"/>
<path d="M1063.4,308 C1062.6,311 1060,314 1059.8,317.6 C1060,322.4 1067,323 1068,318.6 C1068.4,315 1066,311.6 1065.4,308" fill="#F2AE9E" stroke="#2A1B10" stroke-width="0.8"/>
<path d="M1055.6,326.6 C1060,325 1068,325.2 1073,327.4" fill="none" stroke="#2A1B10" stroke-width="0.8"/><path d="M1058,327 C1061,325.8 1067,326 1070,327.2 L1069.4,331.6 L1058.6,331.6Z" fill="#FBF9F4" stroke="#2A1B10" stroke-width="0.7"/><path d="M1061,326.4 v4.4 M1064,326 v4.8 M1067,326.4 v4.4" stroke="#2A1B10" stroke-width="0.5"/>
<path d="M1047,338 C1049,331 1054,329 1057,331.4 C1059,333.6 1062,333.4 1064,331.6 C1066,333.4 1069,333.6 1071,331.4 C1074,328.6 1078,331 1078.6,337 C1079.4,345 1077,352 1070,355.4 C1063,357.6 1054,356 1050,351 C1047,347 1046,342 1047,338Z" fill="#C4853F" stroke="#2A1B10" stroke-width="1"/>
<g fill="#3A2412"><ellipse cx="1054" cy="337" rx="1.4" ry="1.15"/><ellipse cx="1060" cy="339" rx="1.4" ry="1.15"/><ellipse cx="1067" cy="337.6" rx="1.4" ry="1.15"/><ellipse cx="1073" cy="340" rx="1.4" ry="1.15"/><ellipse cx="1056" cy="345" rx="1.4" ry="1.15"/><ellipse cx="1063" cy="346.6" rx="1.4" ry="1.15"/><ellipse cx="1070" cy="346" rx="1.4" ry="1.15"/><ellipse cx="1059" cy="351.6" rx="1.4" ry="1.15"/><ellipse cx="1066" cy="352.6" rx="1.4" ry="1.15"/><ellipse cx="1052" cy="341.6" rx="1.4" ry="1.15"/></g>
<path d="M1040,341 C1037,346 1037.4,354 1040.6,359.6 L1046,362 L1049,356 L1046,340Z" fill="#F1D9C0" stroke="#2A1B10" stroke-width="0.9"/>
<line x1="1042.6" y1="340.6" x2="1051" y2="336.4" stroke="#2A1B10" stroke-width="4.3" stroke-linecap="round"/><line x1="1042.6" y1="340.6" x2="1051" y2="336.4" stroke="#F1D9C0" stroke-width="2.9" stroke-linecap="round"/>
<line x1="1042" y1="346" x2="1052.4" y2="342.6" stroke="#2A1B10" stroke-width="4.3" stroke-linecap="round"/><line x1="1042" y1="346" x2="1052.4" y2="342.6" stroke="#F1D9C0" stroke-width="2.9" stroke-linecap="round"/>
<line x1="1042.6" y1="351.6" x2="1053" y2="348.6" stroke="#2A1B10" stroke-width="4.3" stroke-linecap="round"/><line x1="1042.6" y1="351.6" x2="1053" y2="348.6" stroke="#F1D9C0" stroke-width="2.9" stroke-linecap="round"/>
<line x1="1044" y1="357" x2="1051" y2="354.4" stroke="#2A1B10" stroke-width="4.3" stroke-linecap="round"/><line x1="1044" y1="357" x2="1051" y2="354.4" stroke="#F1D9C0" stroke-width="2.9" stroke-linecap="round"/>
<path d="M1084,340 C1086.6,346 1086.6,354 1084,360 L1078.6,364 L1074,357 L1078,340Z" fill="#F1D9C0" stroke="#2A1B10" stroke-width="0.9"/>
<line x1="1081" y1="340.6" x2="1069.6" y2="341" stroke="#2A1B10" stroke-width="4.3" stroke-linecap="round"/><line x1="1081" y1="340.6" x2="1069.6" y2="341" stroke="#F1D9C0" stroke-width="2.9" stroke-linecap="round"/>
<line x1="1082" y1="346.4" x2="1068.6" y2="347.2" stroke="#2A1B10" stroke-width="4.3" stroke-linecap="round"/><line x1="1082" y1="346.4" x2="1068.6" y2="347.2" stroke="#F1D9C0" stroke-width="2.9" stroke-linecap="round"/>
<line x1="1082" y1="352" x2="1069.4" y2="352.8" stroke="#2A1B10" stroke-width="4.3" stroke-linecap="round"/><line x1="1082" y1="352" x2="1069.4" y2="352.8" stroke="#F1D9C0" stroke-width="2.9" stroke-linecap="round"/>
<line x1="1081" y1="357.4" x2="1072" y2="357.8" stroke="#2A1B10" stroke-width="4.3" stroke-linecap="round"/><line x1="1081" y1="357.4" x2="1072" y2="357.8" stroke="#F1D9C0" stroke-width="2.9" stroke-linecap="round"/>
<g><path d="M854.3,513.2 v1.4 a11.2,4.9 0 0 0 22.4,0 v-1.4Z" fill="#A8743A" stroke="#2A1B10" stroke-width="0.9"/><ellipse cx="865.5" cy="513.2" rx="11.2" ry="4.9" fill="#D9AC64" stroke="#2A1B10" stroke-width="0.9"/><ellipse cx="861.6" cy="512.7" rx="0.7" ry="0.41" fill="#5A3A1E"/><ellipse cx="868.9" cy="512.5" rx="0.7" ry="0.41" fill="#5A3A1E"/><ellipse cx="865.5" cy="514.7" rx="0.7" ry="0.41" fill="#5A3A1E"/></g>
<g><path d="M832.6,519.8 v1.4 a8.4,3.8 0 0 0 16.8,0 v-1.4Z" fill="#A8743A" stroke="#2A1B10" stroke-width="0.9"/><ellipse cx="841.0" cy="519.8" rx="8.4" ry="3.8" fill="#D9AC64" stroke="#2A1B10" stroke-width="0.9"/><ellipse cx="838.1" cy="519.4" rx="0.7" ry="0.42" fill="#5A3A1E"/><ellipse cx="843.5" cy="519.2" rx="0.7" ry="0.42" fill="#5A3A1E"/><ellipse cx="841.0" cy="520.9" rx="0.7" ry="0.42" fill="#5A3A1E"/></g>
<g><path d="M880.9,507.1 v1.4 a10.0,4.9 0 0 0 20.0,0 v-1.4Z" fill="#A8743A" stroke="#2A1B10" stroke-width="0.9"/><ellipse cx="890.9" cy="507.1" rx="10.0" ry="4.9" fill="#9A6A3C" stroke="#2A1B10" stroke-width="0.9"/><ellipse cx="887.4" cy="506.6" rx="0.7" ry="0.45" fill="#5A3A1E"/><ellipse cx="893.9" cy="506.4" rx="0.7" ry="0.45" fill="#5A3A1E"/><ellipse cx="890.9" cy="508.6" rx="0.7" ry="0.45" fill="#5A3A1E"/></g>
<g><path d="M1014.6,500.1 v1.4 a7.7,3.9 0 0 0 15.4,0 v-1.4Z" fill="#A8743A" stroke="#2A1B10" stroke-width="0.9"/><ellipse cx="1022.3" cy="500.1" rx="7.7" ry="3.9" fill="#D9AC64" stroke="#2A1B10" stroke-width="0.9"/><ellipse cx="1019.6" cy="499.7" rx="0.7" ry="0.46" fill="#5A3A1E"/><ellipse cx="1024.6" cy="499.5" rx="0.7" ry="0.46" fill="#5A3A1E"/><ellipse cx="1022.3" cy="501.3" rx="0.7" ry="0.46" fill="#5A3A1E"/></g>
<g><path d="M982.6,510.2 v1.4 a6.0,3.1 0 0 0 12.0,0 v-1.4Z" fill="#A8743A" stroke="#2A1B10" stroke-width="0.9"/><ellipse cx="988.6" cy="510.2" rx="6.0" ry="3.1" fill="#D9AC64" stroke="#2A1B10" stroke-width="0.9"/><ellipse cx="986.5" cy="509.9" rx="0.7" ry="0.47" fill="#5A3A1E"/><ellipse cx="990.4" cy="509.7" rx="0.7" ry="0.47" fill="#5A3A1E"/><ellipse cx="988.6" cy="511.1" rx="0.7" ry="0.47" fill="#5A3A1E"/></g>
<g><ellipse cx="986.9" cy="525.0" rx="5.9" ry="3.1" fill="#8E5E34" stroke="#2A1B10" stroke-width="0.9"/></g>
<g><ellipse cx="943.3" cy="526.7" rx="4.6" ry="2.8" fill="#D9A860" stroke="#2A1B10" stroke-width="0.9"/></g>
<g><ellipse cx="905.6" cy="522.9" rx="4.2" ry="2.6" fill="#CF9A54" stroke="#2A1B10" stroke-width="0.9"/></g>
<g><ellipse cx="953.9" cy="517.5" rx="2.8" ry="1.7" fill="#CF9A54" stroke="#2A1B10" stroke-width="0.9"/></g>
<g><ellipse cx="998.4" cy="502.9" rx="2.8" ry="1.6" fill="#D9AC64" stroke="#2A1B10" stroke-width="0.9"/></g>
<g><ellipse cx="1013.6" cy="517.7" rx="2.4" ry="1.8" fill="#CF9A54" stroke="#2A1B10" stroke-width="0.9"/></g>
<g><ellipse cx="1023.4" cy="518.2" rx="3.1" ry="1.8" fill="#D9AC64" stroke="#2A1B10" stroke-width="0.9"/></g>
<g><ellipse cx="1039.6" cy="516.3" rx="5.1" ry="2.3" fill="#D9AC64" stroke="#2A1B10" stroke-width="0.9"/></g>
<g><ellipse cx="1057.9" cy="515.2" rx="4.6" ry="2.8" fill="#CF9A54" stroke="#2A1B10" stroke-width="0.9"/></g>
<g><ellipse cx="1044.4" cy="504.0" rx="4.9" ry="1.9" fill="#8E5E34" stroke="#2A1B10" stroke-width="0.9"/></g>
<g><ellipse cx="1030.2" cy="506.4" rx="2.5" ry="1.6" fill="#D9AC64" stroke="#2A1B10" stroke-width="0.9"/></g>
<g><ellipse cx="1035.6" cy="498.4" rx="2.8" ry="1.5" fill="#D9AC64" stroke="#2A1B10" stroke-width="0.9"/></g>
<g><ellipse cx="1028.4" cy="528.1" rx="2.0" ry="1.4" fill="#CF9A54" stroke="#2A1B10" stroke-width="0.9"/></g>
<g><ellipse cx="1050.0" cy="525.4" rx="1.7" ry="1.5" fill="#8E5E34" stroke="#2A1B10" stroke-width="0.9"/></g>
<g><path d="M1068.0,503.0 v1.4 a11.0,4.9 0 0 0 22.0,0 v-1.4Z" fill="#A8743A" stroke="#2A1B10" stroke-width="0.9"/><ellipse cx="1079.0" cy="503.0" rx="11.0" ry="4.9" fill="#D9AC64" stroke="#2A1B10" stroke-width="0.9"/><ellipse cx="1075.2" cy="502.5" rx="0.7" ry="0.42" fill="#5A3A1E"/><ellipse cx="1082.3" cy="502.3" rx="0.7" ry="0.42" fill="#5A3A1E"/><ellipse cx="1079.0" cy="504.5" rx="0.7" ry="0.42" fill="#5A3A1E"/></g>
<g><path d="M1106.0,511.2 v1.4 a10.0,4.5 0 0 0 20.0,0 v-1.4Z" fill="#A8743A" stroke="#2A1B10" stroke-width="0.9"/><ellipse cx="1116.0" cy="511.2" rx="10.0" ry="4.5" fill="#CF9A54" stroke="#2A1B10" stroke-width="0.9"/><ellipse cx="1112.5" cy="510.8" rx="0.7" ry="0.42" fill="#5A3A1E"/><ellipse cx="1119.0" cy="510.5" rx="0.7" ry="0.42" fill="#5A3A1E"/><ellipse cx="1116.0" cy="512.5" rx="0.7" ry="0.42" fill="#5A3A1E"/></g>
<g><ellipse cx="1081.9" cy="520.0" rx="6.6" ry="3.4" fill="#C9934F" stroke="#2A1B10" stroke-width="0.9"/></g>
<g><ellipse cx="1092.4" cy="510.8" rx="2.8" ry="1.5" fill="#B8823E" stroke="#2A1B10" stroke-width="0.9"/></g>
<g><ellipse cx="1081.2" cy="514.3" rx="1.7" ry="1.3" fill="#8E5E34" stroke="#2A1B10" stroke-width="0.9"/></g>
<g><ellipse cx="1135.3" cy="516.8" rx="1.5" ry="1.3" fill="#8E5E34" stroke="#2A1B10" stroke-width="0.9"/></g>
<g><ellipse cx="1046.7" cy="511.2" rx="1.7" ry="1.2" fill="#B8823E" stroke="#2A1B10" stroke-width="0.9"/></g>
<g><ellipse cx="885.2" cy="519.5" rx="3.5" ry="2.0" fill="#E0B56C" stroke="#2A1B10" stroke-width="0.9"/></g>
<g><ellipse cx="919.4" cy="522.6" rx="2.1" ry="1.6" fill="#B8823E" stroke="#2A1B10" stroke-width="0.9"/></g>
<g><ellipse cx="942.2" cy="526.8" rx="4.0" ry="2.4" fill="#D9A860" stroke="#2A1B10" stroke-width="0.9"/></g>
<g><ellipse cx="849.6" cy="510.0" rx="2.4" ry="1.6" fill="#B8823E" stroke="#2A1B10" stroke-width="0.9"/></g>
<g><ellipse cx="966.8" cy="510.6" rx="1.8" ry="1.4" fill="#8E5E34" stroke="#2A1B10" stroke-width="0.9"/></g>
<g><ellipse cx="982.6" cy="501.6" rx="2.3" ry="1.7" fill="#B8823E" stroke="#2A1B10" stroke-width="0.9"/></g>
<g><ellipse cx="1077.2" cy="520.0" rx="3.6" ry="2.2" fill="#CF9A54" stroke="#2A1B10" stroke-width="0.9"/></g>
<g><ellipse cx="876.0" cy="505.6" rx="1.4" ry="1.2" fill="#8E5E34" stroke="#2A1B10" stroke-width="0.9"/></g>
<g><ellipse cx="897.6" cy="515.0" rx="1.2" ry="1.0" fill="#8E5E34" stroke="#2A1B10" stroke-width="0.9"/></g>
<g><ellipse cx="899.0" cy="530.6" rx="1.4" ry="1.1" fill="#8E5E34" stroke="#2A1B10" stroke-width="0.9"/></g>
<path d="M853.6,499 l6,2 l-2.6,6 l-6,-2Z M859.6,503.6 l4.6,3 l-2,4.6 l-5,-2.6Z" fill="#D9AC64" stroke="#2A1B10" stroke-width="0.8"/>
<g fill="#5A3A1C"><circle cx="975" cy="534.6" r="0.9"/><circle cx="980" cy="535" r="0.5"/><circle cx="986" cy="535" r="0.5"/><circle cx="992" cy="534.6" r="0.6"/><circle cx="1004" cy="522.6" r="0.5"/><circle cx="1008" cy="528" r="0.5"/><circle cx="1062" cy="532" r="0.6"/><circle cx="1066" cy="526" r="0.5"/><circle cx="1076" cy="538" r="0.5"/><circle cx="1046" cy="498.6" r="0.7"/><circle cx="1054" cy="501" r="0.6"/><circle cx="1010" cy="498" r="0.7"/><circle cx="872" cy="534" r="0.6"/><circle cx="869.6" cy="530.6" r="0.5"/><circle cx="1120" cy="530" r="0.5"/><circle cx="1098" cy="526" r="0.5"/></g>
<g transform="rotate(20 841.0 470.6)"><ellipse cx="841.0" cy="470.6" rx="4.2" ry="5.0" fill="#D9AC64" stroke="#2A1B10" stroke-width="0.9"/></g>
<g transform="rotate(-8 827.6 472.2)"><ellipse cx="827.6" cy="472.2" rx="12.0" ry="8.6" fill="#DDB066" stroke="#2A1B10" stroke-width="0.9"/></g>
<ellipse cx="827.6" cy="472.2" rx="9.6" ry="6.6" fill="none" stroke="#6A4520" stroke-width="0.6" transform="rotate(-8 827.6 472.2)"/><ellipse cx="823.6" cy="470.5" rx="1.1" ry="0.9" fill="none" stroke="#5A3A1C" stroke-width="0.6"/><ellipse cx="827.6" cy="469.1" rx="1.1" ry="0.9" fill="none" stroke="#5A3A1C" stroke-width="0.6"/><ellipse cx="831.6" cy="470.8" rx="1.1" ry="0.9" fill="none" stroke="#5A3A1C" stroke-width="0.6"/><ellipse cx="826.4" cy="472.2" rx="1.1" ry="0.9" fill="none" stroke="#5A3A1C" stroke-width="0.6"/><ellipse cx="830.0" cy="473.3" rx="1.1" ry="0.9" fill="none" stroke="#5A3A1C" stroke-width="0.6"/><ellipse cx="824.0" cy="474.4" rx="1.1" ry="0.9" fill="none" stroke="#5A3A1C" stroke-width="0.6"/><ellipse cx="828.4" cy="475.3" rx="1.1" ry="0.9" fill="none" stroke="#5A3A1C" stroke-width="0.6"/>
<g transform="rotate(-10 811.4 480.4)"><ellipse cx="811.4" cy="480.4" rx="8.0" ry="5.6" fill="#9A6A3C" stroke="#2A1B10" stroke-width="0.9"/><ellipse cx="808.2" cy="478.4" rx="0.8" ry="0.68" fill="#4A2A14"/><ellipse cx="814.2" cy="478.2" rx="0.8" ry="0.68" fill="#4A2A14"/><ellipse cx="811.4" cy="480.7" rx="0.8" ry="0.68" fill="#4A2A14"/><ellipse cx="807.8" cy="482.6" rx="0.8" ry="0.68" fill="#4A2A14"/><ellipse cx="815.0" cy="482.4" rx="0.8" ry="0.68" fill="#4A2A14"/></g>
<g><ellipse cx="825.6" cy="483.2" rx="5.0" ry="4.4" fill="#CF9A54" stroke="#2A1B10" stroke-width="0.9"/></g>
<g transform="rotate(8 838.2 485.0)"><ellipse cx="838.2" cy="485.0" rx="11.0" ry="8.4" fill="#CF9A54" stroke="#2A1B10" stroke-width="0.9"/><ellipse cx="832.2" cy="482.5" rx="0.9" ry="0.82" fill="#6A4520"/><ellipse cx="837.1" cy="480.0" rx="0.9" ry="0.82" fill="#6A4520"/><ellipse cx="842.6" cy="481.2" rx="0.9" ry="0.82" fill="#6A4520"/><ellipse cx="834.9" cy="484.6" rx="0.9" ry="0.82" fill="#6A4520"/><ellipse cx="840.4" cy="484.6" rx="0.9" ry="0.82" fill="#6A4520"/><ellipse cx="845.0" cy="485.8" rx="0.9" ry="0.82" fill="#6A4520"/><ellipse cx="832.2" cy="487.9" rx="0.9" ry="0.82" fill="#6A4520"/><ellipse cx="837.7" cy="488.8" rx="0.9" ry="0.82" fill="#6A4520"/><ellipse cx="842.6" cy="489.2" rx="0.9" ry="0.82" fill="#6A4520"/></g>
<g><ellipse cx="805.0" cy="488.8" rx="4.0" ry="4.6" fill="#9A6A3C" stroke="#2A1B10" stroke-width="0.9"/></g>
<g transform="rotate(-6 816.4 488.8)"><ellipse cx="816.4" cy="488.8" rx="9.6" ry="6.2" fill="#E0B56C" stroke="#2A1B10" stroke-width="0.9"/><ellipse cx="812.6" cy="486.6" rx="0.6" ry="0.48" fill="#5A3A1E"/><ellipse cx="819.8" cy="486.3" rx="0.6" ry="0.48" fill="#5A3A1E"/><ellipse cx="816.4" cy="489.1" rx="0.6" ry="0.48" fill="#5A3A1E"/><ellipse cx="812.1" cy="491.3" rx="0.6" ry="0.48" fill="#5A3A1E"/><ellipse cx="820.7" cy="491.0" rx="0.6" ry="0.48" fill="#5A3A1E"/></g>
<g><ellipse cx="830.0" cy="490.6" rx="4.0" ry="3.0" fill="#B8823E" stroke="#2A1B10" stroke-width="0.9"/></g>
<path d="M816.7,510.4 L817.8,514.0 C821.0,515.4 831.8,515.4 835.0,514.0 L836.1,510.4Z" fill="#7DBCC2" stroke="#2A1B10" stroke-width="0.9"/><path d="M799.5,490.2 C800.5,502.2 811.6,512.4 818.3,512.4 L834.5,512.4 C841.2,512.4 852.3,502.2 853.3,490.2 C839.8,494.6 813.0,494.6 799.5,490.2Z" fill="#A3D6D8" stroke="#2A1B10" stroke-width="1.1"/><path d="M802.5,496.8 q2.66,-2.4 5.31,0 q2.66,-2.4 5.31,0 q2.66,-2.4 5.31,0 q2.66,-2.4 5.31,0 q2.66,-2.4 5.31,0 q2.66,-2.4 5.31,0 q2.66,-2.4 5.31,0 q2.66,-2.4 5.31,0 q2.66,-2.4 5.31,0" fill="none" stroke="#4E8E98" stroke-width="0.7" transform="translate(0,1.2)"/><path d="M802.5,499.8 C813.0,502.8 839.8,502.8 850.3,499.8" fill="none" stroke="#4E8E98" stroke-width="0.6"/>
<g><ellipse cx="1163.4" cy="460.2" rx="13.4" ry="13.0" fill="#DDB066" stroke="#2A1B10" stroke-width="1"/></g>
<g fill="#6A4520"><circle cx="1157.6" cy="457.1" r="0.6"/><circle cx="1162.4" cy="453.9" r="0.6"/><circle cx="1167.6" cy="455.5" r="0.6"/><circle cx="1160.2" cy="459.7" r="0.6"/><circle cx="1165.5" cy="459.7" r="0.6"/><circle cx="1169.9" cy="461.2" r="0.6"/><circle cx="1157.6" cy="463.9" r="0.6"/><circle cx="1162.9" cy="464.9" r="0.6"/><circle cx="1167.6" cy="465.4" r="0.6"/><circle cx="1158.2" cy="457.1" r="0.6"/><circle cx="1163.4" cy="454.4" r="0.6"/><circle cx="1168.7" cy="457.6" r="0.6"/><circle cx="1161.8" cy="460.2" r="0.6"/><circle cx="1166.6" cy="462.3" r="0.6"/><circle cx="1158.7" cy="464.4" r="0.6"/><circle cx="1164.5" cy="466.0" r="0.6"/></g>
<path d="M1150.6,453 C1151.6,460 1154,466 1160,471" fill="none" stroke="#2A1B10" stroke-width="0.7"/>
<path d="M1134,468 C1132,462 1136,458.6 1140,460 C1142,456 1148,457 1147.6,462 C1150,464 1149,469 1145,469.6 L1138,471Z" fill="#E6C88A" stroke="#2A1B10" stroke-width="0.8"/><path d="M1138,463.6 q2,-1.6 3,0.6 q-1,2 -2.6,1 M1143,461 q2,0 1.6,2.4" fill="none" stroke="#2A1B10" stroke-width="0.6"/>
<g><ellipse cx="1152.2" cy="471.4" rx="7.0" ry="6.4" fill="#7A4C2A" stroke="#2A1B10" stroke-width="0.9"/><ellipse cx="1149.4" cy="469.2" rx="0.7" ry="0.70" fill="#D8B078"/><ellipse cx="1154.7" cy="468.8" rx="0.7" ry="0.70" fill="#D8B078"/><ellipse cx="1152.2" cy="471.7" rx="0.7" ry="0.70" fill="#D8B078"/><ellipse cx="1149.0" cy="474.0" rx="0.7" ry="0.70" fill="#D8B078"/><ellipse cx="1155.4" cy="473.6" rx="0.7" ry="0.70" fill="#D8B078"/></g>
<g><ellipse cx="1127.0" cy="477.0" rx="6.0" ry="6.4" fill="#D9AC64" stroke="#2A1B10" stroke-width="0.9"/><ellipse cx="1124.6" cy="474.8" rx="0.6" ry="0.60" fill="#5A3A1E"/><ellipse cx="1129.1" cy="474.4" rx="0.6" ry="0.60" fill="#5A3A1E"/><ellipse cx="1127.0" cy="477.3" rx="0.6" ry="0.60" fill="#5A3A1E"/><ellipse cx="1124.3" cy="479.6" rx="0.6" ry="0.60" fill="#5A3A1E"/><ellipse cx="1129.7" cy="479.2" rx="0.6" ry="0.60" fill="#5A3A1E"/></g>
<g><ellipse cx="1142.4" cy="475.4" rx="7.0" ry="6.4" fill="#E6C88A" stroke="#2A1B10" stroke-width="0.9"/></g>
<path d="M1139.6,473.6 q2.6,-2 4.6,0 q1,2.6 -2,3 q-2,-0.6 -1,-2" fill="none" stroke="#2A1B10" stroke-width="0.6"/>
<g><ellipse cx="1165.6" cy="477.8" rx="8.0" ry="7.4" fill="#D9AC64" stroke="#2A1B10" stroke-width="0.9"/><ellipse cx="1161.6" cy="475.6" rx="0.7" ry="0.70" fill="#5A3A1E"/><ellipse cx="1165.6" cy="473.7" rx="0.7" ry="0.70" fill="#5A3A1E"/><ellipse cx="1169.6" cy="475.9" rx="0.7" ry="0.70" fill="#5A3A1E"/><ellipse cx="1164.4" cy="477.8" rx="0.7" ry="0.70" fill="#5A3A1E"/><ellipse cx="1168.0" cy="479.3" rx="0.7" ry="0.70" fill="#5A3A1E"/><ellipse cx="1162.0" cy="480.8" rx="0.7" ry="0.70" fill="#5A3A1E"/><ellipse cx="1166.4" cy="481.9" rx="0.7" ry="0.70" fill="#5A3A1E"/></g>
<g><ellipse cx="1132.6" cy="483.4" rx="7.8" ry="7.0" fill="#CF9A54" stroke="#2A1B10" stroke-width="0.9"/><ellipse cx="1128.7" cy="481.3" rx="0.8" ry="0.80" fill="#5A3A1E"/><ellipse cx="1132.6" cy="479.5" rx="0.8" ry="0.80" fill="#5A3A1E"/><ellipse cx="1136.5" cy="481.6" rx="0.8" ry="0.80" fill="#5A3A1E"/><ellipse cx="1131.4" cy="483.4" rx="0.8" ry="0.80" fill="#5A3A1E"/><ellipse cx="1134.9" cy="484.8" rx="0.8" ry="0.80" fill="#5A3A1E"/><ellipse cx="1129.1" cy="486.2" rx="0.8" ry="0.80" fill="#5A3A1E"/><ellipse cx="1133.4" cy="487.2" rx="0.8" ry="0.80" fill="#5A3A1E"/></g>
<g><ellipse cx="1149.4" cy="484.0" rx="7.0" ry="6.4" fill="#D9AC64" stroke="#2A1B10" stroke-width="0.9"/><ellipse cx="1146.6" cy="481.8" rx="0.7" ry="0.70" fill="#5A3A1E"/><ellipse cx="1151.9" cy="481.4" rx="0.7" ry="0.70" fill="#5A3A1E"/><ellipse cx="1149.4" cy="484.3" rx="0.7" ry="0.70" fill="#5A3A1E"/><ellipse cx="1146.2" cy="486.6" rx="0.7" ry="0.70" fill="#5A3A1E"/><ellipse cx="1152.6" cy="486.2" rx="0.7" ry="0.70" fill="#5A3A1E"/></g>
<circle cx="1162" cy="484.8" r="5" fill="#9A6A3C" stroke="#2A1B10" stroke-width="0.9"/><circle cx="1162" cy="484.8" r="2.8" fill="none" stroke="#4A2A14" stroke-width="0.6"/>
<path d="M1138.9,505.6 L1140.0,509.2 C1143.2,510.6 1154.1,510.6 1157.3,509.2 L1158.4,505.6Z" fill="#7DBCC2" stroke="#2A1B10" stroke-width="0.9"/><path d="M1121.5,484.8 C1122.5,496.8 1133.7,507.6 1140.5,507.6 L1156.8,507.6 C1163.6,507.6 1174.8,496.8 1175.8,484.8 C1162.2,489.2 1135.1,489.2 1121.5,484.8Z" fill="#A3D6D8" stroke="#2A1B10" stroke-width="1.1"/><path d="M1124.5,491.4 q2.68,-2.4 5.37,0 q2.68,-2.4 5.37,0 q2.68,-2.4 5.37,0 q2.68,-2.4 5.37,0 q2.68,-2.4 5.37,0 q2.68,-2.4 5.37,0 q2.68,-2.4 5.37,0 q2.68,-2.4 5.37,0 q2.68,-2.4 5.37,0" fill="none" stroke="#4E8E98" stroke-width="0.7" transform="translate(0,1.2)"/><path d="M1124.5,494.4 C1135.1,497.4 1162.2,497.4 1172.8,494.4" fill="none" stroke="#4E8E98" stroke-width="0.6"/>
<g><ellipse cx="1183.8" cy="493.2" rx="3.8" ry="1.8" fill="#B8823E" stroke="#2A1B10" stroke-width="0.7"/></g>
<path d="M1170,498 l6,1.6 M1172,501 l5,2 M1168,503 l4,2" stroke="#5A3E1E" stroke-width="0.6"/>
<path d="M1048,429 C1056,427 1064,427.6 1070,429 C1076,428 1082,429 1088,430.6 L1078,432.4 C1078,440 1077.6,450 1076.8,456 C1076.4,458.6 1073.4,458.6 1073,456 C1072.6,448 1073,440 1072,434 C1069,433 1066,433.6 1065,436 C1064.6,439 1064,441.6 1062.4,441.6 C1060.6,441.6 1060.6,438 1060,435 C1059,433.6 1057.6,434 1057.4,436 C1057.4,439 1057,442.6 1055.4,442.6 C1053.6,442.6 1053.6,438 1053.4,434 C1051,433 1049,431.6 1048,429Z" fill="#D9AC62" stroke="#2A1B10" stroke-width="0.8"/>
<ellipse cx="1061.6" cy="447.4" rx="0.9" ry="2.2" fill="#D9AC62" stroke="#2A1B10" stroke-width="0.6"/>
<g transform="rotate(-15 1043.9 424.4)"><path d="M1030.5,424.4 v1.8 a13.4,5.6 0 0 0 26.8,0 v-1.8Z" fill="#A8743A" stroke="#2A1B10" stroke-width="0.9"/><ellipse cx="1043.9" cy="424.4" rx="13.4" ry="5.6" fill="#CF9A54" stroke="#2A1B10" stroke-width="0.9"/><ellipse cx="1037.2" cy="422.7" rx="0.8" ry="0.45" fill="#4A2E14"/><ellipse cx="1043.9" cy="421.3" rx="0.8" ry="0.45" fill="#4A2E14"/><ellipse cx="1050.6" cy="423.0" rx="0.8" ry="0.45" fill="#4A2E14"/><ellipse cx="1041.9" cy="424.4" rx="0.8" ry="0.45" fill="#4A2E14"/><ellipse cx="1047.9" cy="425.5" rx="0.8" ry="0.45" fill="#4A2E14"/><ellipse cx="1037.9" cy="426.6" rx="0.8" ry="0.45" fill="#4A2E14"/><ellipse cx="1045.2" cy="427.5" rx="0.8" ry="0.45" fill="#4A2E14"/></g>
<g transform="rotate(-11 1075.5 416.0)"><path d="M1064.3,416.0 v1.6 a11.2,4.2 0 0 0 22.4,0 v-1.6Z" fill="#A8743A" stroke="#2A1B10" stroke-width="0.9"/><ellipse cx="1075.5" cy="416.0" rx="11.2" ry="4.2" fill="#CF9A54" stroke="#2A1B10" stroke-width="0.9"/><ellipse cx="1069.9" cy="414.7" rx="0.7" ry="0.37" fill="#4A2E14"/><ellipse cx="1075.5" cy="413.7" rx="0.7" ry="0.37" fill="#4A2E14"/><ellipse cx="1081.1" cy="414.9" rx="0.7" ry="0.37" fill="#4A2E14"/><ellipse cx="1073.8" cy="416.0" rx="0.7" ry="0.37" fill="#4A2E14"/><ellipse cx="1078.9" cy="416.8" rx="0.7" ry="0.37" fill="#4A2E14"/><ellipse cx="1070.5" cy="417.7" rx="0.7" ry="0.37" fill="#4A2E14"/><ellipse cx="1076.6" cy="418.3" rx="0.7" ry="0.37" fill="#4A2E14"/></g>
<ellipse cx="982" cy="427.4" rx="9.6" ry="2.8" fill="#E8E8E4" stroke="#2A1B10" stroke-width="0.8"/><ellipse cx="982" cy="426.8" rx="5" ry="1.3" fill="#C8C4BC"/><path d="M981,430 L982.6,433" stroke="#2A1B10" stroke-width="0.7"/>
<text x="1150.6" y="550.9" font-size="7" fill="#3A3A3A" class="t" textLength="22.4" lengthAdjust="spacingAndGlyphs">Becluilts</text>
</g>
<g id="diagram">
<line x1="318.0" y1="331.6" x2="77.4" y2="464.6" stroke="#000" stroke-width="1.9"/><polygon points="72.0,467.6 76.8,461.4 79.8,466.8" fill="#000"/>
<line x1="318.0" y1="331.6" x2="149.9" y2="463.8" stroke="#000" stroke-width="1.9"/><polygon points="145.0,467.6 148.7,460.7 152.6,465.6" fill="#000"/>
<line x1="318.0" y1="331.6" x2="222.5" y2="462.6" stroke="#000" stroke-width="1.9"/><polygon points="218.8,467.6 220.5,460.0 225.5,463.6" fill="#000"/>
<line x1="318.0" y1="331.6" x2="292.8" y2="461.3" stroke="#000" stroke-width="1.9"/><polygon points="291.6,467.4 289.9,459.7 296.0,460.9" fill="#000"/>
<line x1="318.0" y1="331.6" x2="365.4" y2="460.8" stroke="#000" stroke-width="1.9"/><polygon points="367.5,466.6 362.1,460.9 367.9,458.8" fill="#000"/>
<line x1="318.0" y1="331.6" x2="438.9" y2="462.1" stroke="#000" stroke-width="1.9"/><polygon points="443.1,466.6 435.9,463.4 440.5,459.2" fill="#000"/>
<line x1="318.0" y1="331.6" x2="510.2" y2="463.1" stroke="#000" stroke-width="1.9"/><polygon points="515.3,466.6 507.6,465.1 511.1,460.0" fill="#000"/>
<line x1="318.0" y1="331.6" x2="582.0" y2="463.8" stroke="#000" stroke-width="1.9"/><polygon points="587.5,466.6 579.7,466.1 582.5,460.6" fill="#000"/>
<ellipse cx="318" cy="285.8" rx="91.5" ry="45.3" fill="#70AD47" stroke="#2F528F" stroke-width="1.6"/>
<text x="319.2" y="277.7" text-anchor="middle" textLength="94.5" lengthAdjust="spacingAndGlyphs" font-size="29.5" fill="#fff" class="t">Love of</text>
<text x="318.2" y="315.6" text-anchor="middle" textLength="98" lengthAdjust="spacingAndGlyphs" font-size="29.5" fill="#fff" class="t">biscuits</text>
<path d="M544.6,217.6 A126,126 0 0 1 714.2,218.2" fill="none" stroke="#000" stroke-width="3.2"/>
<path d="M549.3,205.5 L544.1,218.1 L557.5,214.7" fill="none" stroke="#000" stroke-width="3" stroke-linecap="round" stroke-linejoin="miter"/>
<path d="M709.8,206.2 L714.6,218.8 L701.4,215.2" fill="none" stroke="#000" stroke-width="3" stroke-linecap="round" stroke-linejoin="miter"/>
<g filter="url(#b1)">
<ellipse cx="58" cy="507.4" rx="11.2" ry="6.4" fill="#3A302D"/>
<ellipse cx="58" cy="504.2" rx="10.9" ry="6.2" fill="#BEB9AF"/>
<ellipse cx="57.8" cy="501" rx="11.4" ry="7" fill="#4C413C"/>
<ellipse cx="57.6" cy="500.2" rx="8.5" ry="4.8" fill="#564A45"/>
<g transform="rotate(38 80 499)">
<ellipse cx="79" cy="504.6" rx="14.8" ry="8.8" fill="#3A302D"/>
<ellipse cx="79.4" cy="501.2" rx="14.6" ry="8.8" fill="#C9C5BB"/>
<ellipse cx="80" cy="498" rx="15.2" ry="9.6" fill="#4C413C"/>
<ellipse cx="80" cy="497.4" rx="11.5" ry="6.8" fill="#574B46"/>
</g></g>
<g clip-path="url(#cb2)">
<ellipse cx="146" cy="523" rx="26" ry="5" fill="#EEE9E4" filter="url(#b2)"/>
<g filter="url(#b1)">
<ellipse cx="126.6" cy="509.4" rx="12.6" ry="10.4" fill="#D29749" transform="rotate(-15 126.6 509.4)"/>
<ellipse cx="127.4" cy="508.2" rx="11.8" ry="9.4" fill="#DBA153" transform="rotate(-15 127.4 508.2)"/>
<ellipse cx="128" cy="492" rx="14" ry="12.5" fill="#CF9243" transform="rotate(-20 128 492)"/>
<ellipse cx="129" cy="490.6" rx="13" ry="11.3" fill="#DEA658" transform="rotate(-20 129 490.6)"/>
<ellipse cx="150" cy="502" rx="20" ry="22.8" fill="#C88A3D" transform="rotate(-18 150 502)"/>
<ellipse cx="150.2" cy="500.6" rx="19" ry="21.6" fill="url(#gDig)" transform="rotate(-18 150.2 500.6)"/>
</g>
<circle cx="142.0" cy="490.0" r="0.6" fill="#A8682A" opacity="0.8"/><circle cx="148.0" cy="487.0" r="0.6" fill="#A8682A" opacity="0.8"/><circle cx="154.0" cy="488.0" r="0.6" fill="#A8682A" opacity="0.8"/><circle cx="159.0" cy="492.0" r="0.6" fill="#A8682A" opacity="0.8"/><circle cx="139.0" cy="497.0" r="0.6" fill="#A8682A" opacity="0.8"/><circle cx="145.0" cy="495.0" r="0.6" fill="#A8682A" opacity="0.8"/><circle cx="151.0" cy="494.0" r="0.6" fill="#A8682A" opacity="0.8"/><circle cx="157.0" cy="497.0" r="0.6" fill="#A8682A" opacity="0.8"/><circle cx="162.0" cy="500.0" r="0.6" fill="#A8682A" opacity="0.8"/><circle cx="140.0" cy="504.0" r="0.6" fill="#A8682A" opacity="0.8"/><circle cx="146.0" cy="502.0" r="0.6" fill="#A8682A" opacity="0.8"/><circle cx="152.0" cy="501.0" r="0.6" fill="#A8682A" opacity="0.8"/><circle cx="158.0" cy="504.0" r="0.6" fill="#A8682A" opacity="0.8"/><circle cx="143.0" cy="510.0" r="0.6" fill="#A8682A" opacity="0.8"/><circle cx="149.0" cy="508.0" r="0.6" fill="#A8682A" opacity="0.8"/><circle cx="155.0" cy="509.0" r="0.6" fill="#A8682A" opacity="0.8"/><circle cx="160.0" cy="509.0" r="0.6" fill="#A8682A" opacity="0.8"/><circle cx="147.0" cy="515.0" r="0.6" fill="#A8682A" opacity="0.8"/><circle cx="153.0" cy="515.0" r="0.6" fill="#A8682A" opacity="0.8"/>
</g>
<g filter="url(#b1)">
<ellipse cx="220.2" cy="500.6" rx="22.6" ry="25.6" fill="#C9832F" transform="rotate(22 220.2 500.6)"/>
<ellipse cx="219.6" cy="499.2" rx="22.6" ry="25.4" fill="#E3A857" transform="rotate(22 219.6 499.2)"/>
<ellipse cx="218.4" cy="496.6" rx="22.6" ry="25" fill="#D99C48" transform="rotate(22 218.4 496.6)"/>
<ellipse cx="218.2" cy="496.2" rx="21" ry="23.4" fill="url(#gJam)" transform="rotate(22 218.2 496.2)"/>
</g>
<ellipse cx="218.2" cy="496.2" rx="21.6" ry="24" fill="none" stroke="#D49A48" stroke-width="1.3" stroke-dasharray="1.6 0.9" transform="rotate(22 218.2 496.2)" opacity="0.9"/>
<ellipse cx="218.2" cy="496.2" rx="19" ry="21.2" fill="none" stroke="#DDA85A" stroke-width="0.7" transform="rotate(22 218.2 496.2)" opacity="0.8"/>
<path d="M217.2,503.4 C212,498 209.8,494.4 211.2,491.6 C212.6,489.2 216,489.8 217.4,492.4 C219,489.8 223,489.6 224,492.2 C225,495.4 221.4,499.6 217.2,503.4Z" fill="#B8191F" stroke="#8E1013" stroke-width="0.8"/>
<path d="M213.2,492.4 C214.4,491.4 215.8,492 216.6,493.6" stroke="#E8707A" stroke-width="0.9" fill="none"/>
<g fill="#DDA65A" opacity="0.9"><circle cx="212.6" cy="481" r="1.8"/><circle cx="227" cy="482.4" r="4.2" fill="none" stroke="#DDA65A" stroke-width="1.4"/><ellipse cx="204" cy="497.6" rx="4" ry="1.6" transform="rotate(-25 204 497.6)"/><ellipse cx="206.6" cy="507.6" rx="4.4" ry="1.7" transform="rotate(-40 206.6 507.6)"/><ellipse cx="214.4" cy="511.8" rx="1.6" ry="4.2" transform="rotate(25 214.4 511.8)"/><ellipse cx="223.6" cy="507" rx="1.6" ry="4" transform="rotate(-35 223.6 507)"/><ellipse cx="231.6" cy="497.6" rx="4" ry="1.6" transform="rotate(-15 231.6 497.6)"/><circle cx="230.6" cy="504.6" r="1.7"/><circle cx="199.4" cy="499" r="1.5"/></g>
<g filter="url(#b1)">
<rect x="295" y="483.5" width="21" height="13" rx="1.5" fill="#74462D" transform="rotate(-25 305 490)"/>
<rect x="295.5" y="482" width="20" height="11" rx="1.5" fill="#80503A" transform="rotate(-25 305 488.5)"/>
<rect x="279.5" y="487.5" width="22.5" height="37.5" rx="2" fill="#70432A" transform="rotate(33 290.8 506.3)"/>
<rect x="279.2" y="486.6" width="21.6" height="36" rx="2" fill="#8E583A" transform="rotate(33 290 504.6)"/>
</g>
<g transform="rotate(33 290 504.6)" fill="#4E2C1B" opacity="0.85"><circle cx="282.5" cy="490" r="0.55"/><circle cx="282.5" cy="496" r="0.55"/><circle cx="282.5" cy="502" r="0.55"/><circle cx="282.5" cy="508" r="0.55"/><circle cx="282.5" cy="514" r="0.55"/><circle cx="282.5" cy="519" r="0.55"/><circle cx="297.5" cy="490" r="0.55"/><circle cx="297.5" cy="496" r="0.55"/><circle cx="297.5" cy="502" r="0.55"/><circle cx="297.5" cy="508" r="0.55"/><circle cx="297.5" cy="514" r="0.55"/><circle cx="297.5" cy="519" r="0.55"/></g>
<text x="290" y="505.6" font-size="5.2" fill="#5C3622" class="t" text-anchor="middle" transform="rotate(-57 290 504.6)" opacity="0.85">BOURBON</text>
<g filter="url(#b1)">
<path d="M346,493.5 L374,480.5 L393.6,500 L391.6,507.4 L362,519.6 L346.4,498.4Z" fill="#CF8E3B"/>
<path d="M346.6,494.6 L362.4,515.6 L392.4,503.2" fill="none" stroke="#F3CF6E" stroke-width="1.5"/>
<path d="M346,492.4 L374,479.4 L393.4,498.8 L362.6,512.4Z" fill="url(#gCus)"/>
<path d="M357,494 L371,485.6 L383,497.4 L366,505.6Z" fill="#F6DC95" opacity="0.85"/>
</g>
<g stroke="#D29A3E" stroke-width="0.7" fill="none" opacity="0.9"><path d="M350,493 L373.6,482.6 L389.6,498.6 L363.4,509.4Z"/><path d="M357,494 L371,485.6 L383,497.4 L366,505.6Z"/><path d="M352,496 l3,4 M356,499 l2.6,3.6 M374,484.6 l3.4,3.2 M379,489 l3,3 M368,507 l4,-1.8 M375,504 l4,-1.8 M382,501 l3.6,-1.6 M353,491.4 l3.4,-1.6 M359.6,488.4 l3.6,-1.6"/></g>
<path d="M376.1,498.5q0.6,0.9 0.7,1.0M356.3,500.7q0.9,0.3 1.1,-0.9M364.2,491.7q0.1,0.1 -1.4,-0.7M369.7,505.6q0.5,-0.7 0.8,-0.9M366.0,487.9q-1.0,0.7 -0.8,-0.7M387.8,496.5q-0.4,0.9 0.1,0.4M368.1,506.9q0.4,0.9 1.1,-0.5M360.2,491.6q-0.7,-0.9 -0.6,0.2M358.8,504.7q-0.3,-0.4 0.9,-0.0M367.1,485.7q1.0,-1.0 0.7,0.8M360.8,506.4q-0.3,0.2 -1.4,-1.1M367.6,507.4q-0.6,0.5 1.2,1.1M374.0,500.2q-0.8,0.5 0.8,0.9M363.6,509.0q-0.8,-0.3 0.3,1.0M371.4,505.0q0.1,-0.4 -0.5,-0.8M352.8,494.5q0.4,1.0 -0.9,-1.1M382.2,490.6q-0.2,-0.5 0.3,0.8M363.7,508.2q-0.9,-0.0 0.9,-0.9M382.3,500.8q0.3,0.6 -1.1,-0.2M365.1,505.9q-0.4,-0.1 1.4,0.8M380.5,489.4q-0.0,0.5 -0.1,-0.5M361.0,490.7q-0.2,1.0 1.3,0.3M355.0,496.6q0.6,0.7 -0.4,0.7M379.3,495.9q0.3,0.5 -0.4,0.5M379.1,495.9q-0.4,0.9 0.4,0.2M357.1,502.3q-0.5,0.3 -0.1,0.8M377.6,499.2q-0.3,0.3 0.7,0.8M370.4,503.5q0.7,0.4 1.3,1.1M365.5,505.5q0.9,-0.0 0.5,0.5M369.6,487.4q0.6,0.2 0.5,-0.2M376.6,499.0q0.3,0.4 -1.3,-0.8M364.6,502.3q0.3,-0.9 -0.1,-0.7M352.0,494.5q-0.4,-0.6 -0.9,-1.1M368.4,505.9q-1.0,-0.2 -0.6,-0.2M364.0,506.1q-0.3,-0.9 0.3,-1.0M378.4,502.7q0.6,-0.2 0.9,0.3M360.1,491.1q0.2,0.1 1.3,1.1M370.8,482.6q-0.8,0.1 0.3,-0.9M378.7,501.0q-0.2,-0.1 -0.8,-0.5M379.2,488.2q0.9,0.8 0.3,-0.6M381.4,490.1q-0.2,-0.4 1.4,-0.0M361.0,502.3q-0.1,-0.4 0.8,0.8M356.9,502.0q-0.5,0.9 0.8,-0.6M357.7,492.4q1.0,-0.4 0.3,-0.1M369.0,486.3q0.5,-0.4 0.1,-0.4M376.8,494.4q-0.9,-0.5 -0.1,1.0M379.8,492.0q-1.0,0.6 -0.2,0.2M375.0,503.1q-0.2,-0.2 1.0,-0.7M368.8,503.9q-0.9,0.7 0.5,-0.2M367.8,503.1q0.8,-0.7 -0.1,0.1M361.3,501.3q0.6,-0.9 -0.8,0.8M379.2,495.1q-0.9,0.4 1.3,1.2M366.9,485.6q0.7,-0.6 0.4,1.1M368.5,487.0q-0.4,0.8 -1.0,0.3M361.5,490.9q0.2,-0.9 -1.1,-0.3M351.3,493.0q0.2,0.5 1.1,-0.9M378.2,488.5q-0.9,0.4 -1.0,0.3M375.7,502.8q0.1,0.2 -0.7,0.1M366.5,503.0q0.0,-0.7 -0.7,-0.3M369.9,487.5q0.4,0.3 -1.2,0.4M352.8,494.0q0.2,-0.5 1.1,-0.0M369.0,503.0q-0.9,0.5 -1.2,-0.8M383.7,493.6q-0.6,-0.8 1.3,0.4M371.3,485.8q0.2,-0.3 -0.7,-0.4M360.4,490.8q0.7,0.3 0.9,-0.2M378.4,491.9q0.2,0.1 0.7,-0.3M351.6,492.3q-0.6,-0.9 1.1,-0.0M367.5,484.1q-0.1,0.8 0.3,-0.2M361.8,489.2q-0.7,-0.7 -0.4,-0.3M373.0,485.3q-0.5,-0.4 -0.9,-0.5" stroke="#C98A30" stroke-width="0.7" fill="none" opacity="0.8"/><g fill="#F8E09A" opacity="0.8"><circle cx="362.2" cy="498.4" r="0.5"/><circle cx="363.5" cy="508.1" r="0.5"/><circle cx="372.3" cy="504.5" r="0.5"/><circle cx="376.3" cy="496.5" r="0.5"/><circle cx="375.0" cy="503.4" r="0.5"/><circle cx="362.0" cy="502.8" r="0.5"/><circle cx="366.4" cy="501.0" r="0.5"/><circle cx="369.4" cy="487.6" r="0.5"/><circle cx="354.7" cy="491.2" r="0.5"/><circle cx="356.2" cy="491.7" r="0.5"/><circle cx="373.6" cy="504.7" r="0.5"/><circle cx="362.9" cy="494.1" r="0.5"/><circle cx="364.9" cy="492.5" r="0.5"/><circle cx="378.1" cy="496.7" r="0.5"/><circle cx="356.9" cy="495.2" r="0.5"/><circle cx="380.1" cy="501.1" r="0.5"/><circle cx="371.5" cy="493.0" r="0.5"/><circle cx="372.8" cy="482.4" r="0.5"/><circle cx="362.1" cy="505.3" r="0.5"/><circle cx="360.0" cy="489.2" r="0.5"/><circle cx="377.6" cy="503.3" r="0.5"/><circle cx="367.2" cy="493.1" r="0.5"/><circle cx="352.8" cy="493.1" r="0.5"/><circle cx="378.7" cy="491.1" r="0.5"/><circle cx="372.6" cy="483.6" r="0.5"/><circle cx="356.1" cy="491.1" r="0.5"/><circle cx="359.9" cy="489.6" r="0.5"/><circle cx="361.6" cy="496.9" r="0.5"/><circle cx="357.6" cy="490.5" r="0.5"/><circle cx="364.3" cy="508.8" r="0.5"/><circle cx="361.2" cy="499.5" r="0.5"/><circle cx="367.1" cy="497.4" r="0.5"/><circle cx="356.1" cy="497.3" r="0.5"/><circle cx="359.9" cy="500.8" r="0.5"/><circle cx="381.0" cy="492.7" r="0.5"/><circle cx="373.3" cy="487.1" r="0.5"/><circle cx="357.6" cy="501.8" r="0.5"/><circle cx="369.7" cy="497.1" r="0.5"/><circle cx="367.8" cy="499.2" r="0.5"/><circle cx="381.0" cy="500.0" r="0.5"/></g>
<ellipse cx="445" cy="514" rx="20" ry="5" fill="#E8E4E2" filter="url(#b2)"/>
<g filter="url(#b1)">
<path d="M439.8,471.6 C450,471 458.4,478.6 458,489.8 C454.6,489.4 450,492 448,496 C446,500 446.4,505 444,511.6 C440,514.6 434.6,513.4 429,509 C421.6,502.6 420.6,490 424.6,481.4 C427.6,475.4 433,472 439.8,471.6Z" fill="#D8C6A8"/>
<path d="M439.2,471 C449.6,470.4 457.6,478 457.2,489 C453.8,488.8 449.2,491.2 447.2,495.4 C445.2,499.4 445.6,504.4 443,510.6 C439.4,513.6 434,512.4 428.6,508 C421.4,501.8 420.4,489.4 424.2,481 C427.2,475 432.4,471.4 439.2,471Z" fill="url(#gChoc)"/>
</g>
<g stroke="#A8785A" stroke-width="0.7" opacity="0.75" fill="none"><path d="M427,479 L452,477.4 M424,484 L456,482.2 M422.6,489 L456.6,487.4 M422.4,494 L449,492.6 M423.6,499 L446.4,497.8 M426,504 L445.6,503 M431,509 L443.6,508.4"/><path d="M431,475.4 L434,510.4 M436,472.6 L439.4,511.8 M441.4,471.6 L444.2,508 M446.6,472.6 L448,494 M451.6,475.6 L452.6,489.4 M426.4,480 L428.6,506.4"/></g>
<circle cx="447.6" cy="505.6" r="0.75" fill="#B98A4A" opacity="0.9"/><circle cx="450.6" cy="508.6" r="0.75" fill="#B98A4A" opacity="0.9"/><circle cx="448.4" cy="511.6" r="0.75" fill="#B98A4A" opacity="0.9"/><circle cx="453.6" cy="512.4" r="0.75" fill="#B98A4A" opacity="0.9"/><circle cx="456.4" cy="509.6" r="0.75" fill="#B98A4A" opacity="0.9"/><circle cx="459.6" cy="513.0" r="0.75" fill="#B98A4A" opacity="0.9"/><circle cx="463.2" cy="510.0" r="0.75" fill="#B98A4A" opacity="0.9"/><circle cx="457.0" cy="515.6" r="0.75" fill="#B98A4A" opacity="0.9"/><circle cx="451.0" cy="515.2" r="0.75" fill="#B98A4A" opacity="0.9"/><circle cx="463.8" cy="518.4" r="0.75" fill="#B98A4A" opacity="0.9"/>
<g clip-path="url(#cb7)"><g filter="url(#b1)">
<path d="M491,469 L508,469 L508,480 C506,488 502,494 497,497 L491,497Z" fill="#E58B2B"/>
<path d="M491,478 L494,478 L494.6,492 L491,494Z" fill="#2F4FA0" opacity="0.7"/>
<path d="M499,470 L503,470 L502,486 L498,488Z" fill="#F2A54A" opacity="0.8"/>
<ellipse cx="515.6" cy="516.2" rx="22.6" ry="9.6" fill="#8E4F22"/>
<ellipse cx="515.6" cy="514.6" rx="22.6" ry="9.6" fill="#C88A50"/>
<ellipse cx="515.6" cy="509.0" rx="22.6" ry="9.6" fill="#8E4F22"/>
<ellipse cx="515.6" cy="507.4" rx="22.6" ry="9.6" fill="#C88A50"/>
<ellipse cx="515.6" cy="501.8" rx="22.6" ry="9.6" fill="#8E4F22"/>
<ellipse cx="515.6" cy="500.2" rx="22.6" ry="9.6" fill="#C88A50"/>
<ellipse cx="515.4" cy="490.6" rx="23" ry="13.6" fill="#8E4F22"/>
<ellipse cx="515.4" cy="488.4" rx="23" ry="13.8" fill="url(#gHob)"/>
</g>
<g opacity="0.8"><circle cx="510.4" cy="495.9" r="0.7" fill="#A8642F"/><circle cx="508.0" cy="486.9" r="0.6" fill="#F0D6AE"/><circle cx="520.4" cy="482.3" r="0.5" fill="#E9C79A"/><circle cx="498.1" cy="490.2" r="0.7" fill="#A8642F"/><circle cx="513.0" cy="496.7" r="0.5" fill="#A8642F"/><circle cx="521.0" cy="477.6" r="0.8" fill="#E9C79A"/><circle cx="505.1" cy="491.6" r="0.7" fill="#E9C79A"/><circle cx="528.9" cy="482.5" r="0.7" fill="#E9C79A"/><circle cx="497.7" cy="492.3" r="0.7" fill="#E9C79A"/><circle cx="513.0" cy="478.4" r="0.5" fill="#B87640"/><circle cx="504.4" cy="485.8" r="0.5" fill="#A8642F"/><circle cx="514.0" cy="498.2" r="0.5" fill="#E9C79A"/><circle cx="498.0" cy="485.7" r="0.4" fill="#E9C79A"/><circle cx="522.6" cy="489.8" r="0.5" fill="#F0D6AE"/><circle cx="531.0" cy="485.5" r="0.5" fill="#B87640"/><circle cx="522.0" cy="492.2" r="0.5" fill="#A8642F"/><circle cx="498.9" cy="482.9" r="0.7" fill="#E9C79A"/><circle cx="513.5" cy="497.7" r="0.7" fill="#A8642F"/><circle cx="496.2" cy="492.3" r="0.7" fill="#E9C79A"/><circle cx="508.4" cy="495.3" r="0.5" fill="#B87640"/><circle cx="517.6" cy="490.7" r="0.7" fill="#A8642F"/><circle cx="495.2" cy="486.0" r="0.6" fill="#E9C79A"/><circle cx="528.9" cy="496.3" r="0.7" fill="#A8642F"/><circle cx="519.2" cy="488.1" r="0.6" fill="#B87640"/><circle cx="511.9" cy="481.5" r="0.6" fill="#A8642F"/><circle cx="513.8" cy="493.7" r="0.6" fill="#F0D6AE"/><circle cx="517.1" cy="477.8" r="0.5" fill="#A8642F"/><circle cx="522.1" cy="479.4" r="0.8" fill="#E9C79A"/><circle cx="505.6" cy="483.3" r="0.5" fill="#A8642F"/><circle cx="511.3" cy="488.5" r="0.5" fill="#E9C79A"/><circle cx="515.7" cy="482.0" r="0.8" fill="#F0D6AE"/><circle cx="501.1" cy="489.6" r="0.6" fill="#E9C79A"/><circle cx="519.4" cy="481.4" r="0.4" fill="#A8642F"/><circle cx="516.6" cy="486.8" r="0.7" fill="#F0D6AE"/><circle cx="500.6" cy="487.7" r="0.6" fill="#B87640"/><circle cx="497.7" cy="491.7" r="0.6" fill="#E9C79A"/><circle cx="497.1" cy="485.9" r="0.5" fill="#E9C79A"/><circle cx="508.9" cy="480.6" r="0.5" fill="#E9C79A"/><circle cx="533.6" cy="490.2" r="0.6" fill="#B87640"/><circle cx="508.3" cy="499.2" r="0.5" fill="#A8642F"/><circle cx="531.8" cy="493.0" r="0.7" fill="#F0D6AE"/><circle cx="529.3" cy="482.4" r="0.7" fill="#A8642F"/><circle cx="509.1" cy="488.8" r="0.4" fill="#F0D6AE"/><circle cx="530.7" cy="487.0" r="0.6" fill="#E9C79A"/><circle cx="509.3" cy="481.9" r="0.7" fill="#A8642F"/><circle cx="529.3" cy="483.4" r="0.6" fill="#E9C79A"/><circle cx="526.3" cy="479.0" r="0.7" fill="#F0D6AE"/><circle cx="515.4" cy="492.2" r="0.5" fill="#F0D6AE"/><circle cx="517.1" cy="485.2" r="0.8" fill="#E9C79A"/><circle cx="503.1" cy="480.6" r="0.5" fill="#E9C79A"/><circle cx="500.4" cy="484.4" r="0.7" fill="#B87640"/><circle cx="503.5" cy="492.3" r="0.6" fill="#A8642F"/><circle cx="511.8" cy="494.4" r="0.6" fill="#F0D6AE"/><circle cx="516.8" cy="490.3" r="0.4" fill="#A8642F"/><circle cx="504.4" cy="491.2" r="0.4" fill="#F0D6AE"/><circle cx="514.7" cy="485.5" r="0.6" fill="#E9C79A"/><circle cx="507.3" cy="498.5" r="0.7" fill="#A8642F"/><circle cx="528.3" cy="482.6" r="0.7" fill="#E9C79A"/><circle cx="532.6" cy="488.5" r="0.4" fill="#F0D6AE"/><circle cx="524.9" cy="496.1" r="0.4" fill="#B87640"/><circle cx="513.8" cy="477.6" r="0.7" fill="#E9C79A"/><circle cx="502.8" cy="496.5" r="0.5" fill="#F0D6AE"/><circle cx="505.4" cy="494.2" r="0.7" fill="#E9C79A"/><circle cx="515.9" cy="500.0" r="0.6" fill="#E9C79A"/><circle cx="527.4" cy="494.6" r="0.5" fill="#E9C79A"/><circle cx="494.8" cy="488.7" r="0.8" fill="#E9C79A"/><circle cx="495.1" cy="489.1" r="0.7" fill="#E9C79A"/><circle cx="526.2" cy="494.0" r="0.5" fill="#A8642F"/><circle cx="526.7" cy="484.8" r="0.5" fill="#B87640"/><circle cx="503.9" cy="480.2" r="0.4" fill="#E9C79A"/><circle cx="507.1" cy="507.4" r="0.7" fill="#B87640"/><circle cx="512.7" cy="504.8" r="0.7" fill="#A8642F"/><circle cx="522.3" cy="501.6" r="0.5" fill="#E0B88A"/><circle cx="517.7" cy="509.5" r="0.5" fill="#A8642F"/><circle cx="530.1" cy="505.4" r="0.5" fill="#E0B88A"/><circle cx="528.2" cy="500.1" r="0.6" fill="#A8642F"/><circle cx="528.2" cy="500.5" r="0.6" fill="#A8642F"/><circle cx="530.6" cy="501.7" r="0.7" fill="#E0B88A"/><circle cx="534.9" cy="509.7" r="0.5" fill="#E0B88A"/><circle cx="534.2" cy="513.2" r="0.7" fill="#A8642F"/><circle cx="515.8" cy="501.2" r="0.5" fill="#B87640"/><circle cx="512.8" cy="513.1" r="0.7" fill="#B87640"/><circle cx="520.3" cy="512.9" r="0.5" fill="#A8642F"/><circle cx="526.6" cy="509.1" r="0.7" fill="#A8642F"/><circle cx="532.5" cy="508.3" r="0.7" fill="#E0B88A"/><circle cx="531.6" cy="503.3" r="0.6" fill="#A8642F"/><circle cx="529.2" cy="501.7" r="0.5" fill="#A8642F"/><circle cx="512.3" cy="506.0" r="0.5" fill="#A8642F"/><circle cx="495.1" cy="513.9" r="0.6" fill="#A8642F"/><circle cx="498.2" cy="515.1" r="0.4" fill="#A8642F"/><circle cx="531.3" cy="504.3" r="0.4" fill="#A8642F"/><circle cx="534.4" cy="513.2" r="0.4" fill="#E0B88A"/><circle cx="498.2" cy="508.0" r="0.6" fill="#E0B88A"/><circle cx="502.6" cy="509.4" r="0.5" fill="#B87640"/><circle cx="510.3" cy="517.1" r="0.4" fill="#B87640"/><circle cx="531.7" cy="519.6" r="0.6" fill="#A8642F"/><circle cx="499.6" cy="514.2" r="0.5" fill="#A8642F"/><circle cx="532.2" cy="512.0" r="0.5" fill="#E0B88A"/><circle cx="534.6" cy="503.1" r="0.4" fill="#E0B88A"/><circle cx="525.0" cy="502.9" r="0.5" fill="#B87640"/><circle cx="497.3" cy="500.3" r="0.5" fill="#E0B88A"/><circle cx="515.7" cy="513.4" r="0.6" fill="#E0B88A"/><circle cx="528.0" cy="505.2" r="0.6" fill="#A8642F"/><circle cx="526.8" cy="512.3" r="0.5" fill="#E0B88A"/><circle cx="521.8" cy="520.3" r="0.5" fill="#B87640"/><circle cx="506.3" cy="512.8" r="0.6" fill="#A8642F"/><circle cx="535.5" cy="506.6" r="0.4" fill="#B87640"/><circle cx="498.2" cy="509.9" r="0.6" fill="#B87640"/><circle cx="520.4" cy="502.2" r="0.6" fill="#B87640"/><circle cx="510.3" cy="509.0" r="0.5" fill="#E0B88A"/><circle cx="515.3" cy="512.5" r="0.5" fill="#A8642F"/><circle cx="496.7" cy="516.3" r="0.4" fill="#E0B88A"/><circle cx="510.3" cy="507.5" r="0.6" fill="#A8642F"/><circle cx="527.1" cy="516.3" r="0.5" fill="#E0B88A"/><circle cx="520.7" cy="508.5" r="0.6" fill="#E0B88A"/><circle cx="523.8" cy="513.0" r="0.7" fill="#E0B88A"/><circle cx="519.3" cy="512.4" r="0.7" fill="#A8642F"/><circle cx="518.0" cy="500.2" r="0.4" fill="#B87640"/><circle cx="515.3" cy="519.2" r="0.4" fill="#B87640"/><circle cx="511.9" cy="509.1" r="0.6" fill="#A8642F"/></g>
<circle cx="503.0" cy="484.0" r="0.8" fill="#E8BE8A" opacity="0.8"/><circle cx="509.0" cy="480.0" r="0.8" fill="#E8BE8A" opacity="0.8"/><circle cx="517.0" cy="481.0" r="0.8" fill="#E8BE8A" opacity="0.8"/><circle cx="524.0" cy="483.0" r="0.8" fill="#E8BE8A" opacity="0.8"/><circle cx="529.0" cy="488.0" r="0.8" fill="#E8BE8A" opacity="0.8"/><circle cx="500.0" cy="490.0" r="0.8" fill="#E8BE8A" opacity="0.8"/><circle cx="507.0" cy="489.0" r="0.8" fill="#E8BE8A" opacity="0.8"/><circle cx="515.0" cy="487.0" r="0.8" fill="#E8BE8A" opacity="0.8"/><circle cx="521.0" cy="491.0" r="0.8" fill="#E8BE8A" opacity="0.8"/><circle cx="512.0" cy="494.0" r="0.8" fill="#E8BE8A" opacity="0.8"/><circle cx="525.0" cy="494.0" r="0.8" fill="#E8BE8A" opacity="0.8"/><circle cx="504.0" cy="495.0" r="0.8" fill="#E8BE8A" opacity="0.8"/><circle cx="518.0" cy="497.0" r="0.8" fill="#E8BE8A" opacity="0.8"/>
</g>
<g filter="url(#b1)">
<ellipse cx="592.4" cy="498.6" rx="20.3" ry="23.8" fill="#A07C40" transform="rotate(-8 592.4 498.6)"/>
<ellipse cx="592.2" cy="498" rx="19.6" ry="23" fill="url(#gTea)" transform="rotate(-8 592.2 498)"/>
</g>
<circle cx="588.0" cy="481.0" r="0.6" fill="#A88850" opacity="0.9"/><circle cx="596.0" cy="481.0" r="0.6" fill="#A88850" opacity="0.9"/><circle cx="582.0" cy="487.0" r="0.6" fill="#A88850" opacity="0.9"/><circle cx="589.0" cy="488.0" r="0.6" fill="#A88850" opacity="0.9"/><circle cx="596.0" cy="488.0" r="0.6" fill="#A88850" opacity="0.9"/><circle cx="603.0" cy="488.0" r="0.6" fill="#A88850" opacity="0.9"/><circle cx="579.0" cy="495.0" r="0.6" fill="#A88850" opacity="0.9"/><circle cx="586.0" cy="495.0" r="0.6" fill="#A88850" opacity="0.9"/><circle cx="593.0" cy="495.0" r="0.6" fill="#A88850" opacity="0.9"/><circle cx="600.0" cy="495.0" r="0.6" fill="#A88850" opacity="0.9"/><circle cx="606.0" cy="496.0" r="0.6" fill="#A88850" opacity="0.9"/><circle cx="579.0" cy="503.0" r="0.6" fill="#A88850" opacity="0.9"/><circle cx="586.0" cy="502.0" r="0.6" fill="#A88850" opacity="0.9"/><circle cx="593.0" cy="502.0" r="0.6" fill="#A88850" opacity="0.9"/><circle cx="600.0" cy="502.0" r="0.6" fill="#A88850" opacity="0.9"/><circle cx="606.0" cy="503.0" r="0.6" fill="#A88850" opacity="0.9"/><circle cx="583.0" cy="509.0" r="0.6" fill="#A88850" opacity="0.9"/><circle cx="590.0" cy="509.0" r="0.6" fill="#A88850" opacity="0.9"/><circle cx="597.0" cy="509.0" r="0.6" fill="#A88850" opacity="0.9"/><circle cx="603.0" cy="509.0" r="0.6" fill="#A88850" opacity="0.9"/><circle cx="589.0" cy="515.0" r="0.6" fill="#A88850" opacity="0.9"/><circle cx="596.0" cy="515.0" r="0.6" fill="#A88850" opacity="0.9"/>
<rect x="43" y="469" width="54" height="64" fill="none" stroke="#000" stroke-width="2"/>
<rect x="117" y="469" width="54" height="64" fill="none" stroke="#000" stroke-width="2"/>
<rect x="191" y="469" width="54" height="64" fill="none" stroke="#000" stroke-width="2"/>
<rect x="264" y="469" width="54" height="64" fill="none" stroke="#000" stroke-width="2"/>
<rect x="341" y="468" width="54" height="64" fill="none" stroke="#000" stroke-width="2"/>
<rect x="417" y="468" width="54" height="64" fill="none" stroke="#000" stroke-width="2"/>
<rect x="490" y="468" width="54" height="64" fill="none" stroke="#000" stroke-width="2"/>
<rect x="563" y="468" width="54" height="64" fill="none" stroke="#000" stroke-width="2"/>
</g>

</svg>
</body></html>
